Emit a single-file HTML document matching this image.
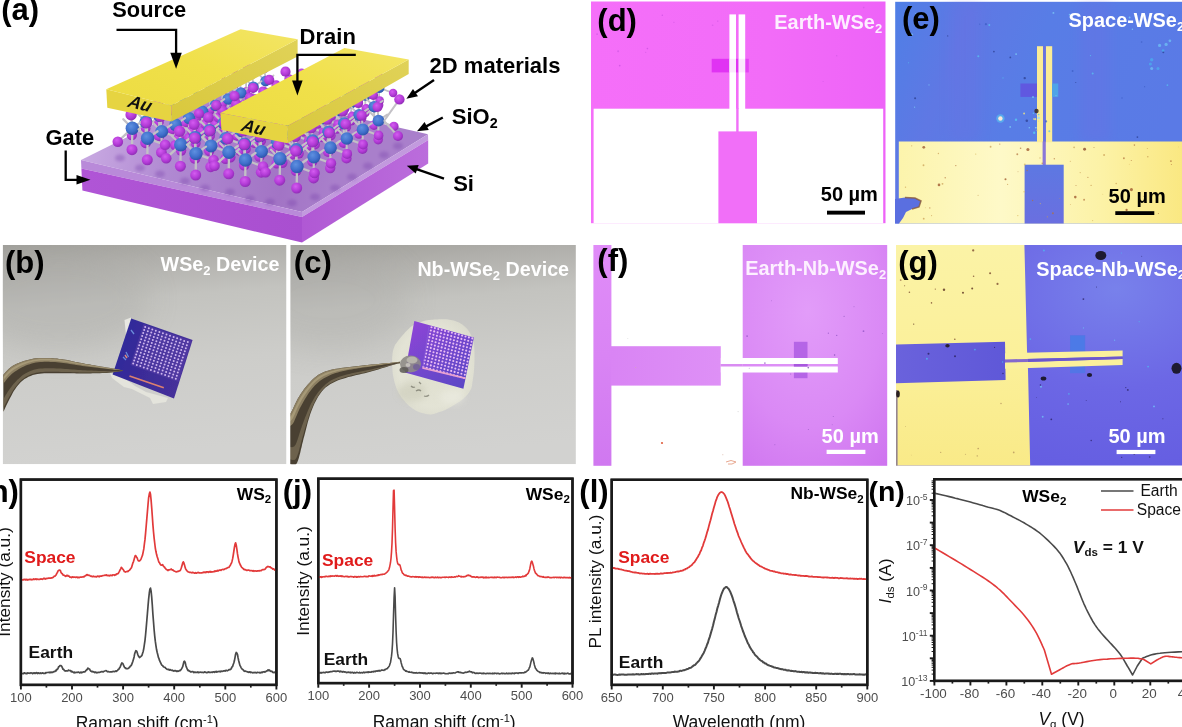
<!DOCTYPE html>
<html lang="en"><head><meta charset="utf-8"><title>Figure</title>
<style>
html,body{margin:0;padding:0;background:#fff;}
body{width:1182px;height:727px;overflow:hidden;position:relative;}
svg{display:block;position:absolute;left:-6px;top:-6px;font-family:"Liberation Sans", Arial, sans-serif;filter:blur(0.35px);}
svg text{font-family:"Liberation Sans", Arial, sans-serif;}
</style></head><body>
<svg width="1194" height="739" viewBox="-6 -6 1194 739">
<defs>

<linearGradient id="gd_pink" x1="0" y1="0" x2="1" y2="0"><stop offset="0" stop-color="#f56ff9"/><stop offset="0.6" stop-color="#f26cf8"/><stop offset="1" stop-color="#ee63f8"/></linearGradient>
<linearGradient id="ge_blue" x1="0" y1="0" x2="1" y2="0.3"><stop offset="0" stop-color="#4f7fe6"/><stop offset="0.25" stop-color="#5f78e4"/><stop offset="0.5" stop-color="#587de6"/><stop offset="1" stop-color="#5a7ae6"/></linearGradient>
<linearGradient id="ge_gold" x1="0" y1="0" x2="1" y2="0"><stop offset="0" stop-color="#fcf4ac"/><stop offset="0.35" stop-color="#fef9c8"/><stop offset="0.7" stop-color="#fcf2a6"/><stop offset="1" stop-color="#fae77e"/></linearGradient>
<linearGradient id="ge_pad" x1="0" y1="0" x2="0" y2="1"><stop offset="0" stop-color="#5d78e2"/><stop offset="1" stop-color="#6a6fe0"/></linearGradient>
<linearGradient id="gf_left" x1="0" y1="0" x2="0" y2="1"><stop offset="0" stop-color="#e08cf8"/><stop offset="0.5" stop-color="#d984f4"/><stop offset="1" stop-color="#d078f0"/></linearGradient>
<radialGradient id="gf_right" cx="0.45" cy="0.3" r="0.95"><stop offset="0" stop-color="#e29cf9"/><stop offset="0.55" stop-color="#da89f5"/><stop offset="1" stop-color="#cc70ee"/></radialGradient>
<linearGradient id="gf_pad" x1="0" y1="0" x2="1" y2="0"><stop offset="0" stop-color="#d984f4"/><stop offset="1" stop-color="#de90f6"/></linearGradient>
<radialGradient id="gg_blue" cx="0.75" cy="0.2" r="1.0"><stop offset="0" stop-color="#7881eb"/><stop offset="0.45" stop-color="#6c67e5"/><stop offset="1" stop-color="#625ae0"/></radialGradient>
<linearGradient id="gg_gold" x1="0" y1="0" x2="0" y2="1"><stop offset="0" stop-color="#fbf3a6"/><stop offset="0.5" stop-color="#fbf09a"/><stop offset="1" stop-color="#f9ea88"/></linearGradient>
<linearGradient id="gg_pad" x1="0" y1="0" x2="1" y2="0"><stop offset="0" stop-color="#6a62dc"/><stop offset="1" stop-color="#5f58d8"/></linearGradient>
<filter id="blur4" x="-50%" y="-50%" width="200%" height="200%"><feGaussianBlur stdDeviation="6"/></filter>
<filter id="blur1" x="-20%" y="-20%" width="140%" height="140%"><feGaussianBlur stdDeviation="0.6"/></filter>
<filter id="blur2" x="-20%" y="-20%" width="140%" height="140%"><feGaussianBlur stdDeviation="1.2"/></filter>


<radialGradient id="ga_pur" cx="0.4" cy="0.35" r="0.7"><stop offset="0" stop-color="#d45cf0"/><stop offset="0.6" stop-color="#b23ad6"/><stop offset="1" stop-color="#8a2ab0"/></radialGradient>
<radialGradient id="ga_blu" cx="0.4" cy="0.35" r="0.7"><stop offset="0" stop-color="#5f90e0"/><stop offset="0.6" stop-color="#3f6fcb"/><stop offset="1" stop-color="#2a4fa4"/></radialGradient>
<linearGradient id="ga_top" gradientUnits="userSpaceOnUse" x1="81" y1="160" x2="330" y2="200"><stop offset="0" stop-color="#c9aae2"/><stop offset="0.35" stop-color="#b089d2"/><stop offset="0.8" stop-color="#a274c5"/><stop offset="1" stop-color="#a97fcb"/></linearGradient>
<linearGradient id="ga_si1" x1="0" y1="0" x2="1" y2="0"><stop offset="0" stop-color="#b055d6"/><stop offset="1" stop-color="#a94fd0"/></linearGradient>
<linearGradient id="ga_si2" x1="0" y1="0" x2="1" y2="0"><stop offset="0" stop-color="#b058d4"/><stop offset="1" stop-color="#bb6ddc"/></linearGradient>
<linearGradient id="ga_au_t" x1="0" y1="1" x2="1" y2="0"><stop offset="0" stop-color="#ecdc42"/><stop offset="0.5" stop-color="#f0e04a"/><stop offset="1" stop-color="#f3e566"/></linearGradient>
<linearGradient id="ga_au_r" x1="0" y1="1" x2="1" y2="0"><stop offset="0" stop-color="#d9c83c"/><stop offset="1" stop-color="#e0d258"/></linearGradient>
<filter id="blur2a" x="-20%" y="-20%" width="140%" height="140%"><feGaussianBlur stdDeviation="1.6"/></filter>
<filter id="blur05" x="-5%" y="-5%" width="110%" height="110%"><feGaussianBlur stdDeviation="0.45"/></filter>


<linearGradient id="gb_bg" x1="0" y1="0" x2="0.12" y2="1"><stop offset="0" stop-color="#a09f9a"/><stop offset="0.12" stop-color="#b0afab"/><stop offset="0.3" stop-color="#c3c3bf"/><stop offset="0.6" stop-color="#cdcdca"/><stop offset="1" stop-color="#d2d2d0"/></linearGradient>
<linearGradient id="gb_chip" x1="0" y1="0" x2="1" y2="0.3"><stop offset="0" stop-color="#2b2a9c"/><stop offset="0.5" stop-color="#3a2c98"/><stop offset="1" stop-color="#46309a"/></linearGradient>
<linearGradient id="gc_chip" x1="0" y1="0" x2="0.8" y2="1"><stop offset="0" stop-color="#9244d8"/><stop offset="0.45" stop-color="#7746cf"/><stop offset="1" stop-color="#5c46c6"/></linearGradient>
<linearGradient id="gb_tw" x1="0" y1="0" x2="0" y2="1"><stop offset="0" stop-color="#8a8266"/><stop offset="0.2" stop-color="#544b36"/><stop offset="0.55" stop-color="#6e6248"/><stop offset="1" stop-color="#3e382a"/></linearGradient>
<linearGradient id="gc_tw" x1="0" y1="0" x2="0.5" y2="1"><stop offset="0" stop-color="#8a8266"/><stop offset="0.3" stop-color="#544b36"/><stop offset="0.6" stop-color="#6a5e46"/><stop offset="1" stop-color="#3e382a"/></linearGradient>
<radialGradient id="gc_glue" cx="0.5" cy="0.5" r="0.6"><stop offset="0" stop-color="#dfdfce"/><stop offset="0.7" stop-color="#e3e3d5"/><stop offset="1" stop-color="#d9d9cc"/></radialGradient>
<filter id="blur1p" x="-5%" y="-5%" width="110%" height="110%"><feGaussianBlur stdDeviation="0.65"/></filter>
<filter id="blur08" x="-5%" y="-5%" width="110%" height="110%"><feGaussianBlur stdDeviation="0.75"/></filter>
<filter id="blur2p" x="-30%" y="-30%" width="160%" height="160%"><feGaussianBlur stdDeviation="3"/></filter>
<filter id="blur12" x="-50%" y="-50%" width="200%" height="200%"><feGaussianBlur stdDeviation="14"/></filter>

</defs>
<rect x="-6" y="-6" width="1194" height="739" fill="#fff"/>
<g id="pa">
<polygon points="81.0,160.0 226.0,88.0 428.0,134.2 302.0,212.0" fill="url(#ga_top)"/>
<polygon points="81.0,160.0 302.0,212.0 302.0,217.0 81.4,168.4" fill="#b98ad9"/>
<polygon points="302.0,212.0 428.0,134.2 428.2,140.0 302.0,217.0" fill="#c29ade"/>
<polygon points="81.4,168.4 302.0,217.0 302.0,242.6 82.4,190.6" fill="url(#ga_si1)"/>
<polygon points="302.0,217.0 428.2,140.0 428.2,163.4 302.0,242.6" fill="url(#ga_si2)"/>
<g filter="url(#blur2a)" opacity="0.38"><ellipse cx="120" cy="158" rx="5" ry="3.6" fill="#7d46ad"/><ellipse cx="140" cy="168" rx="5" ry="3.6" fill="#7d46ad"/><ellipse cx="160" cy="174" rx="5" ry="3.6" fill="#7d46ad"/><ellipse cx="185" cy="181" rx="5" ry="3.6" fill="#7d46ad"/><ellipse cx="205" cy="188" rx="5" ry="3.6" fill="#7d46ad"/><ellipse cx="230" cy="192" rx="5" ry="3.6" fill="#7d46ad"/><ellipse cx="250" cy="199" rx="5" ry="3.6" fill="#7d46ad"/><ellipse cx="270" cy="202" rx="5" ry="3.6" fill="#7d46ad"/><ellipse cx="292" cy="203" rx="5" ry="3.6" fill="#7d46ad"/><ellipse cx="315" cy="197" rx="5" ry="3.6" fill="#7d46ad"/><ellipse cx="335" cy="188" rx="5" ry="3.6" fill="#7d46ad"/><ellipse cx="352" cy="177" rx="5" ry="3.6" fill="#7d46ad"/><ellipse cx="368" cy="166" rx="5" ry="3.6" fill="#7d46ad"/><ellipse cx="384" cy="155" rx="5" ry="3.6" fill="#7d46ad"/><ellipse cx="398" cy="146" rx="5" ry="3.6" fill="#7d46ad"/></g>
<g filter="url(#blur05)"><line x1="246.2" y1="74.6" x2="245.3" y2="63.8" stroke="#c3c1c6" stroke-width="1.83" stroke-linecap="round"/><line x1="246.2" y1="74.6" x2="246.0" y2="91.7" stroke="#c3c1c6" stroke-width="1.83" stroke-linecap="round"/><line x1="246.2" y1="74.6" x2="234.7" y2="85.3" stroke="#c3c1c6" stroke-width="1.83" stroke-linecap="round"/><line x1="246.2" y1="74.6" x2="239.1" y2="67.4" stroke="#c3c1c6" stroke-width="1.83" stroke-linecap="round"/><line x1="246.2" y1="74.6" x2="254.2" y2="69.0" stroke="#c3c1c6" stroke-width="1.83" stroke-linecap="round"/><circle cx="234.7" cy="85.3" r="4.2" fill="url(#ga_pur)"/><circle cx="246.0" cy="91.7" r="4.4" fill="url(#ga_pur)"/><circle cx="246.2" cy="74.6" r="5.3" fill="url(#ga_blu)"/><circle cx="245.3" cy="63.8" r="4.5" fill="url(#ga_pur)"/><line x1="265.5" y1="81.0" x2="264.5" y2="68.6" stroke="#c3c1c6" stroke-width="1.83" stroke-linecap="round"/><line x1="265.5" y1="81.0" x2="265.3" y2="98.1" stroke="#c3c1c6" stroke-width="1.83" stroke-linecap="round"/><line x1="265.5" y1="81.0" x2="279.4" y2="86.1" stroke="#c3c1c6" stroke-width="1.83" stroke-linecap="round"/><line x1="265.5" y1="81.0" x2="258.3" y2="73.8" stroke="#c3c1c6" stroke-width="1.83" stroke-linecap="round"/><line x1="265.5" y1="81.0" x2="273.5" y2="75.4" stroke="#c3c1c6" stroke-width="1.83" stroke-linecap="round"/><circle cx="279.4" cy="86.1" r="4.2" fill="url(#ga_pur)"/><circle cx="265.3" cy="98.1" r="4.4" fill="url(#ga_pur)"/><circle cx="265.5" cy="81.0" r="5.3" fill="url(#ga_blu)"/><circle cx="264.5" cy="68.6" r="4.5" fill="url(#ga_pur)"/><line x1="302.5" y1="83.7" x2="301.6" y2="72.9" stroke="#c3c1c6" stroke-width="1.83" stroke-linecap="round"/><line x1="302.5" y1="83.7" x2="302.3" y2="100.8" stroke="#c3c1c6" stroke-width="1.83" stroke-linecap="round"/><line x1="302.5" y1="83.7" x2="291.0" y2="94.4" stroke="#c3c1c6" stroke-width="1.83" stroke-linecap="round"/><line x1="302.5" y1="83.7" x2="295.4" y2="76.5" stroke="#c3c1c6" stroke-width="1.83" stroke-linecap="round"/><line x1="302.5" y1="83.7" x2="310.5" y2="78.1" stroke="#c3c1c6" stroke-width="1.83" stroke-linecap="round"/><circle cx="291.0" cy="94.4" r="4.2" fill="url(#ga_pur)"/><circle cx="302.3" cy="100.8" r="4.4" fill="url(#ga_pur)"/><circle cx="302.5" cy="83.7" r="5.3" fill="url(#ga_blu)"/><circle cx="301.6" cy="72.9" r="4.5" fill="url(#ga_pur)"/><line x1="321.8" y1="88.8" x2="320.8" y2="76.5" stroke="#c3c1c6" stroke-width="1.83" stroke-linecap="round"/><line x1="321.8" y1="88.8" x2="321.6" y2="106.0" stroke="#c3c1c6" stroke-width="1.83" stroke-linecap="round"/><line x1="321.8" y1="88.8" x2="335.7" y2="94.0" stroke="#c3c1c6" stroke-width="1.83" stroke-linecap="round"/><line x1="321.8" y1="88.8" x2="314.6" y2="81.7" stroke="#c3c1c6" stroke-width="1.83" stroke-linecap="round"/><line x1="321.8" y1="88.8" x2="329.8" y2="83.3" stroke="#c3c1c6" stroke-width="1.83" stroke-linecap="round"/><circle cx="335.7" cy="94.0" r="4.2" fill="url(#ga_pur)"/><circle cx="321.6" cy="106.0" r="4.4" fill="url(#ga_pur)"/><circle cx="321.8" cy="88.8" r="5.3" fill="url(#ga_blu)"/><circle cx="320.8" cy="76.5" r="4.5" fill="url(#ga_pur)"/><line x1="358.7" y1="83.8" x2="357.8" y2="73.1" stroke="#c3c1c6" stroke-width="1.83" stroke-linecap="round"/><line x1="358.7" y1="83.8" x2="358.5" y2="101.0" stroke="#c3c1c6" stroke-width="1.83" stroke-linecap="round"/><line x1="358.7" y1="83.8" x2="347.2" y2="94.6" stroke="#c3c1c6" stroke-width="1.83" stroke-linecap="round"/><line x1="358.7" y1="83.8" x2="351.6" y2="76.7" stroke="#c3c1c6" stroke-width="1.83" stroke-linecap="round"/><line x1="358.7" y1="83.8" x2="366.7" y2="78.3" stroke="#c3c1c6" stroke-width="1.83" stroke-linecap="round"/><circle cx="347.2" cy="94.6" r="4.2" fill="url(#ga_pur)"/><circle cx="358.5" cy="101.0" r="4.4" fill="url(#ga_pur)"/><circle cx="358.7" cy="83.8" r="5.3" fill="url(#ga_blu)"/><circle cx="357.8" cy="73.1" r="4.5" fill="url(#ga_pur)"/><line x1="379.2" y1="87.8" x2="378.2" y2="75.5" stroke="#c3c1c6" stroke-width="1.83" stroke-linecap="round"/><line x1="379.2" y1="87.8" x2="379.0" y2="104.9" stroke="#c3c1c6" stroke-width="1.83" stroke-linecap="round"/><line x1="379.2" y1="87.8" x2="393.1" y2="93.0" stroke="#c3c1c6" stroke-width="1.83" stroke-linecap="round"/><line x1="379.2" y1="87.8" x2="372.0" y2="80.7" stroke="#c3c1c6" stroke-width="1.83" stroke-linecap="round"/><line x1="379.2" y1="87.8" x2="387.2" y2="82.3" stroke="#c3c1c6" stroke-width="1.83" stroke-linecap="round"/><circle cx="393.1" cy="93.0" r="4.2" fill="url(#ga_pur)"/><circle cx="379.0" cy="104.9" r="4.4" fill="url(#ga_pur)"/><circle cx="379.2" cy="87.8" r="5.3" fill="url(#ga_blu)"/><circle cx="378.2" cy="75.5" r="4.5" fill="url(#ga_pur)"/><line x1="234.5" y1="80.1" x2="233.5" y2="69.1" stroke="#c3c1c6" stroke-width="1.88" stroke-linecap="round"/><line x1="234.5" y1="80.1" x2="234.2" y2="97.7" stroke="#c3c1c6" stroke-width="1.88" stroke-linecap="round"/><line x1="234.5" y1="80.1" x2="222.6" y2="91.1" stroke="#c3c1c6" stroke-width="1.88" stroke-linecap="round"/><line x1="234.5" y1="80.1" x2="227.1" y2="72.8" stroke="#c3c1c6" stroke-width="1.88" stroke-linecap="round"/><line x1="234.5" y1="80.1" x2="242.7" y2="74.4" stroke="#c3c1c6" stroke-width="1.88" stroke-linecap="round"/><circle cx="222.6" cy="91.1" r="4.3" fill="url(#ga_pur)"/><circle cx="234.2" cy="97.7" r="4.5" fill="url(#ga_pur)"/><circle cx="234.5" cy="80.1" r="5.5" fill="url(#ga_blu)"/><circle cx="233.5" cy="69.1" r="4.7" fill="url(#ga_pur)"/><line x1="253.3" y1="86.9" x2="252.3" y2="74.2" stroke="#c3c1c6" stroke-width="1.88" stroke-linecap="round"/><line x1="253.3" y1="86.9" x2="253.1" y2="104.4" stroke="#c3c1c6" stroke-width="1.88" stroke-linecap="round"/><line x1="253.3" y1="86.9" x2="267.6" y2="92.2" stroke="#c3c1c6" stroke-width="1.88" stroke-linecap="round"/><line x1="253.3" y1="86.9" x2="246.0" y2="79.5" stroke="#c3c1c6" stroke-width="1.88" stroke-linecap="round"/><line x1="253.3" y1="86.9" x2="261.5" y2="81.2" stroke="#c3c1c6" stroke-width="1.88" stroke-linecap="round"/><circle cx="267.6" cy="92.2" r="4.3" fill="url(#ga_pur)"/><circle cx="253.1" cy="104.4" r="4.5" fill="url(#ga_pur)"/><circle cx="253.3" cy="86.9" r="5.5" fill="url(#ga_blu)"/><circle cx="252.3" cy="74.2" r="4.7" fill="url(#ga_pur)"/><line x1="290.0" y1="90.0" x2="289.0" y2="78.9" stroke="#c3c1c6" stroke-width="1.88" stroke-linecap="round"/><line x1="290.0" y1="90.0" x2="289.7" y2="107.5" stroke="#c3c1c6" stroke-width="1.88" stroke-linecap="round"/><line x1="290.0" y1="90.0" x2="278.1" y2="101.0" stroke="#c3c1c6" stroke-width="1.88" stroke-linecap="round"/><line x1="290.0" y1="90.0" x2="282.6" y2="82.6" stroke="#c3c1c6" stroke-width="1.88" stroke-linecap="round"/><line x1="290.0" y1="90.0" x2="298.1" y2="84.2" stroke="#c3c1c6" stroke-width="1.88" stroke-linecap="round"/><circle cx="278.1" cy="101.0" r="4.3" fill="url(#ga_pur)"/><circle cx="289.7" cy="107.5" r="4.5" fill="url(#ga_pur)"/><circle cx="290.0" cy="90.0" r="5.5" fill="url(#ga_blu)"/><circle cx="289.0" cy="78.9" r="4.7" fill="url(#ga_pur)"/><line x1="308.8" y1="95.5" x2="307.8" y2="82.9" stroke="#c3c1c6" stroke-width="1.88" stroke-linecap="round"/><line x1="308.8" y1="95.5" x2="308.6" y2="113.1" stroke="#c3c1c6" stroke-width="1.88" stroke-linecap="round"/><line x1="308.8" y1="95.5" x2="323.1" y2="100.8" stroke="#c3c1c6" stroke-width="1.88" stroke-linecap="round"/><line x1="308.8" y1="95.5" x2="301.5" y2="88.2" stroke="#c3c1c6" stroke-width="1.88" stroke-linecap="round"/><line x1="308.8" y1="95.5" x2="317.0" y2="89.8" stroke="#c3c1c6" stroke-width="1.88" stroke-linecap="round"/><circle cx="323.1" cy="100.8" r="4.3" fill="url(#ga_pur)"/><circle cx="308.6" cy="113.1" r="4.5" fill="url(#ga_pur)"/><circle cx="308.8" cy="95.5" r="5.5" fill="url(#ga_blu)"/><circle cx="307.8" cy="82.9" r="4.7" fill="url(#ga_pur)"/><line x1="345.4" y1="90.9" x2="344.4" y2="79.9" stroke="#c3c1c6" stroke-width="1.88" stroke-linecap="round"/><line x1="345.4" y1="90.9" x2="345.1" y2="108.5" stroke="#c3c1c6" stroke-width="1.88" stroke-linecap="round"/><line x1="345.4" y1="90.9" x2="333.5" y2="101.9" stroke="#c3c1c6" stroke-width="1.88" stroke-linecap="round"/><line x1="345.4" y1="90.9" x2="338.0" y2="83.6" stroke="#c3c1c6" stroke-width="1.88" stroke-linecap="round"/><line x1="345.4" y1="90.9" x2="353.5" y2="85.2" stroke="#c3c1c6" stroke-width="1.88" stroke-linecap="round"/><circle cx="333.5" cy="101.9" r="4.3" fill="url(#ga_pur)"/><circle cx="345.1" cy="108.5" r="4.5" fill="url(#ga_pur)"/><circle cx="345.4" cy="90.9" r="5.5" fill="url(#ga_blu)"/><circle cx="344.4" cy="79.9" r="4.7" fill="url(#ga_pur)"/><line x1="365.4" y1="95.3" x2="364.4" y2="82.6" stroke="#c3c1c6" stroke-width="1.88" stroke-linecap="round"/><line x1="365.4" y1="95.3" x2="365.2" y2="112.8" stroke="#c3c1c6" stroke-width="1.88" stroke-linecap="round"/><line x1="365.4" y1="95.3" x2="379.7" y2="100.6" stroke="#c3c1c6" stroke-width="1.88" stroke-linecap="round"/><line x1="365.4" y1="95.3" x2="358.0" y2="87.9" stroke="#c3c1c6" stroke-width="1.88" stroke-linecap="round"/><line x1="365.4" y1="95.3" x2="373.6" y2="89.6" stroke="#c3c1c6" stroke-width="1.88" stroke-linecap="round"/><circle cx="379.7" cy="100.6" r="4.3" fill="url(#ga_pur)"/><circle cx="365.2" cy="112.8" r="4.5" fill="url(#ga_pur)"/><circle cx="365.4" cy="95.3" r="5.5" fill="url(#ga_blu)"/><circle cx="364.4" cy="82.6" r="4.7" fill="url(#ga_pur)"/><line x1="222.5" y1="85.7" x2="221.5" y2="74.4" stroke="#c3c1c6" stroke-width="1.93" stroke-linecap="round"/><line x1="222.5" y1="85.7" x2="222.3" y2="103.8" stroke="#c3c1c6" stroke-width="1.93" stroke-linecap="round"/><line x1="222.5" y1="85.7" x2="210.4" y2="97.1" stroke="#c3c1c6" stroke-width="1.93" stroke-linecap="round"/><line x1="222.5" y1="85.7" x2="215.0" y2="78.2" stroke="#c3c1c6" stroke-width="1.93" stroke-linecap="round"/><line x1="222.5" y1="85.7" x2="230.9" y2="79.9" stroke="#c3c1c6" stroke-width="1.93" stroke-linecap="round"/><circle cx="210.4" cy="97.1" r="4.4" fill="url(#ga_pur)"/><circle cx="222.3" cy="103.8" r="4.6" fill="url(#ga_pur)"/><circle cx="222.5" cy="85.7" r="5.6" fill="url(#ga_blu)"/><circle cx="221.5" cy="74.4" r="4.8" fill="url(#ga_pur)"/><line x1="240.9" y1="92.9" x2="239.9" y2="79.9" stroke="#c3c1c6" stroke-width="1.93" stroke-linecap="round"/><line x1="240.9" y1="92.9" x2="240.7" y2="110.9" stroke="#c3c1c6" stroke-width="1.93" stroke-linecap="round"/><line x1="240.9" y1="92.9" x2="255.6" y2="98.4" stroke="#c3c1c6" stroke-width="1.93" stroke-linecap="round"/><line x1="240.9" y1="92.9" x2="233.4" y2="85.4" stroke="#c3c1c6" stroke-width="1.93" stroke-linecap="round"/><line x1="240.9" y1="92.9" x2="249.3" y2="87.0" stroke="#c3c1c6" stroke-width="1.93" stroke-linecap="round"/><circle cx="255.6" cy="98.4" r="4.4" fill="url(#ga_pur)"/><circle cx="240.7" cy="110.9" r="4.6" fill="url(#ga_pur)"/><circle cx="240.9" cy="92.9" r="5.6" fill="url(#ga_blu)"/><circle cx="239.9" cy="79.9" r="4.8" fill="url(#ga_pur)"/><line x1="277.2" y1="96.4" x2="276.2" y2="85.1" stroke="#c3c1c6" stroke-width="1.93" stroke-linecap="round"/><line x1="277.2" y1="96.4" x2="276.9" y2="114.4" stroke="#c3c1c6" stroke-width="1.93" stroke-linecap="round"/><line x1="277.2" y1="96.4" x2="265.0" y2="107.7" stroke="#c3c1c6" stroke-width="1.93" stroke-linecap="round"/><line x1="277.2" y1="96.4" x2="269.6" y2="88.8" stroke="#c3c1c6" stroke-width="1.93" stroke-linecap="round"/><line x1="277.2" y1="96.4" x2="285.5" y2="90.5" stroke="#c3c1c6" stroke-width="1.93" stroke-linecap="round"/><circle cx="265.0" cy="107.7" r="4.4" fill="url(#ga_pur)"/><circle cx="276.9" cy="114.4" r="4.6" fill="url(#ga_pur)"/><circle cx="277.2" cy="96.4" r="5.6" fill="url(#ga_blu)"/><circle cx="276.2" cy="85.1" r="4.8" fill="url(#ga_pur)"/><line x1="295.6" y1="102.3" x2="294.6" y2="89.4" stroke="#c3c1c6" stroke-width="1.93" stroke-linecap="round"/><line x1="295.6" y1="102.3" x2="295.3" y2="120.3" stroke="#c3c1c6" stroke-width="1.93" stroke-linecap="round"/><line x1="295.6" y1="102.3" x2="310.2" y2="107.8" stroke="#c3c1c6" stroke-width="1.93" stroke-linecap="round"/><line x1="295.6" y1="102.3" x2="288.1" y2="94.8" stroke="#c3c1c6" stroke-width="1.93" stroke-linecap="round"/><line x1="295.6" y1="102.3" x2="304.0" y2="96.5" stroke="#c3c1c6" stroke-width="1.93" stroke-linecap="round"/><circle cx="310.2" cy="107.8" r="4.4" fill="url(#ga_pur)"/><circle cx="295.3" cy="120.3" r="4.6" fill="url(#ga_pur)"/><circle cx="295.6" cy="102.3" r="5.6" fill="url(#ga_blu)"/><circle cx="294.6" cy="89.4" r="4.8" fill="url(#ga_pur)"/><line x1="331.7" y1="98.1" x2="330.7" y2="86.8" stroke="#c3c1c6" stroke-width="1.93" stroke-linecap="round"/><line x1="331.7" y1="98.1" x2="331.5" y2="116.1" stroke="#c3c1c6" stroke-width="1.93" stroke-linecap="round"/><line x1="331.7" y1="98.1" x2="319.6" y2="109.4" stroke="#c3c1c6" stroke-width="1.93" stroke-linecap="round"/><line x1="331.7" y1="98.1" x2="324.2" y2="90.6" stroke="#c3c1c6" stroke-width="1.93" stroke-linecap="round"/><line x1="331.7" y1="98.1" x2="340.1" y2="92.2" stroke="#c3c1c6" stroke-width="1.93" stroke-linecap="round"/><circle cx="319.6" cy="109.4" r="4.4" fill="url(#ga_pur)"/><circle cx="331.5" cy="116.1" r="4.6" fill="url(#ga_pur)"/><circle cx="331.7" cy="98.1" r="5.6" fill="url(#ga_blu)"/><circle cx="330.7" cy="86.8" r="4.8" fill="url(#ga_pur)"/><line x1="351.3" y1="102.9" x2="350.3" y2="89.9" stroke="#c3c1c6" stroke-width="1.93" stroke-linecap="round"/><line x1="351.3" y1="102.9" x2="351.1" y2="120.9" stroke="#c3c1c6" stroke-width="1.93" stroke-linecap="round"/><line x1="351.3" y1="102.9" x2="366.0" y2="108.3" stroke="#c3c1c6" stroke-width="1.93" stroke-linecap="round"/><line x1="351.3" y1="102.9" x2="343.8" y2="95.3" stroke="#c3c1c6" stroke-width="1.93" stroke-linecap="round"/><line x1="351.3" y1="102.9" x2="359.7" y2="97.0" stroke="#c3c1c6" stroke-width="1.93" stroke-linecap="round"/><circle cx="366.0" cy="108.3" r="4.4" fill="url(#ga_pur)"/><circle cx="351.1" cy="120.9" r="4.6" fill="url(#ga_pur)"/><circle cx="351.3" cy="102.9" r="5.6" fill="url(#ga_blu)"/><circle cx="350.3" cy="89.9" r="4.8" fill="url(#ga_pur)"/><line x1="210.3" y1="91.5" x2="209.3" y2="79.9" stroke="#c3c1c6" stroke-width="1.98" stroke-linecap="round"/><line x1="210.3" y1="91.5" x2="210.1" y2="110.0" stroke="#c3c1c6" stroke-width="1.98" stroke-linecap="round"/><line x1="210.3" y1="91.5" x2="197.9" y2="103.1" stroke="#c3c1c6" stroke-width="1.98" stroke-linecap="round"/><line x1="210.3" y1="91.5" x2="202.6" y2="83.8" stroke="#c3c1c6" stroke-width="1.98" stroke-linecap="round"/><line x1="210.3" y1="91.5" x2="218.9" y2="85.5" stroke="#c3c1c6" stroke-width="1.98" stroke-linecap="round"/><circle cx="197.9" cy="103.1" r="4.6" fill="url(#ga_pur)"/><circle cx="210.1" cy="110.0" r="4.7" fill="url(#ga_pur)"/><circle cx="210.3" cy="91.5" r="5.8" fill="url(#ga_blu)"/><circle cx="209.3" cy="79.9" r="4.9" fill="url(#ga_pur)"/><line x1="228.3" y1="99.0" x2="227.3" y2="85.7" stroke="#c3c1c6" stroke-width="1.98" stroke-linecap="round"/><line x1="228.3" y1="99.0" x2="228.1" y2="117.5" stroke="#c3c1c6" stroke-width="1.98" stroke-linecap="round"/><line x1="228.3" y1="99.0" x2="243.4" y2="104.6" stroke="#c3c1c6" stroke-width="1.98" stroke-linecap="round"/><line x1="228.3" y1="99.0" x2="220.6" y2="91.3" stroke="#c3c1c6" stroke-width="1.98" stroke-linecap="round"/><line x1="228.3" y1="99.0" x2="236.9" y2="93.0" stroke="#c3c1c6" stroke-width="1.98" stroke-linecap="round"/><circle cx="243.4" cy="104.6" r="4.6" fill="url(#ga_pur)"/><circle cx="228.1" cy="117.5" r="4.7" fill="url(#ga_pur)"/><circle cx="228.3" cy="99.0" r="5.8" fill="url(#ga_blu)"/><circle cx="227.3" cy="85.7" r="4.9" fill="url(#ga_pur)"/><line x1="264.1" y1="102.9" x2="263.1" y2="91.3" stroke="#c3c1c6" stroke-width="1.98" stroke-linecap="round"/><line x1="264.1" y1="102.9" x2="263.9" y2="121.4" stroke="#c3c1c6" stroke-width="1.98" stroke-linecap="round"/><line x1="264.1" y1="102.9" x2="251.7" y2="114.5" stroke="#c3c1c6" stroke-width="1.98" stroke-linecap="round"/><line x1="264.1" y1="102.9" x2="256.4" y2="95.2" stroke="#c3c1c6" stroke-width="1.98" stroke-linecap="round"/><line x1="264.1" y1="102.9" x2="272.7" y2="96.9" stroke="#c3c1c6" stroke-width="1.98" stroke-linecap="round"/><circle cx="251.7" cy="114.5" r="4.6" fill="url(#ga_pur)"/><circle cx="263.9" cy="121.4" r="4.7" fill="url(#ga_pur)"/><circle cx="264.1" cy="102.9" r="5.8" fill="url(#ga_blu)"/><circle cx="263.1" cy="91.3" r="4.9" fill="url(#ga_pur)"/><line x1="282.1" y1="109.3" x2="281.1" y2="96.0" stroke="#c3c1c6" stroke-width="1.98" stroke-linecap="round"/><line x1="282.1" y1="109.3" x2="281.9" y2="127.7" stroke="#c3c1c6" stroke-width="1.98" stroke-linecap="round"/><line x1="282.1" y1="109.3" x2="297.2" y2="114.8" stroke="#c3c1c6" stroke-width="1.98" stroke-linecap="round"/><line x1="282.1" y1="109.3" x2="274.4" y2="101.5" stroke="#c3c1c6" stroke-width="1.98" stroke-linecap="round"/><line x1="282.1" y1="109.3" x2="290.7" y2="103.3" stroke="#c3c1c6" stroke-width="1.98" stroke-linecap="round"/><circle cx="297.2" cy="114.8" r="4.6" fill="url(#ga_pur)"/><circle cx="281.9" cy="127.7" r="4.7" fill="url(#ga_pur)"/><circle cx="282.1" cy="109.3" r="5.8" fill="url(#ga_blu)"/><circle cx="281.1" cy="96.0" r="4.9" fill="url(#ga_pur)"/><line x1="317.8" y1="105.4" x2="316.8" y2="93.8" stroke="#c3c1c6" stroke-width="1.98" stroke-linecap="round"/><line x1="317.8" y1="105.4" x2="317.6" y2="123.9" stroke="#c3c1c6" stroke-width="1.98" stroke-linecap="round"/><line x1="317.8" y1="105.4" x2="305.4" y2="117.0" stroke="#c3c1c6" stroke-width="1.98" stroke-linecap="round"/><line x1="317.8" y1="105.4" x2="310.1" y2="97.7" stroke="#c3c1c6" stroke-width="1.98" stroke-linecap="round"/><line x1="317.8" y1="105.4" x2="326.4" y2="99.4" stroke="#c3c1c6" stroke-width="1.98" stroke-linecap="round"/><circle cx="305.4" cy="117.0" r="4.6" fill="url(#ga_pur)"/><circle cx="317.6" cy="123.9" r="4.7" fill="url(#ga_pur)"/><circle cx="317.8" cy="105.4" r="5.8" fill="url(#ga_blu)"/><circle cx="316.8" cy="93.8" r="4.9" fill="url(#ga_pur)"/><line x1="337.0" y1="110.6" x2="336.0" y2="97.3" stroke="#c3c1c6" stroke-width="1.98" stroke-linecap="round"/><line x1="337.0" y1="110.6" x2="336.8" y2="129.1" stroke="#c3c1c6" stroke-width="1.98" stroke-linecap="round"/><line x1="337.0" y1="110.6" x2="352.1" y2="116.2" stroke="#c3c1c6" stroke-width="1.98" stroke-linecap="round"/><line x1="337.0" y1="110.6" x2="329.3" y2="102.9" stroke="#c3c1c6" stroke-width="1.98" stroke-linecap="round"/><line x1="337.0" y1="110.6" x2="345.6" y2="104.6" stroke="#c3c1c6" stroke-width="1.98" stroke-linecap="round"/><circle cx="352.1" cy="116.2" r="4.6" fill="url(#ga_pur)"/><circle cx="336.8" cy="129.1" r="4.7" fill="url(#ga_pur)"/><circle cx="337.0" cy="110.6" r="5.8" fill="url(#ga_blu)"/><circle cx="336.0" cy="97.3" r="4.9" fill="url(#ga_pur)"/><line x1="374.2" y1="106.7" x2="373.2" y2="95.1" stroke="#c3c1c6" stroke-width="1.98" stroke-linecap="round"/><line x1="374.2" y1="106.7" x2="374.0" y2="125.2" stroke="#c3c1c6" stroke-width="1.98" stroke-linecap="round"/><line x1="374.2" y1="106.7" x2="361.8" y2="118.3" stroke="#c3c1c6" stroke-width="1.98" stroke-linecap="round"/><line x1="374.2" y1="106.7" x2="366.5" y2="99.0" stroke="#c3c1c6" stroke-width="1.98" stroke-linecap="round"/><line x1="374.2" y1="106.7" x2="382.8" y2="100.7" stroke="#c3c1c6" stroke-width="1.98" stroke-linecap="round"/><circle cx="361.8" cy="118.3" r="4.6" fill="url(#ga_pur)"/><circle cx="374.0" cy="125.2" r="4.7" fill="url(#ga_pur)"/><circle cx="374.2" cy="106.7" r="5.8" fill="url(#ga_blu)"/><circle cx="373.2" cy="95.1" r="4.9" fill="url(#ga_pur)"/><line x1="197.9" y1="97.3" x2="196.8" y2="85.4" stroke="#c3c1c6" stroke-width="2.03" stroke-linecap="round"/><line x1="197.9" y1="97.3" x2="197.6" y2="116.3" stroke="#c3c1c6" stroke-width="2.03" stroke-linecap="round"/><line x1="197.9" y1="97.3" x2="185.1" y2="109.2" stroke="#c3c1c6" stroke-width="2.03" stroke-linecap="round"/><line x1="197.9" y1="97.3" x2="190.0" y2="89.4" stroke="#c3c1c6" stroke-width="2.03" stroke-linecap="round"/><line x1="197.9" y1="97.3" x2="206.7" y2="91.2" stroke="#c3c1c6" stroke-width="2.03" stroke-linecap="round"/><circle cx="185.1" cy="109.2" r="4.7" fill="url(#ga_pur)"/><circle cx="197.6" cy="116.3" r="4.8" fill="url(#ga_pur)"/><circle cx="197.9" cy="97.3" r="5.9" fill="url(#ga_blu)"/><circle cx="196.8" cy="85.4" r="5.0" fill="url(#ga_pur)"/><line x1="215.5" y1="105.3" x2="214.4" y2="91.6" stroke="#c3c1c6" stroke-width="2.03" stroke-linecap="round"/><line x1="215.5" y1="105.3" x2="215.2" y2="124.2" stroke="#c3c1c6" stroke-width="2.03" stroke-linecap="round"/><line x1="215.5" y1="105.3" x2="230.9" y2="111.0" stroke="#c3c1c6" stroke-width="2.03" stroke-linecap="round"/><line x1="215.5" y1="105.3" x2="207.5" y2="97.4" stroke="#c3c1c6" stroke-width="2.03" stroke-linecap="round"/><line x1="215.5" y1="105.3" x2="224.3" y2="99.1" stroke="#c3c1c6" stroke-width="2.03" stroke-linecap="round"/><circle cx="230.9" cy="111.0" r="4.7" fill="url(#ga_pur)"/><circle cx="215.2" cy="124.2" r="4.8" fill="url(#ga_pur)"/><circle cx="215.5" cy="105.3" r="5.9" fill="url(#ga_blu)"/><circle cx="214.4" cy="91.6" r="5.0" fill="url(#ga_pur)"/><line x1="250.8" y1="109.6" x2="249.8" y2="97.7" stroke="#c3c1c6" stroke-width="2.03" stroke-linecap="round"/><line x1="250.8" y1="109.6" x2="250.6" y2="128.5" stroke="#c3c1c6" stroke-width="2.03" stroke-linecap="round"/><line x1="250.8" y1="109.6" x2="238.1" y2="121.5" stroke="#c3c1c6" stroke-width="2.03" stroke-linecap="round"/><line x1="250.8" y1="109.6" x2="242.9" y2="101.6" stroke="#c3c1c6" stroke-width="2.03" stroke-linecap="round"/><line x1="250.8" y1="109.6" x2="259.7" y2="103.4" stroke="#c3c1c6" stroke-width="2.03" stroke-linecap="round"/><circle cx="238.1" cy="121.5" r="4.7" fill="url(#ga_pur)"/><circle cx="250.6" cy="128.5" r="4.8" fill="url(#ga_pur)"/><circle cx="250.8" cy="109.6" r="5.9" fill="url(#ga_blu)"/><circle cx="249.8" cy="97.7" r="5.0" fill="url(#ga_pur)"/><line x1="268.4" y1="116.3" x2="267.4" y2="102.7" stroke="#c3c1c6" stroke-width="2.03" stroke-linecap="round"/><line x1="268.4" y1="116.3" x2="268.2" y2="135.3" stroke="#c3c1c6" stroke-width="2.03" stroke-linecap="round"/><line x1="268.4" y1="116.3" x2="283.8" y2="122.1" stroke="#c3c1c6" stroke-width="2.03" stroke-linecap="round"/><line x1="268.4" y1="116.3" x2="260.5" y2="108.4" stroke="#c3c1c6" stroke-width="2.03" stroke-linecap="round"/><line x1="268.4" y1="116.3" x2="277.2" y2="110.2" stroke="#c3c1c6" stroke-width="2.03" stroke-linecap="round"/><circle cx="283.8" cy="122.1" r="4.7" fill="url(#ga_pur)"/><circle cx="268.2" cy="135.3" r="4.8" fill="url(#ga_pur)"/><circle cx="268.4" cy="116.3" r="5.9" fill="url(#ga_blu)"/><circle cx="267.4" cy="102.7" r="5.0" fill="url(#ga_pur)"/><line x1="303.7" y1="112.9" x2="302.6" y2="101.0" stroke="#c3c1c6" stroke-width="2.03" stroke-linecap="round"/><line x1="303.7" y1="112.9" x2="303.4" y2="131.8" stroke="#c3c1c6" stroke-width="2.03" stroke-linecap="round"/><line x1="303.7" y1="112.9" x2="290.9" y2="124.8" stroke="#c3c1c6" stroke-width="2.03" stroke-linecap="round"/><line x1="303.7" y1="112.9" x2="295.8" y2="105.0" stroke="#c3c1c6" stroke-width="2.03" stroke-linecap="round"/><line x1="303.7" y1="112.9" x2="312.5" y2="106.7" stroke="#c3c1c6" stroke-width="2.03" stroke-linecap="round"/><circle cx="290.9" cy="124.8" r="4.7" fill="url(#ga_pur)"/><circle cx="303.4" cy="131.8" r="4.8" fill="url(#ga_pur)"/><circle cx="303.7" cy="112.9" r="5.9" fill="url(#ga_blu)"/><circle cx="302.6" cy="101.0" r="5.0" fill="url(#ga_pur)"/><line x1="322.5" y1="118.5" x2="321.4" y2="104.8" stroke="#c3c1c6" stroke-width="2.03" stroke-linecap="round"/><line x1="322.5" y1="118.5" x2="322.2" y2="137.4" stroke="#c3c1c6" stroke-width="2.03" stroke-linecap="round"/><line x1="322.5" y1="118.5" x2="337.9" y2="124.2" stroke="#c3c1c6" stroke-width="2.03" stroke-linecap="round"/><line x1="322.5" y1="118.5" x2="314.5" y2="110.5" stroke="#c3c1c6" stroke-width="2.03" stroke-linecap="round"/><line x1="322.5" y1="118.5" x2="331.3" y2="112.3" stroke="#c3c1c6" stroke-width="2.03" stroke-linecap="round"/><circle cx="337.9" cy="124.2" r="4.7" fill="url(#ga_pur)"/><circle cx="322.2" cy="137.4" r="4.8" fill="url(#ga_pur)"/><circle cx="322.5" cy="118.5" r="5.9" fill="url(#ga_blu)"/><circle cx="321.4" cy="104.8" r="5.0" fill="url(#ga_pur)"/><line x1="359.2" y1="115.0" x2="358.2" y2="103.1" stroke="#c3c1c6" stroke-width="2.03" stroke-linecap="round"/><line x1="359.2" y1="115.0" x2="359.0" y2="134.0" stroke="#c3c1c6" stroke-width="2.03" stroke-linecap="round"/><line x1="359.2" y1="115.0" x2="346.5" y2="126.9" stroke="#c3c1c6" stroke-width="2.03" stroke-linecap="round"/><line x1="359.2" y1="115.0" x2="351.3" y2="107.1" stroke="#c3c1c6" stroke-width="2.03" stroke-linecap="round"/><line x1="359.2" y1="115.0" x2="368.0" y2="108.8" stroke="#c3c1c6" stroke-width="2.03" stroke-linecap="round"/><circle cx="346.5" cy="126.9" r="4.7" fill="url(#ga_pur)"/><circle cx="359.0" cy="134.0" r="4.8" fill="url(#ga_pur)"/><circle cx="359.2" cy="115.0" r="5.9" fill="url(#ga_blu)"/><circle cx="358.2" cy="103.1" r="5.0" fill="url(#ga_pur)"/><line x1="378.5" y1="120.7" x2="377.5" y2="107.0" stroke="#c3c1c6" stroke-width="2.03" stroke-linecap="round"/><line x1="378.5" y1="120.7" x2="378.2" y2="139.6" stroke="#c3c1c6" stroke-width="2.03" stroke-linecap="round"/><line x1="378.5" y1="120.7" x2="393.9" y2="126.4" stroke="#c3c1c6" stroke-width="2.03" stroke-linecap="round"/><line x1="378.5" y1="120.7" x2="370.6" y2="112.7" stroke="#c3c1c6" stroke-width="2.03" stroke-linecap="round"/><line x1="378.5" y1="120.7" x2="387.3" y2="114.5" stroke="#c3c1c6" stroke-width="2.03" stroke-linecap="round"/><circle cx="393.9" cy="126.4" r="4.7" fill="url(#ga_pur)"/><circle cx="378.2" cy="139.6" r="4.8" fill="url(#ga_pur)"/><circle cx="378.5" cy="120.7" r="5.9" fill="url(#ga_blu)"/><circle cx="377.5" cy="107.0" r="5.0" fill="url(#ga_pur)"/><line x1="185.2" y1="103.3" x2="184.2" y2="91.1" stroke="#c3c1c6" stroke-width="2.08" stroke-linecap="round"/><line x1="185.2" y1="103.3" x2="185.0" y2="122.7" stroke="#c3c1c6" stroke-width="2.08" stroke-linecap="round"/><line x1="185.2" y1="103.3" x2="172.1" y2="115.5" stroke="#c3c1c6" stroke-width="2.08" stroke-linecap="round"/><line x1="185.2" y1="103.3" x2="177.1" y2="95.1" stroke="#c3c1c6" stroke-width="2.08" stroke-linecap="round"/><line x1="185.2" y1="103.3" x2="194.3" y2="97.0" stroke="#c3c1c6" stroke-width="2.08" stroke-linecap="round"/><circle cx="172.1" cy="115.5" r="4.8" fill="url(#ga_pur)"/><circle cx="185.0" cy="122.7" r="5.0" fill="url(#ga_pur)"/><circle cx="185.2" cy="103.3" r="6.1" fill="url(#ga_blu)"/><circle cx="184.2" cy="91.1" r="5.2" fill="url(#ga_pur)"/><line x1="202.4" y1="111.7" x2="201.3" y2="97.7" stroke="#c3c1c6" stroke-width="2.08" stroke-linecap="round"/><line x1="202.4" y1="111.7" x2="202.1" y2="131.1" stroke="#c3c1c6" stroke-width="2.08" stroke-linecap="round"/><line x1="202.4" y1="111.7" x2="218.2" y2="117.5" stroke="#c3c1c6" stroke-width="2.08" stroke-linecap="round"/><line x1="202.4" y1="111.7" x2="194.3" y2="103.5" stroke="#c3c1c6" stroke-width="2.08" stroke-linecap="round"/><line x1="202.4" y1="111.7" x2="211.4" y2="105.3" stroke="#c3c1c6" stroke-width="2.08" stroke-linecap="round"/><circle cx="218.2" cy="117.5" r="4.8" fill="url(#ga_pur)"/><circle cx="202.1" cy="131.1" r="5.0" fill="url(#ga_pur)"/><circle cx="202.4" cy="111.7" r="6.1" fill="url(#ga_blu)"/><circle cx="201.3" cy="97.7" r="5.2" fill="url(#ga_pur)"/><line x1="237.3" y1="116.3" x2="236.2" y2="104.1" stroke="#c3c1c6" stroke-width="2.08" stroke-linecap="round"/><line x1="237.3" y1="116.3" x2="237.0" y2="135.8" stroke="#c3c1c6" stroke-width="2.08" stroke-linecap="round"/><line x1="237.3" y1="116.3" x2="224.2" y2="128.5" stroke="#c3c1c6" stroke-width="2.08" stroke-linecap="round"/><line x1="237.3" y1="116.3" x2="229.2" y2="108.2" stroke="#c3c1c6" stroke-width="2.08" stroke-linecap="round"/><line x1="237.3" y1="116.3" x2="246.4" y2="110.0" stroke="#c3c1c6" stroke-width="2.08" stroke-linecap="round"/><circle cx="224.2" cy="128.5" r="4.8" fill="url(#ga_pur)"/><circle cx="237.0" cy="135.8" r="5.0" fill="url(#ga_pur)"/><circle cx="237.3" cy="116.3" r="6.1" fill="url(#ga_blu)"/><circle cx="236.2" cy="104.1" r="5.2" fill="url(#ga_pur)"/><line x1="254.5" y1="123.5" x2="253.4" y2="109.5" stroke="#c3c1c6" stroke-width="2.08" stroke-linecap="round"/><line x1="254.5" y1="123.5" x2="254.2" y2="142.9" stroke="#c3c1c6" stroke-width="2.08" stroke-linecap="round"/><line x1="254.5" y1="123.5" x2="270.3" y2="129.4" stroke="#c3c1c6" stroke-width="2.08" stroke-linecap="round"/><line x1="254.5" y1="123.5" x2="246.3" y2="115.4" stroke="#c3c1c6" stroke-width="2.08" stroke-linecap="round"/><line x1="254.5" y1="123.5" x2="263.5" y2="117.2" stroke="#c3c1c6" stroke-width="2.08" stroke-linecap="round"/><circle cx="270.3" cy="129.4" r="4.8" fill="url(#ga_pur)"/><circle cx="254.2" cy="142.9" r="5.0" fill="url(#ga_pur)"/><circle cx="254.5" cy="123.5" r="6.1" fill="url(#ga_blu)"/><circle cx="253.4" cy="109.5" r="5.2" fill="url(#ga_pur)"/><line x1="289.3" y1="120.5" x2="288.2" y2="108.3" stroke="#c3c1c6" stroke-width="2.08" stroke-linecap="round"/><line x1="289.3" y1="120.5" x2="289.0" y2="139.9" stroke="#c3c1c6" stroke-width="2.08" stroke-linecap="round"/><line x1="289.3" y1="120.5" x2="276.2" y2="132.7" stroke="#c3c1c6" stroke-width="2.08" stroke-linecap="round"/><line x1="289.3" y1="120.5" x2="281.2" y2="112.4" stroke="#c3c1c6" stroke-width="2.08" stroke-linecap="round"/><line x1="289.3" y1="120.5" x2="298.3" y2="114.2" stroke="#c3c1c6" stroke-width="2.08" stroke-linecap="round"/><circle cx="276.2" cy="132.7" r="4.8" fill="url(#ga_pur)"/><circle cx="289.0" cy="139.9" r="5.0" fill="url(#ga_pur)"/><circle cx="289.3" cy="120.5" r="6.1" fill="url(#ga_blu)"/><circle cx="288.2" cy="108.3" r="5.2" fill="url(#ga_pur)"/><line x1="307.6" y1="126.5" x2="306.5" y2="112.5" stroke="#c3c1c6" stroke-width="2.08" stroke-linecap="round"/><line x1="307.6" y1="126.5" x2="307.4" y2="145.9" stroke="#c3c1c6" stroke-width="2.08" stroke-linecap="round"/><line x1="307.6" y1="126.5" x2="323.4" y2="132.3" stroke="#c3c1c6" stroke-width="2.08" stroke-linecap="round"/><line x1="307.6" y1="126.5" x2="299.5" y2="118.3" stroke="#c3c1c6" stroke-width="2.08" stroke-linecap="round"/><line x1="307.6" y1="126.5" x2="316.7" y2="120.1" stroke="#c3c1c6" stroke-width="2.08" stroke-linecap="round"/><circle cx="323.4" cy="132.3" r="4.8" fill="url(#ga_pur)"/><circle cx="307.4" cy="145.9" r="5.0" fill="url(#ga_pur)"/><circle cx="307.6" cy="126.5" r="6.1" fill="url(#ga_blu)"/><circle cx="306.5" cy="112.5" r="5.2" fill="url(#ga_pur)"/><line x1="344.0" y1="123.4" x2="342.9" y2="111.2" stroke="#c3c1c6" stroke-width="2.08" stroke-linecap="round"/><line x1="344.0" y1="123.4" x2="343.7" y2="142.9" stroke="#c3c1c6" stroke-width="2.08" stroke-linecap="round"/><line x1="344.0" y1="123.4" x2="330.9" y2="135.6" stroke="#c3c1c6" stroke-width="2.08" stroke-linecap="round"/><line x1="344.0" y1="123.4" x2="335.8" y2="115.3" stroke="#c3c1c6" stroke-width="2.08" stroke-linecap="round"/><line x1="344.0" y1="123.4" x2="353.0" y2="117.1" stroke="#c3c1c6" stroke-width="2.08" stroke-linecap="round"/><circle cx="330.9" cy="135.6" r="4.8" fill="url(#ga_pur)"/><circle cx="343.7" cy="142.9" r="5.0" fill="url(#ga_pur)"/><circle cx="344.0" cy="123.4" r="6.1" fill="url(#ga_blu)"/><circle cx="342.9" cy="111.2" r="5.2" fill="url(#ga_pur)"/><line x1="362.8" y1="129.5" x2="361.7" y2="115.5" stroke="#c3c1c6" stroke-width="2.08" stroke-linecap="round"/><line x1="362.8" y1="129.5" x2="362.5" y2="148.9" stroke="#c3c1c6" stroke-width="2.08" stroke-linecap="round"/><line x1="362.8" y1="129.5" x2="378.6" y2="135.4" stroke="#c3c1c6" stroke-width="2.08" stroke-linecap="round"/><line x1="362.8" y1="129.5" x2="354.7" y2="121.4" stroke="#c3c1c6" stroke-width="2.08" stroke-linecap="round"/><line x1="362.8" y1="129.5" x2="371.8" y2="123.2" stroke="#c3c1c6" stroke-width="2.08" stroke-linecap="round"/><circle cx="378.6" cy="135.4" r="4.8" fill="url(#ga_pur)"/><circle cx="362.5" cy="148.9" r="5.0" fill="url(#ga_pur)"/><circle cx="362.8" cy="129.5" r="6.1" fill="url(#ga_blu)"/><circle cx="361.7" cy="115.5" r="5.2" fill="url(#ga_pur)"/><line x1="172.4" y1="109.3" x2="171.3" y2="96.8" stroke="#c3c1c6" stroke-width="2.13" stroke-linecap="round"/><line x1="172.4" y1="109.3" x2="172.1" y2="129.3" stroke="#c3c1c6" stroke-width="2.13" stroke-linecap="round"/><line x1="172.4" y1="109.3" x2="158.9" y2="121.9" stroke="#c3c1c6" stroke-width="2.13" stroke-linecap="round"/><line x1="172.4" y1="109.3" x2="164.0" y2="101.0" stroke="#c3c1c6" stroke-width="2.13" stroke-linecap="round"/><line x1="172.4" y1="109.3" x2="181.6" y2="102.9" stroke="#c3c1c6" stroke-width="2.13" stroke-linecap="round"/><circle cx="158.9" cy="121.9" r="4.9" fill="url(#ga_pur)"/><circle cx="172.1" cy="129.3" r="5.1" fill="url(#ga_pur)"/><circle cx="172.4" cy="109.3" r="6.2" fill="url(#ga_blu)"/><circle cx="171.3" cy="96.8" r="5.3" fill="url(#ga_pur)"/><line x1="189.1" y1="118.1" x2="187.9" y2="103.8" stroke="#c3c1c6" stroke-width="2.13" stroke-linecap="round"/><line x1="189.1" y1="118.1" x2="188.8" y2="138.1" stroke="#c3c1c6" stroke-width="2.13" stroke-linecap="round"/><line x1="189.1" y1="118.1" x2="205.3" y2="124.2" stroke="#c3c1c6" stroke-width="2.13" stroke-linecap="round"/><line x1="189.1" y1="118.1" x2="180.7" y2="109.8" stroke="#c3c1c6" stroke-width="2.13" stroke-linecap="round"/><line x1="189.1" y1="118.1" x2="198.3" y2="111.7" stroke="#c3c1c6" stroke-width="2.13" stroke-linecap="round"/><circle cx="205.3" cy="124.2" r="4.9" fill="url(#ga_pur)"/><circle cx="188.8" cy="138.1" r="5.1" fill="url(#ga_pur)"/><circle cx="189.1" cy="118.1" r="6.2" fill="url(#ga_blu)"/><circle cx="187.9" cy="103.8" r="5.3" fill="url(#ga_pur)"/><line x1="223.5" y1="123.2" x2="222.4" y2="110.7" stroke="#c3c1c6" stroke-width="2.13" stroke-linecap="round"/><line x1="223.5" y1="123.2" x2="223.3" y2="143.2" stroke="#c3c1c6" stroke-width="2.13" stroke-linecap="round"/><line x1="223.5" y1="123.2" x2="210.1" y2="135.7" stroke="#c3c1c6" stroke-width="2.13" stroke-linecap="round"/><line x1="223.5" y1="123.2" x2="215.2" y2="114.9" stroke="#c3c1c6" stroke-width="2.13" stroke-linecap="round"/><line x1="223.5" y1="123.2" x2="232.8" y2="116.7" stroke="#c3c1c6" stroke-width="2.13" stroke-linecap="round"/><circle cx="210.1" cy="135.7" r="4.9" fill="url(#ga_pur)"/><circle cx="223.3" cy="143.2" r="5.1" fill="url(#ga_pur)"/><circle cx="223.5" cy="123.2" r="6.2" fill="url(#ga_blu)"/><circle cx="222.4" cy="110.7" r="5.3" fill="url(#ga_pur)"/><line x1="240.2" y1="130.8" x2="239.1" y2="116.5" stroke="#c3c1c6" stroke-width="2.13" stroke-linecap="round"/><line x1="240.2" y1="130.8" x2="240.0" y2="150.8" stroke="#c3c1c6" stroke-width="2.13" stroke-linecap="round"/><line x1="240.2" y1="130.8" x2="256.5" y2="136.9" stroke="#c3c1c6" stroke-width="2.13" stroke-linecap="round"/><line x1="240.2" y1="130.8" x2="231.9" y2="122.5" stroke="#c3c1c6" stroke-width="2.13" stroke-linecap="round"/><line x1="240.2" y1="130.8" x2="249.5" y2="124.3" stroke="#c3c1c6" stroke-width="2.13" stroke-linecap="round"/><circle cx="256.5" cy="136.9" r="4.9" fill="url(#ga_pur)"/><circle cx="240.0" cy="150.8" r="5.1" fill="url(#ga_pur)"/><circle cx="240.2" cy="130.8" r="6.2" fill="url(#ga_blu)"/><circle cx="239.1" cy="116.5" r="5.3" fill="url(#ga_pur)"/><line x1="274.6" y1="128.2" x2="273.5" y2="115.7" stroke="#c3c1c6" stroke-width="2.13" stroke-linecap="round"/><line x1="274.6" y1="128.2" x2="274.3" y2="148.2" stroke="#c3c1c6" stroke-width="2.13" stroke-linecap="round"/><line x1="274.6" y1="128.2" x2="261.2" y2="140.7" stroke="#c3c1c6" stroke-width="2.13" stroke-linecap="round"/><line x1="274.6" y1="128.2" x2="266.3" y2="119.9" stroke="#c3c1c6" stroke-width="2.13" stroke-linecap="round"/><line x1="274.6" y1="128.2" x2="283.9" y2="121.7" stroke="#c3c1c6" stroke-width="2.13" stroke-linecap="round"/><circle cx="261.2" cy="140.7" r="4.9" fill="url(#ga_pur)"/><circle cx="274.3" cy="148.2" r="5.1" fill="url(#ga_pur)"/><circle cx="274.6" cy="128.2" r="6.2" fill="url(#ga_blu)"/><circle cx="273.5" cy="115.7" r="5.3" fill="url(#ga_pur)"/><line x1="292.5" y1="134.6" x2="291.4" y2="120.3" stroke="#c3c1c6" stroke-width="2.13" stroke-linecap="round"/><line x1="292.5" y1="134.6" x2="292.2" y2="154.5" stroke="#c3c1c6" stroke-width="2.13" stroke-linecap="round"/><line x1="292.5" y1="134.6" x2="308.7" y2="140.6" stroke="#c3c1c6" stroke-width="2.13" stroke-linecap="round"/><line x1="292.5" y1="134.6" x2="284.2" y2="126.3" stroke="#c3c1c6" stroke-width="2.13" stroke-linecap="round"/><line x1="292.5" y1="134.6" x2="301.8" y2="128.1" stroke="#c3c1c6" stroke-width="2.13" stroke-linecap="round"/><circle cx="308.7" cy="140.6" r="4.9" fill="url(#ga_pur)"/><circle cx="292.2" cy="154.5" r="5.1" fill="url(#ga_pur)"/><circle cx="292.5" cy="134.6" r="6.2" fill="url(#ga_blu)"/><circle cx="291.4" cy="120.3" r="5.3" fill="url(#ga_pur)"/><line x1="328.4" y1="132.0" x2="327.3" y2="119.5" stroke="#c3c1c6" stroke-width="2.13" stroke-linecap="round"/><line x1="328.4" y1="132.0" x2="328.1" y2="151.9" stroke="#c3c1c6" stroke-width="2.13" stroke-linecap="round"/><line x1="328.4" y1="132.0" x2="315.0" y2="144.5" stroke="#c3c1c6" stroke-width="2.13" stroke-linecap="round"/><line x1="328.4" y1="132.0" x2="320.1" y2="123.7" stroke="#c3c1c6" stroke-width="2.13" stroke-linecap="round"/><line x1="328.4" y1="132.0" x2="337.7" y2="125.5" stroke="#c3c1c6" stroke-width="2.13" stroke-linecap="round"/><circle cx="315.0" cy="144.5" r="4.9" fill="url(#ga_pur)"/><circle cx="328.1" cy="151.9" r="5.1" fill="url(#ga_pur)"/><circle cx="328.4" cy="132.0" r="6.2" fill="url(#ga_blu)"/><circle cx="327.3" cy="119.5" r="5.3" fill="url(#ga_pur)"/><line x1="346.8" y1="138.5" x2="345.7" y2="124.1" stroke="#c3c1c6" stroke-width="2.13" stroke-linecap="round"/><line x1="346.8" y1="138.5" x2="346.5" y2="158.4" stroke="#c3c1c6" stroke-width="2.13" stroke-linecap="round"/><line x1="346.8" y1="138.5" x2="363.0" y2="144.5" stroke="#c3c1c6" stroke-width="2.13" stroke-linecap="round"/><line x1="346.8" y1="138.5" x2="338.5" y2="130.2" stroke="#c3c1c6" stroke-width="2.13" stroke-linecap="round"/><line x1="346.8" y1="138.5" x2="356.1" y2="132.0" stroke="#c3c1c6" stroke-width="2.13" stroke-linecap="round"/><circle cx="363.0" cy="144.5" r="4.9" fill="url(#ga_pur)"/><circle cx="346.5" cy="158.4" r="5.1" fill="url(#ga_pur)"/><circle cx="346.8" cy="138.5" r="6.2" fill="url(#ga_blu)"/><circle cx="345.7" cy="124.1" r="5.3" fill="url(#ga_pur)"/><line x1="159.3" y1="115.5" x2="158.1" y2="102.7" stroke="#c3c1c6" stroke-width="2.19" stroke-linecap="round"/><line x1="159.3" y1="115.5" x2="159.0" y2="136.0" stroke="#c3c1c6" stroke-width="2.19" stroke-linecap="round"/><line x1="159.3" y1="115.5" x2="145.5" y2="128.3" stroke="#c3c1c6" stroke-width="2.19" stroke-linecap="round"/><line x1="159.3" y1="115.5" x2="150.7" y2="107.0" stroke="#c3c1c6" stroke-width="2.19" stroke-linecap="round"/><line x1="159.3" y1="115.5" x2="168.8" y2="108.9" stroke="#c3c1c6" stroke-width="2.19" stroke-linecap="round"/><circle cx="145.5" cy="128.3" r="5.0" fill="url(#ga_pur)"/><circle cx="159.0" cy="136.0" r="5.2" fill="url(#ga_pur)"/><circle cx="159.3" cy="115.5" r="6.4" fill="url(#ga_blu)"/><circle cx="158.1" cy="102.7" r="5.4" fill="url(#ga_pur)"/><line x1="175.5" y1="124.7" x2="174.3" y2="110.0" stroke="#c3c1c6" stroke-width="2.19" stroke-linecap="round"/><line x1="175.5" y1="124.7" x2="175.2" y2="145.2" stroke="#c3c1c6" stroke-width="2.19" stroke-linecap="round"/><line x1="175.5" y1="124.7" x2="192.1" y2="130.9" stroke="#c3c1c6" stroke-width="2.19" stroke-linecap="round"/><line x1="175.5" y1="124.7" x2="166.9" y2="116.2" stroke="#c3c1c6" stroke-width="2.19" stroke-linecap="round"/><line x1="175.5" y1="124.7" x2="185.0" y2="118.1" stroke="#c3c1c6" stroke-width="2.19" stroke-linecap="round"/><circle cx="192.1" cy="130.9" r="5.0" fill="url(#ga_pur)"/><circle cx="175.2" cy="145.2" r="5.2" fill="url(#ga_pur)"/><circle cx="175.5" cy="124.7" r="6.4" fill="url(#ga_blu)"/><circle cx="174.3" cy="110.0" r="5.4" fill="url(#ga_pur)"/><line x1="209.5" y1="130.3" x2="208.4" y2="117.4" stroke="#c3c1c6" stroke-width="2.19" stroke-linecap="round"/><line x1="209.5" y1="130.3" x2="209.2" y2="150.7" stroke="#c3c1c6" stroke-width="2.19" stroke-linecap="round"/><line x1="209.5" y1="130.3" x2="195.7" y2="143.1" stroke="#c3c1c6" stroke-width="2.19" stroke-linecap="round"/><line x1="209.5" y1="130.3" x2="201.0" y2="121.7" stroke="#c3c1c6" stroke-width="2.19" stroke-linecap="round"/><line x1="209.5" y1="130.3" x2="219.0" y2="123.6" stroke="#c3c1c6" stroke-width="2.19" stroke-linecap="round"/><circle cx="195.7" cy="143.1" r="5.0" fill="url(#ga_pur)"/><circle cx="209.2" cy="150.7" r="5.2" fill="url(#ga_pur)"/><circle cx="209.5" cy="130.3" r="6.4" fill="url(#ga_blu)"/><circle cx="208.4" cy="117.4" r="5.4" fill="url(#ga_pur)"/><line x1="225.8" y1="138.3" x2="224.6" y2="123.5" stroke="#c3c1c6" stroke-width="2.19" stroke-linecap="round"/><line x1="225.8" y1="138.3" x2="225.5" y2="158.7" stroke="#c3c1c6" stroke-width="2.19" stroke-linecap="round"/><line x1="225.8" y1="138.3" x2="242.4" y2="144.5" stroke="#c3c1c6" stroke-width="2.19" stroke-linecap="round"/><line x1="225.8" y1="138.3" x2="217.2" y2="129.7" stroke="#c3c1c6" stroke-width="2.19" stroke-linecap="round"/><line x1="225.8" y1="138.3" x2="235.3" y2="131.6" stroke="#c3c1c6" stroke-width="2.19" stroke-linecap="round"/><circle cx="242.4" cy="144.5" r="5.0" fill="url(#ga_pur)"/><circle cx="225.5" cy="158.7" r="5.2" fill="url(#ga_pur)"/><circle cx="225.8" cy="138.3" r="6.4" fill="url(#ga_blu)"/><circle cx="224.6" cy="123.5" r="5.4" fill="url(#ga_pur)"/><line x1="259.7" y1="136.1" x2="258.6" y2="123.3" stroke="#c3c1c6" stroke-width="2.19" stroke-linecap="round"/><line x1="259.7" y1="136.1" x2="259.4" y2="156.5" stroke="#c3c1c6" stroke-width="2.19" stroke-linecap="round"/><line x1="259.7" y1="136.1" x2="245.9" y2="148.9" stroke="#c3c1c6" stroke-width="2.19" stroke-linecap="round"/><line x1="259.7" y1="136.1" x2="251.1" y2="127.5" stroke="#c3c1c6" stroke-width="2.19" stroke-linecap="round"/><line x1="259.7" y1="136.1" x2="269.2" y2="129.4" stroke="#c3c1c6" stroke-width="2.19" stroke-linecap="round"/><circle cx="245.9" cy="148.9" r="5.0" fill="url(#ga_pur)"/><circle cx="259.4" cy="156.5" r="5.2" fill="url(#ga_pur)"/><circle cx="259.7" cy="136.1" r="6.4" fill="url(#ga_blu)"/><circle cx="258.6" cy="123.3" r="5.4" fill="url(#ga_pur)"/><line x1="277.1" y1="142.9" x2="276.0" y2="128.2" stroke="#c3c1c6" stroke-width="2.19" stroke-linecap="round"/><line x1="277.1" y1="142.9" x2="276.8" y2="163.4" stroke="#c3c1c6" stroke-width="2.19" stroke-linecap="round"/><line x1="277.1" y1="142.9" x2="293.8" y2="149.1" stroke="#c3c1c6" stroke-width="2.19" stroke-linecap="round"/><line x1="277.1" y1="142.9" x2="268.6" y2="134.4" stroke="#c3c1c6" stroke-width="2.19" stroke-linecap="round"/><line x1="277.1" y1="142.9" x2="286.6" y2="136.3" stroke="#c3c1c6" stroke-width="2.19" stroke-linecap="round"/><circle cx="293.8" cy="149.1" r="5.0" fill="url(#ga_pur)"/><circle cx="276.8" cy="163.4" r="5.2" fill="url(#ga_pur)"/><circle cx="277.1" cy="142.9" r="6.4" fill="url(#ga_blu)"/><circle cx="276.0" cy="128.2" r="5.4" fill="url(#ga_pur)"/><line x1="312.6" y1="140.7" x2="311.4" y2="127.9" stroke="#c3c1c6" stroke-width="2.19" stroke-linecap="round"/><line x1="312.6" y1="140.7" x2="312.3" y2="161.2" stroke="#c3c1c6" stroke-width="2.19" stroke-linecap="round"/><line x1="312.6" y1="140.7" x2="298.8" y2="153.6" stroke="#c3c1c6" stroke-width="2.19" stroke-linecap="round"/><line x1="312.6" y1="140.7" x2="304.0" y2="132.2" stroke="#c3c1c6" stroke-width="2.19" stroke-linecap="round"/><line x1="312.6" y1="140.7" x2="322.1" y2="134.1" stroke="#c3c1c6" stroke-width="2.19" stroke-linecap="round"/><circle cx="298.8" cy="153.6" r="5.0" fill="url(#ga_pur)"/><circle cx="312.3" cy="161.2" r="5.2" fill="url(#ga_pur)"/><circle cx="312.6" cy="140.7" r="6.4" fill="url(#ga_blu)"/><circle cx="311.4" cy="127.9" r="5.4" fill="url(#ga_pur)"/><line x1="330.5" y1="147.7" x2="329.4" y2="132.9" stroke="#c3c1c6" stroke-width="2.19" stroke-linecap="round"/><line x1="330.5" y1="147.7" x2="330.2" y2="168.1" stroke="#c3c1c6" stroke-width="2.19" stroke-linecap="round"/><line x1="330.5" y1="147.7" x2="347.1" y2="153.9" stroke="#c3c1c6" stroke-width="2.19" stroke-linecap="round"/><line x1="330.5" y1="147.7" x2="321.9" y2="139.1" stroke="#c3c1c6" stroke-width="2.19" stroke-linecap="round"/><line x1="330.5" y1="147.7" x2="340.0" y2="141.0" stroke="#c3c1c6" stroke-width="2.19" stroke-linecap="round"/><circle cx="347.1" cy="153.9" r="5.0" fill="url(#ga_pur)"/><circle cx="330.2" cy="168.1" r="5.2" fill="url(#ga_pur)"/><circle cx="330.5" cy="147.7" r="6.4" fill="url(#ga_blu)"/><circle cx="329.4" cy="132.9" r="5.4" fill="url(#ga_pur)"/><line x1="145.9" y1="121.8" x2="144.7" y2="108.6" stroke="#c3c1c6" stroke-width="2.24" stroke-linecap="round"/><line x1="145.9" y1="121.8" x2="145.6" y2="142.8" stroke="#c3c1c6" stroke-width="2.24" stroke-linecap="round"/><line x1="145.9" y1="121.8" x2="131.8" y2="135.0" stroke="#c3c1c6" stroke-width="2.24" stroke-linecap="round"/><line x1="145.9" y1="121.8" x2="137.1" y2="113.0" stroke="#c3c1c6" stroke-width="2.24" stroke-linecap="round"/><line x1="145.9" y1="121.8" x2="155.7" y2="115.0" stroke="#c3c1c6" stroke-width="2.24" stroke-linecap="round"/><circle cx="131.8" cy="135.0" r="5.2" fill="url(#ga_pur)"/><circle cx="145.6" cy="142.8" r="5.4" fill="url(#ga_pur)"/><circle cx="145.9" cy="121.8" r="6.5" fill="url(#ga_blu)"/><circle cx="144.7" cy="108.6" r="5.6" fill="url(#ga_pur)"/><line x1="161.7" y1="131.5" x2="160.5" y2="116.3" stroke="#c3c1c6" stroke-width="2.24" stroke-linecap="round"/><line x1="161.7" y1="131.5" x2="161.4" y2="152.4" stroke="#c3c1c6" stroke-width="2.24" stroke-linecap="round"/><line x1="161.7" y1="131.5" x2="178.7" y2="137.8" stroke="#c3c1c6" stroke-width="2.24" stroke-linecap="round"/><line x1="161.7" y1="131.5" x2="152.9" y2="122.7" stroke="#c3c1c6" stroke-width="2.24" stroke-linecap="round"/><line x1="161.7" y1="131.5" x2="171.4" y2="124.6" stroke="#c3c1c6" stroke-width="2.24" stroke-linecap="round"/><circle cx="178.7" cy="137.8" r="5.2" fill="url(#ga_pur)"/><circle cx="161.4" cy="152.4" r="5.4" fill="url(#ga_pur)"/><circle cx="161.7" cy="131.5" r="6.5" fill="url(#ga_blu)"/><circle cx="160.5" cy="116.3" r="5.6" fill="url(#ga_pur)"/><line x1="195.2" y1="137.4" x2="194.1" y2="124.3" stroke="#c3c1c6" stroke-width="2.24" stroke-linecap="round"/><line x1="195.2" y1="137.4" x2="195.0" y2="158.4" stroke="#c3c1c6" stroke-width="2.24" stroke-linecap="round"/><line x1="195.2" y1="137.4" x2="181.1" y2="150.6" stroke="#c3c1c6" stroke-width="2.24" stroke-linecap="round"/><line x1="195.2" y1="137.4" x2="186.5" y2="128.6" stroke="#c3c1c6" stroke-width="2.24" stroke-linecap="round"/><line x1="195.2" y1="137.4" x2="205.0" y2="130.6" stroke="#c3c1c6" stroke-width="2.24" stroke-linecap="round"/><circle cx="181.1" cy="150.6" r="5.2" fill="url(#ga_pur)"/><circle cx="195.0" cy="158.4" r="5.4" fill="url(#ga_pur)"/><circle cx="195.2" cy="137.4" r="6.5" fill="url(#ga_blu)"/><circle cx="194.1" cy="124.3" r="5.6" fill="url(#ga_pur)"/><line x1="211.0" y1="145.9" x2="209.8" y2="130.8" stroke="#c3c1c6" stroke-width="2.24" stroke-linecap="round"/><line x1="211.0" y1="145.9" x2="210.7" y2="166.8" stroke="#c3c1c6" stroke-width="2.24" stroke-linecap="round"/><line x1="211.0" y1="145.9" x2="228.1" y2="152.2" stroke="#c3c1c6" stroke-width="2.24" stroke-linecap="round"/><line x1="211.0" y1="145.9" x2="202.2" y2="137.1" stroke="#c3c1c6" stroke-width="2.24" stroke-linecap="round"/><line x1="211.0" y1="145.9" x2="220.8" y2="139.0" stroke="#c3c1c6" stroke-width="2.24" stroke-linecap="round"/><circle cx="228.1" cy="152.2" r="5.2" fill="url(#ga_pur)"/><circle cx="210.7" cy="166.8" r="5.4" fill="url(#ga_pur)"/><circle cx="211.0" cy="145.9" r="6.5" fill="url(#ga_blu)"/><circle cx="209.8" cy="130.8" r="5.6" fill="url(#ga_pur)"/><line x1="244.5" y1="144.1" x2="243.3" y2="131.0" stroke="#c3c1c6" stroke-width="2.24" stroke-linecap="round"/><line x1="244.5" y1="144.1" x2="244.2" y2="165.1" stroke="#c3c1c6" stroke-width="2.24" stroke-linecap="round"/><line x1="244.5" y1="144.1" x2="230.3" y2="157.3" stroke="#c3c1c6" stroke-width="2.24" stroke-linecap="round"/><line x1="244.5" y1="144.1" x2="235.7" y2="135.4" stroke="#c3c1c6" stroke-width="2.24" stroke-linecap="round"/><line x1="244.5" y1="144.1" x2="254.2" y2="137.3" stroke="#c3c1c6" stroke-width="2.24" stroke-linecap="round"/><circle cx="230.3" cy="157.3" r="5.2" fill="url(#ga_pur)"/><circle cx="244.2" cy="165.1" r="5.4" fill="url(#ga_pur)"/><circle cx="244.5" cy="144.1" r="6.5" fill="url(#ga_blu)"/><circle cx="243.3" cy="131.0" r="5.6" fill="url(#ga_pur)"/><line x1="261.5" y1="151.4" x2="260.3" y2="136.3" stroke="#c3c1c6" stroke-width="2.24" stroke-linecap="round"/><line x1="261.5" y1="151.4" x2="261.2" y2="172.3" stroke="#c3c1c6" stroke-width="2.24" stroke-linecap="round"/><line x1="261.5" y1="151.4" x2="278.5" y2="157.7" stroke="#c3c1c6" stroke-width="2.24" stroke-linecap="round"/><line x1="261.5" y1="151.4" x2="252.7" y2="142.6" stroke="#c3c1c6" stroke-width="2.24" stroke-linecap="round"/><line x1="261.5" y1="151.4" x2="271.2" y2="144.6" stroke="#c3c1c6" stroke-width="2.24" stroke-linecap="round"/><circle cx="278.5" cy="157.7" r="5.2" fill="url(#ga_pur)"/><circle cx="261.2" cy="172.3" r="5.4" fill="url(#ga_pur)"/><circle cx="261.5" cy="151.4" r="6.5" fill="url(#ga_blu)"/><circle cx="260.3" cy="136.3" r="5.6" fill="url(#ga_pur)"/><line x1="296.4" y1="149.6" x2="295.3" y2="136.5" stroke="#c3c1c6" stroke-width="2.24" stroke-linecap="round"/><line x1="296.4" y1="149.6" x2="296.1" y2="170.6" stroke="#c3c1c6" stroke-width="2.24" stroke-linecap="round"/><line x1="296.4" y1="149.6" x2="282.3" y2="162.8" stroke="#c3c1c6" stroke-width="2.24" stroke-linecap="round"/><line x1="296.4" y1="149.6" x2="287.7" y2="140.9" stroke="#c3c1c6" stroke-width="2.24" stroke-linecap="round"/><line x1="296.4" y1="149.6" x2="306.2" y2="142.8" stroke="#c3c1c6" stroke-width="2.24" stroke-linecap="round"/><circle cx="282.3" cy="162.8" r="5.2" fill="url(#ga_pur)"/><circle cx="296.1" cy="170.6" r="5.4" fill="url(#ga_pur)"/><circle cx="296.4" cy="149.6" r="6.5" fill="url(#ga_blu)"/><circle cx="295.3" cy="136.5" r="5.6" fill="url(#ga_pur)"/><line x1="313.9" y1="157.0" x2="312.7" y2="141.9" stroke="#c3c1c6" stroke-width="2.24" stroke-linecap="round"/><line x1="313.9" y1="157.0" x2="313.6" y2="178.0" stroke="#c3c1c6" stroke-width="2.24" stroke-linecap="round"/><line x1="313.9" y1="157.0" x2="331.0" y2="163.3" stroke="#c3c1c6" stroke-width="2.24" stroke-linecap="round"/><line x1="313.9" y1="157.0" x2="305.1" y2="148.2" stroke="#c3c1c6" stroke-width="2.24" stroke-linecap="round"/><line x1="313.9" y1="157.0" x2="323.6" y2="150.2" stroke="#c3c1c6" stroke-width="2.24" stroke-linecap="round"/><circle cx="331.0" cy="163.3" r="5.2" fill="url(#ga_pur)"/><circle cx="313.6" cy="178.0" r="5.4" fill="url(#ga_pur)"/><circle cx="313.9" cy="157.0" r="6.5" fill="url(#ga_blu)"/><circle cx="312.7" cy="141.9" r="5.6" fill="url(#ga_pur)"/><line x1="132.3" y1="128.2" x2="131.1" y2="114.7" stroke="#c3c1c6" stroke-width="2.30" stroke-linecap="round"/><line x1="132.3" y1="128.2" x2="132.0" y2="149.7" stroke="#c3c1c6" stroke-width="2.30" stroke-linecap="round"/><line x1="132.3" y1="128.2" x2="117.8" y2="141.7" stroke="#c3c1c6" stroke-width="2.30" stroke-linecap="round"/><line x1="132.3" y1="128.2" x2="123.3" y2="119.2" stroke="#c3c1c6" stroke-width="2.30" stroke-linecap="round"/><line x1="132.3" y1="128.2" x2="142.3" y2="121.2" stroke="#c3c1c6" stroke-width="2.30" stroke-linecap="round"/><circle cx="117.8" cy="141.7" r="5.3" fill="url(#ga_pur)"/><circle cx="132.0" cy="149.7" r="5.5" fill="url(#ga_pur)"/><circle cx="132.3" cy="128.2" r="6.7" fill="url(#ga_blu)"/><circle cx="131.1" cy="114.7" r="5.7" fill="url(#ga_pur)"/><line x1="147.6" y1="138.3" x2="146.4" y2="122.8" stroke="#c3c1c6" stroke-width="2.30" stroke-linecap="round"/><line x1="147.6" y1="138.3" x2="147.3" y2="159.8" stroke="#c3c1c6" stroke-width="2.30" stroke-linecap="round"/><line x1="147.6" y1="138.3" x2="165.1" y2="144.8" stroke="#c3c1c6" stroke-width="2.30" stroke-linecap="round"/><line x1="147.6" y1="138.3" x2="138.6" y2="129.3" stroke="#c3c1c6" stroke-width="2.30" stroke-linecap="round"/><line x1="147.6" y1="138.3" x2="157.6" y2="131.3" stroke="#c3c1c6" stroke-width="2.30" stroke-linecap="round"/><circle cx="165.1" cy="144.8" r="5.3" fill="url(#ga_pur)"/><circle cx="147.3" cy="159.8" r="5.5" fill="url(#ga_pur)"/><circle cx="147.6" cy="138.3" r="6.7" fill="url(#ga_blu)"/><circle cx="146.4" cy="122.8" r="5.7" fill="url(#ga_pur)"/><line x1="180.7" y1="144.7" x2="179.5" y2="131.2" stroke="#c3c1c6" stroke-width="2.30" stroke-linecap="round"/><line x1="180.7" y1="144.7" x2="180.4" y2="166.2" stroke="#c3c1c6" stroke-width="2.30" stroke-linecap="round"/><line x1="180.7" y1="144.7" x2="166.2" y2="158.2" stroke="#c3c1c6" stroke-width="2.30" stroke-linecap="round"/><line x1="180.7" y1="144.7" x2="171.7" y2="135.7" stroke="#c3c1c6" stroke-width="2.30" stroke-linecap="round"/><line x1="180.7" y1="144.7" x2="190.7" y2="137.7" stroke="#c3c1c6" stroke-width="2.30" stroke-linecap="round"/><circle cx="166.2" cy="158.2" r="5.3" fill="url(#ga_pur)"/><circle cx="180.4" cy="166.2" r="5.5" fill="url(#ga_pur)"/><circle cx="180.7" cy="144.7" r="6.7" fill="url(#ga_blu)"/><circle cx="179.5" cy="131.2" r="5.7" fill="url(#ga_pur)"/><line x1="196.0" y1="153.6" x2="194.8" y2="138.1" stroke="#c3c1c6" stroke-width="2.30" stroke-linecap="round"/><line x1="196.0" y1="153.6" x2="195.7" y2="175.1" stroke="#c3c1c6" stroke-width="2.30" stroke-linecap="round"/><line x1="196.0" y1="153.6" x2="213.5" y2="160.1" stroke="#c3c1c6" stroke-width="2.30" stroke-linecap="round"/><line x1="196.0" y1="153.6" x2="187.0" y2="144.6" stroke="#c3c1c6" stroke-width="2.30" stroke-linecap="round"/><line x1="196.0" y1="153.6" x2="206.0" y2="146.6" stroke="#c3c1c6" stroke-width="2.30" stroke-linecap="round"/><circle cx="213.5" cy="160.1" r="5.3" fill="url(#ga_pur)"/><circle cx="195.7" cy="175.1" r="5.5" fill="url(#ga_pur)"/><circle cx="196.0" cy="153.6" r="6.7" fill="url(#ga_blu)"/><circle cx="194.8" cy="138.1" r="5.7" fill="url(#ga_pur)"/><line x1="229.0" y1="152.3" x2="227.8" y2="138.8" stroke="#c3c1c6" stroke-width="2.30" stroke-linecap="round"/><line x1="229.0" y1="152.3" x2="228.7" y2="173.8" stroke="#c3c1c6" stroke-width="2.30" stroke-linecap="round"/><line x1="229.0" y1="152.3" x2="214.5" y2="165.8" stroke="#c3c1c6" stroke-width="2.30" stroke-linecap="round"/><line x1="229.0" y1="152.3" x2="220.0" y2="143.3" stroke="#c3c1c6" stroke-width="2.30" stroke-linecap="round"/><line x1="229.0" y1="152.3" x2="239.0" y2="145.3" stroke="#c3c1c6" stroke-width="2.30" stroke-linecap="round"/><circle cx="214.5" cy="165.8" r="5.3" fill="url(#ga_pur)"/><circle cx="228.7" cy="173.8" r="5.5" fill="url(#ga_pur)"/><circle cx="229.0" cy="152.3" r="6.7" fill="url(#ga_blu)"/><circle cx="227.8" cy="138.8" r="5.7" fill="url(#ga_pur)"/><line x1="245.5" y1="160.0" x2="244.3" y2="144.5" stroke="#c3c1c6" stroke-width="2.30" stroke-linecap="round"/><line x1="245.5" y1="160.0" x2="245.2" y2="181.5" stroke="#c3c1c6" stroke-width="2.30" stroke-linecap="round"/><line x1="245.5" y1="160.0" x2="263.0" y2="166.5" stroke="#c3c1c6" stroke-width="2.30" stroke-linecap="round"/><line x1="245.5" y1="160.0" x2="236.5" y2="151.0" stroke="#c3c1c6" stroke-width="2.30" stroke-linecap="round"/><line x1="245.5" y1="160.0" x2="255.5" y2="153.0" stroke="#c3c1c6" stroke-width="2.30" stroke-linecap="round"/><circle cx="263.0" cy="166.5" r="5.3" fill="url(#ga_pur)"/><circle cx="245.2" cy="181.5" r="5.5" fill="url(#ga_pur)"/><circle cx="245.5" cy="160.0" r="6.7" fill="url(#ga_blu)"/><circle cx="244.3" cy="144.5" r="5.7" fill="url(#ga_pur)"/><line x1="280.0" y1="158.7" x2="278.8" y2="145.2" stroke="#c3c1c6" stroke-width="2.30" stroke-linecap="round"/><line x1="280.0" y1="158.7" x2="279.7" y2="180.2" stroke="#c3c1c6" stroke-width="2.30" stroke-linecap="round"/><line x1="280.0" y1="158.7" x2="265.5" y2="172.2" stroke="#c3c1c6" stroke-width="2.30" stroke-linecap="round"/><line x1="280.0" y1="158.7" x2="271.0" y2="149.7" stroke="#c3c1c6" stroke-width="2.30" stroke-linecap="round"/><line x1="280.0" y1="158.7" x2="290.0" y2="151.7" stroke="#c3c1c6" stroke-width="2.30" stroke-linecap="round"/><circle cx="265.5" cy="172.2" r="5.3" fill="url(#ga_pur)"/><circle cx="279.7" cy="180.2" r="5.5" fill="url(#ga_pur)"/><circle cx="280.0" cy="158.7" r="6.7" fill="url(#ga_blu)"/><circle cx="278.8" cy="145.2" r="5.7" fill="url(#ga_pur)"/><line x1="297.0" y1="166.5" x2="295.8" y2="151.0" stroke="#c3c1c6" stroke-width="2.30" stroke-linecap="round"/><line x1="297.0" y1="166.5" x2="296.7" y2="188.0" stroke="#c3c1c6" stroke-width="2.30" stroke-linecap="round"/><line x1="297.0" y1="166.5" x2="314.5" y2="173.0" stroke="#c3c1c6" stroke-width="2.30" stroke-linecap="round"/><line x1="297.0" y1="166.5" x2="288.0" y2="157.5" stroke="#c3c1c6" stroke-width="2.30" stroke-linecap="round"/><line x1="297.0" y1="166.5" x2="307.0" y2="159.5" stroke="#c3c1c6" stroke-width="2.30" stroke-linecap="round"/><circle cx="314.5" cy="173.0" r="5.3" fill="url(#ga_pur)"/><circle cx="296.7" cy="188.0" r="5.5" fill="url(#ga_pur)"/><circle cx="297.0" cy="166.5" r="6.7" fill="url(#ga_blu)"/><circle cx="295.8" cy="151.0" r="5.7" fill="url(#ga_pur)"/><line x1="384" y1="121" x2="399.4" y2="99.4" stroke="#c3c1c6" stroke-width="2.1"/><line x1="384" y1="121" x2="398" y2="136" stroke="#c3c1c6" stroke-width="2.1"/><circle cx="399.4" cy="99.4" r="5.2" fill="url(#ga_pur)"/><circle cx="398" cy="136" r="5" fill="url(#ga_pur)"/></g>
<polygon points="171.4,105.5 297.6,39.3 297.6,56.5 171.4,121.6" fill="url(#ga_au_r)"/>
<polygon points="106.3,89.2 171.4,105.5 171.4,121.6 107.3,107.7" fill="#e6d441"/>
<polygon points="106.3,89.2 240.6,29.2 297.6,39.3 171.4,105.5" fill="url(#ga_au_t)"/>
<g filter="url(#blur05)"><circle cx="285.5" cy="71.7" r="5.1" fill="url(#ga_pur)"/><circle cx="269.2" cy="79.9" r="5.1" fill="url(#ga_pur)"/><circle cx="253" cy="88" r="5.1" fill="url(#ga_pur)"/><circle cx="234.6" cy="96.2" r="5.1" fill="url(#ga_pur)"/><circle cx="216.3" cy="105.3" r="5.1" fill="url(#ga_pur)"/><circle cx="199" cy="113.5" r="5.1" fill="url(#ga_pur)"/></g>
<polygon points="287.9,125.7 408.7,59.5 408.7,74.0 287.6,143.2" fill="url(#ga_au_r)"/>
<polygon points="220.4,113.1 287.9,125.7 287.6,143.2 221.4,129.8" fill="#e6d441"/>
<polygon points="220.4,113.1 344.5,47.9 408.7,59.5 287.9,125.7" fill="url(#ga_au_t)"/>
<text transform="translate(126.8,106.6) rotate(13.5) skewX(-8)" font-size="17.5" font-weight="bold" font-style="italic" fill="#111">Au</text>
<text transform="translate(240.3,130.6) rotate(12) skewX(-8)" font-size="17.5" font-weight="bold" font-style="italic" fill="#111">Au</text>
<text x="1.25" y="19.8" font-size="31" font-weight="bold" fill="#000" text-anchor="start" >(a)</text>
<text x="112.3" y="17.4" font-size="21.8" font-weight="bold" fill="#000" text-anchor="start" >Source</text>
<text x="299.6" y="43.9" font-size="22.0" font-weight="bold" fill="#000" text-anchor="start" >Drain</text>
<text x="429.6" y="72.6" font-size="22.0" font-weight="bold" fill="#000" text-anchor="start" >2D materials</text>
<text x="451.8" y="123.5" font-size="22.0" font-weight="bold" fill="#000" text-anchor="start" >SiO<tspan font-size="14.3" dy="4">2</tspan></text>
<text x="453.2" y="190.6" font-size="22.0" font-weight="bold" fill="#000" text-anchor="start" >Si</text>
<text x="45.6" y="144.8" font-size="21.8" font-weight="bold" fill="#000" text-anchor="start" >Gate</text>
<polyline points="116.5,29.8 176.1,29.8 176.1,56.0" fill="none" stroke="#000" stroke-width="2.3" stroke-linejoin="miter"/><polygon points="176.1,68.8 170.3,52.8 181.8,52.8" fill="#000"/>
<polyline points="355.8,54.8 297.4,54.8 297.4,84.0" fill="none" stroke="#000" stroke-width="2.3" stroke-linejoin="miter"/><polygon points="297.4,95.6 292.1,80.6 302.6,80.6" fill="#000"/>
<polyline points="65.7,150.4 65.7,179.8 80.0,179.8" fill="none" stroke="#000" stroke-width="2.3" stroke-linejoin="miter"/><polygon points="90.5,179.8 76.5,184.6 76.5,175.1" fill="#000"/>
<polyline points="434.0,80.0 413.7,93.8" fill="none" stroke="#000" stroke-width="2.4" stroke-linejoin="miter"/><polygon points="406.4,98.8 413.0,88.9 418.0,96.3" fill="#000"/>
<polyline points="442.8,117.5 424.8,127.1" fill="none" stroke="#000" stroke-width="2.4" stroke-linejoin="miter"/><polygon points="417.0,131.2 424.6,122.1 428.8,130.0" fill="#000"/>
<polyline points="444.0,178.6 415.1,168.6" fill="none" stroke="#000" stroke-width="2.4" stroke-linejoin="miter"/><polygon points="406.8,165.7 418.7,165.1 415.7,173.6" fill="#000"/>
</g>
<g id="pb"><clipPath id="clipb"><rect x="2.7" y="245" width="283.8" height="219.2"/></clipPath><g clip-path="url(#clipb)">
<rect x="2.7" y="245" width="283.8" height="219.2" fill="url(#gb_bg)"/>
<ellipse cx="60" cy="300" rx="90" ry="50" fill="#a9a9a5" opacity="0.35" filter="url(#blur12)"/>
<g filter="url(#blur08)">
<polygon points="124.5,320.0 131.0,317.5 131.0,332.0 126.0,336.0" fill="#e8e8e2"/>
<polygon points="110.0,373.0 124.0,378.0 135.0,386.0 146.0,392.0 168.0,398.0 166.0,402.0 153.0,404.0 150.0,398.0 140.0,393.0 132.0,389.0 124.0,387.0 112.0,378.0" fill="#e4e4dc"/>
<polygon points="168.0,333.5 176.0,335.0 180.0,338.0 170.0,336.5" fill="#d8d8d4"/>
<polygon points="131.2,318.6 192.6,340.0 174.0,398.6 112.6,374.4" fill="url(#gb_chip)"/>
<polygon points="143.5,324.0 191.5,341.0 178.5,382.0 130.5,365.0" fill="#5a3fa8" opacity="0.55"/>
<circle cx="145.2" cy="327.0" r="1.0" fill="#d4bcf2" opacity="0.95"/><circle cx="144.2" cy="330.1" r="1.0" fill="#d4bcf2" opacity="0.95"/><circle cx="143.2" cy="333.1" r="1.0" fill="#d4bcf2" opacity="0.95"/><circle cx="142.2" cy="336.1" r="1.0" fill="#d4bcf2" opacity="0.95"/><circle cx="141.2" cy="339.2" r="1.0" fill="#d4bcf2" opacity="0.95"/><circle cx="140.2" cy="342.2" r="1.0" fill="#d4bcf2" opacity="0.95"/><circle cx="139.2" cy="345.3" r="1.0" fill="#d4bcf2" opacity="0.95"/><circle cx="138.2" cy="348.4" r="1.0" fill="#d4bcf2" opacity="0.95"/><circle cx="137.2" cy="351.4" r="1.0" fill="#d4bcf2" opacity="0.95"/><circle cx="136.2" cy="354.4" r="1.0" fill="#d4bcf2" opacity="0.95"/><circle cx="135.2" cy="357.5" r="1.0" fill="#d4bcf2" opacity="0.95"/><circle cx="134.2" cy="360.6" r="1.0" fill="#d4bcf2" opacity="0.95"/><circle cx="133.2" cy="363.6" r="1.0" fill="#d4bcf2" opacity="0.95"/><circle cx="148.8" cy="328.3" r="1.0" fill="#d4bcf2" opacity="0.95"/><circle cx="147.8" cy="331.3" r="1.0" fill="#d4bcf2" opacity="0.95"/><circle cx="146.8" cy="334.4" r="1.0" fill="#d4bcf2" opacity="0.95"/><circle cx="145.8" cy="337.4" r="1.0" fill="#d4bcf2" opacity="0.95"/><circle cx="144.8" cy="340.5" r="1.0" fill="#d4bcf2" opacity="0.95"/><circle cx="143.8" cy="343.5" r="1.0" fill="#d4bcf2" opacity="0.95"/><circle cx="142.8" cy="346.6" r="1.0" fill="#d4bcf2" opacity="0.95"/><circle cx="141.8" cy="349.6" r="1.0" fill="#d4bcf2" opacity="0.95"/><circle cx="140.8" cy="352.7" r="1.0" fill="#d4bcf2" opacity="0.95"/><circle cx="139.8" cy="355.7" r="1.0" fill="#d4bcf2" opacity="0.95"/><circle cx="138.8" cy="358.8" r="1.0" fill="#d4bcf2" opacity="0.95"/><circle cx="137.8" cy="361.8" r="1.0" fill="#d4bcf2" opacity="0.95"/><circle cx="136.8" cy="364.9" r="1.0" fill="#d4bcf2" opacity="0.95"/><circle cx="152.3" cy="329.5" r="1.0" fill="#d4bcf2" opacity="0.95"/><circle cx="151.3" cy="332.6" r="1.0" fill="#d4bcf2" opacity="0.95"/><circle cx="150.3" cy="335.6" r="1.0" fill="#d4bcf2" opacity="0.95"/><circle cx="149.3" cy="338.7" r="1.0" fill="#d4bcf2" opacity="0.95"/><circle cx="148.3" cy="341.7" r="1.0" fill="#d4bcf2" opacity="0.95"/><circle cx="147.3" cy="344.8" r="1.0" fill="#d4bcf2" opacity="0.95"/><circle cx="146.3" cy="347.8" r="1.0" fill="#d4bcf2" opacity="0.95"/><circle cx="145.3" cy="350.9" r="1.0" fill="#d4bcf2" opacity="0.95"/><circle cx="144.3" cy="353.9" r="1.0" fill="#d4bcf2" opacity="0.95"/><circle cx="143.3" cy="357.0" r="1.0" fill="#d4bcf2" opacity="0.95"/><circle cx="142.3" cy="360.0" r="1.0" fill="#d4bcf2" opacity="0.95"/><circle cx="141.3" cy="363.1" r="1.0" fill="#d4bcf2" opacity="0.95"/><circle cx="140.3" cy="366.1" r="1.0" fill="#d4bcf2" opacity="0.95"/><circle cx="155.8" cy="330.8" r="1.0" fill="#d4bcf2" opacity="0.95"/><circle cx="154.8" cy="333.8" r="1.0" fill="#d4bcf2" opacity="0.95"/><circle cx="153.8" cy="336.9" r="1.0" fill="#d4bcf2" opacity="0.95"/><circle cx="152.8" cy="339.9" r="1.0" fill="#d4bcf2" opacity="0.95"/><circle cx="151.8" cy="343.0" r="1.0" fill="#d4bcf2" opacity="0.95"/><circle cx="150.8" cy="346.0" r="1.0" fill="#d4bcf2" opacity="0.95"/><circle cx="149.8" cy="349.1" r="1.0" fill="#d4bcf2" opacity="0.95"/><circle cx="148.8" cy="352.1" r="1.0" fill="#d4bcf2" opacity="0.95"/><circle cx="147.8" cy="355.2" r="1.0" fill="#d4bcf2" opacity="0.95"/><circle cx="146.8" cy="358.2" r="1.0" fill="#d4bcf2" opacity="0.95"/><circle cx="145.8" cy="361.3" r="1.0" fill="#d4bcf2" opacity="0.95"/><circle cx="144.8" cy="364.3" r="1.0" fill="#d4bcf2" opacity="0.95"/><circle cx="143.8" cy="367.4" r="1.0" fill="#d4bcf2" opacity="0.95"/><circle cx="159.4" cy="332.0" r="1.0" fill="#d4bcf2" opacity="0.95"/><circle cx="158.4" cy="335.1" r="1.0" fill="#d4bcf2" opacity="0.95"/><circle cx="157.4" cy="338.1" r="1.0" fill="#d4bcf2" opacity="0.95"/><circle cx="156.4" cy="341.2" r="1.0" fill="#d4bcf2" opacity="0.95"/><circle cx="155.4" cy="344.2" r="1.0" fill="#d4bcf2" opacity="0.95"/><circle cx="154.4" cy="347.3" r="1.0" fill="#d4bcf2" opacity="0.95"/><circle cx="153.4" cy="350.3" r="1.0" fill="#d4bcf2" opacity="0.95"/><circle cx="152.4" cy="353.4" r="1.0" fill="#d4bcf2" opacity="0.95"/><circle cx="151.4" cy="356.4" r="1.0" fill="#d4bcf2" opacity="0.95"/><circle cx="150.4" cy="359.5" r="1.0" fill="#d4bcf2" opacity="0.95"/><circle cx="149.4" cy="362.5" r="1.0" fill="#d4bcf2" opacity="0.95"/><circle cx="148.4" cy="365.6" r="1.0" fill="#d4bcf2" opacity="0.95"/><circle cx="147.4" cy="368.6" r="1.0" fill="#d4bcf2" opacity="0.95"/><circle cx="162.9" cy="333.3" r="1.0" fill="#d4bcf2" opacity="0.95"/><circle cx="161.9" cy="336.4" r="1.0" fill="#d4bcf2" opacity="0.95"/><circle cx="160.9" cy="339.4" r="1.0" fill="#d4bcf2" opacity="0.95"/><circle cx="159.9" cy="342.4" r="1.0" fill="#d4bcf2" opacity="0.95"/><circle cx="158.9" cy="345.5" r="1.0" fill="#d4bcf2" opacity="0.95"/><circle cx="157.9" cy="348.6" r="1.0" fill="#d4bcf2" opacity="0.95"/><circle cx="156.9" cy="351.6" r="1.0" fill="#d4bcf2" opacity="0.95"/><circle cx="155.9" cy="354.7" r="1.0" fill="#d4bcf2" opacity="0.95"/><circle cx="154.9" cy="357.7" r="1.0" fill="#d4bcf2" opacity="0.95"/><circle cx="153.9" cy="360.8" r="1.0" fill="#d4bcf2" opacity="0.95"/><circle cx="152.9" cy="363.8" r="1.0" fill="#d4bcf2" opacity="0.95"/><circle cx="151.9" cy="366.9" r="1.0" fill="#d4bcf2" opacity="0.95"/><circle cx="150.9" cy="369.9" r="1.0" fill="#d4bcf2" opacity="0.95"/><circle cx="166.5" cy="334.6" r="1.0" fill="#d4bcf2" opacity="0.95"/><circle cx="165.5" cy="337.6" r="1.0" fill="#d4bcf2" opacity="0.95"/><circle cx="164.5" cy="340.7" r="1.0" fill="#d4bcf2" opacity="0.95"/><circle cx="163.5" cy="343.7" r="1.0" fill="#d4bcf2" opacity="0.95"/><circle cx="162.5" cy="346.8" r="1.0" fill="#d4bcf2" opacity="0.95"/><circle cx="161.5" cy="349.8" r="1.0" fill="#d4bcf2" opacity="0.95"/><circle cx="160.5" cy="352.9" r="1.0" fill="#d4bcf2" opacity="0.95"/><circle cx="159.5" cy="355.9" r="1.0" fill="#d4bcf2" opacity="0.95"/><circle cx="158.5" cy="359.0" r="1.0" fill="#d4bcf2" opacity="0.95"/><circle cx="157.5" cy="362.0" r="1.0" fill="#d4bcf2" opacity="0.95"/><circle cx="156.5" cy="365.1" r="1.0" fill="#d4bcf2" opacity="0.95"/><circle cx="155.5" cy="368.1" r="1.0" fill="#d4bcf2" opacity="0.95"/><circle cx="154.5" cy="371.2" r="1.0" fill="#d4bcf2" opacity="0.95"/><circle cx="170.0" cy="335.8" r="1.0" fill="#d4bcf2" opacity="0.95"/><circle cx="169.0" cy="338.9" r="1.0" fill="#d4bcf2" opacity="0.95"/><circle cx="168.0" cy="341.9" r="1.0" fill="#d4bcf2" opacity="0.95"/><circle cx="167.0" cy="345.0" r="1.0" fill="#d4bcf2" opacity="0.95"/><circle cx="166.0" cy="348.0" r="1.0" fill="#d4bcf2" opacity="0.95"/><circle cx="165.0" cy="351.1" r="1.0" fill="#d4bcf2" opacity="0.95"/><circle cx="164.0" cy="354.1" r="1.0" fill="#d4bcf2" opacity="0.95"/><circle cx="163.0" cy="357.2" r="1.0" fill="#d4bcf2" opacity="0.95"/><circle cx="162.0" cy="360.2" r="1.0" fill="#d4bcf2" opacity="0.95"/><circle cx="161.0" cy="363.3" r="1.0" fill="#d4bcf2" opacity="0.95"/><circle cx="160.0" cy="366.3" r="1.0" fill="#d4bcf2" opacity="0.95"/><circle cx="159.0" cy="369.4" r="1.0" fill="#d4bcf2" opacity="0.95"/><circle cx="158.0" cy="372.4" r="1.0" fill="#d4bcf2" opacity="0.95"/><circle cx="173.6" cy="337.1" r="1.0" fill="#d4bcf2" opacity="0.95"/><circle cx="172.6" cy="340.1" r="1.0" fill="#d4bcf2" opacity="0.95"/><circle cx="171.6" cy="343.2" r="1.0" fill="#d4bcf2" opacity="0.95"/><circle cx="170.6" cy="346.2" r="1.0" fill="#d4bcf2" opacity="0.95"/><circle cx="169.6" cy="349.3" r="1.0" fill="#d4bcf2" opacity="0.95"/><circle cx="168.6" cy="352.3" r="1.0" fill="#d4bcf2" opacity="0.95"/><circle cx="167.6" cy="355.4" r="1.0" fill="#d4bcf2" opacity="0.95"/><circle cx="166.6" cy="358.4" r="1.0" fill="#d4bcf2" opacity="0.95"/><circle cx="165.6" cy="361.5" r="1.0" fill="#d4bcf2" opacity="0.95"/><circle cx="164.6" cy="364.5" r="1.0" fill="#d4bcf2" opacity="0.95"/><circle cx="163.6" cy="367.6" r="1.0" fill="#d4bcf2" opacity="0.95"/><circle cx="162.6" cy="370.6" r="1.0" fill="#d4bcf2" opacity="0.95"/><circle cx="161.6" cy="373.7" r="1.0" fill="#d4bcf2" opacity="0.95"/><circle cx="177.1" cy="338.3" r="1.0" fill="#d4bcf2" opacity="0.95"/><circle cx="176.1" cy="341.4" r="1.0" fill="#d4bcf2" opacity="0.95"/><circle cx="175.1" cy="344.4" r="1.0" fill="#d4bcf2" opacity="0.95"/><circle cx="174.1" cy="347.5" r="1.0" fill="#d4bcf2" opacity="0.95"/><circle cx="173.1" cy="350.5" r="1.0" fill="#d4bcf2" opacity="0.95"/><circle cx="172.1" cy="353.6" r="1.0" fill="#d4bcf2" opacity="0.95"/><circle cx="171.1" cy="356.6" r="1.0" fill="#d4bcf2" opacity="0.95"/><circle cx="170.1" cy="359.7" r="1.0" fill="#d4bcf2" opacity="0.95"/><circle cx="169.1" cy="362.7" r="1.0" fill="#d4bcf2" opacity="0.95"/><circle cx="168.1" cy="365.8" r="1.0" fill="#d4bcf2" opacity="0.95"/><circle cx="167.1" cy="368.8" r="1.0" fill="#d4bcf2" opacity="0.95"/><circle cx="166.1" cy="371.9" r="1.0" fill="#d4bcf2" opacity="0.95"/><circle cx="165.1" cy="374.9" r="1.0" fill="#d4bcf2" opacity="0.95"/><circle cx="180.7" cy="339.6" r="1.0" fill="#d4bcf2" opacity="0.95"/><circle cx="179.7" cy="342.7" r="1.0" fill="#d4bcf2" opacity="0.95"/><circle cx="178.7" cy="345.7" r="1.0" fill="#d4bcf2" opacity="0.95"/><circle cx="177.7" cy="348.8" r="1.0" fill="#d4bcf2" opacity="0.95"/><circle cx="176.7" cy="351.8" r="1.0" fill="#d4bcf2" opacity="0.95"/><circle cx="175.7" cy="354.9" r="1.0" fill="#d4bcf2" opacity="0.95"/><circle cx="174.7" cy="357.9" r="1.0" fill="#d4bcf2" opacity="0.95"/><circle cx="173.7" cy="361.0" r="1.0" fill="#d4bcf2" opacity="0.95"/><circle cx="172.7" cy="364.0" r="1.0" fill="#d4bcf2" opacity="0.95"/><circle cx="171.7" cy="367.1" r="1.0" fill="#d4bcf2" opacity="0.95"/><circle cx="170.7" cy="370.1" r="1.0" fill="#d4bcf2" opacity="0.95"/><circle cx="169.7" cy="373.2" r="1.0" fill="#d4bcf2" opacity="0.95"/><circle cx="168.7" cy="376.2" r="1.0" fill="#d4bcf2" opacity="0.95"/><circle cx="184.2" cy="340.9" r="1.0" fill="#d4bcf2" opacity="0.95"/><circle cx="183.2" cy="343.9" r="1.0" fill="#d4bcf2" opacity="0.95"/><circle cx="182.2" cy="347.0" r="1.0" fill="#d4bcf2" opacity="0.95"/><circle cx="181.2" cy="350.0" r="1.0" fill="#d4bcf2" opacity="0.95"/><circle cx="180.2" cy="353.1" r="1.0" fill="#d4bcf2" opacity="0.95"/><circle cx="179.2" cy="356.1" r="1.0" fill="#d4bcf2" opacity="0.95"/><circle cx="178.2" cy="359.2" r="1.0" fill="#d4bcf2" opacity="0.95"/><circle cx="177.2" cy="362.2" r="1.0" fill="#d4bcf2" opacity="0.95"/><circle cx="176.2" cy="365.3" r="1.0" fill="#d4bcf2" opacity="0.95"/><circle cx="175.2" cy="368.3" r="1.0" fill="#d4bcf2" opacity="0.95"/><circle cx="174.2" cy="371.4" r="1.0" fill="#d4bcf2" opacity="0.95"/><circle cx="173.2" cy="374.4" r="1.0" fill="#d4bcf2" opacity="0.95"/><circle cx="172.2" cy="377.5" r="1.0" fill="#d4bcf2" opacity="0.95"/><circle cx="187.8" cy="342.1" r="1.0" fill="#d4bcf2" opacity="0.95"/><circle cx="186.8" cy="345.2" r="1.0" fill="#d4bcf2" opacity="0.95"/><circle cx="185.8" cy="348.2" r="1.0" fill="#d4bcf2" opacity="0.95"/><circle cx="184.8" cy="351.3" r="1.0" fill="#d4bcf2" opacity="0.95"/><circle cx="183.8" cy="354.3" r="1.0" fill="#d4bcf2" opacity="0.95"/><circle cx="182.8" cy="357.4" r="1.0" fill="#d4bcf2" opacity="0.95"/><circle cx="181.8" cy="360.4" r="1.0" fill="#d4bcf2" opacity="0.95"/><circle cx="180.8" cy="363.5" r="1.0" fill="#d4bcf2" opacity="0.95"/><circle cx="179.8" cy="366.5" r="1.0" fill="#d4bcf2" opacity="0.95"/><circle cx="178.8" cy="369.6" r="1.0" fill="#d4bcf2" opacity="0.95"/><circle cx="177.8" cy="372.6" r="1.0" fill="#d4bcf2" opacity="0.95"/><circle cx="176.8" cy="375.7" r="1.0" fill="#d4bcf2" opacity="0.95"/><circle cx="175.8" cy="378.7" r="1.0" fill="#d4bcf2" opacity="0.95"/>
<line x1="129.5" y1="376" x2="163.8" y2="387.8" stroke="#ee8a6a" stroke-width="1.7" opacity="0.9"/>
<path d="M131,330 l3,4 M126,352 l2.5,5 M123,357 l3,3" stroke="#6a8ad8" stroke-width="1.3" fill="none"/>
<path d="M125,355 l2,3" stroke="#e08a7a" stroke-width="1.4" fill="none"/>
<g filter="url(#blur1p)"><polygon points="3.4,374.7 4.8,373.1 6.2,371.6 7.6,370.0 9.1,368.6 10.7,367.3 12.4,366.1 14.2,365.0 16.1,364.0 18.0,363.2 19.9,362.4 21.9,361.7 23.9,361.0 25.9,360.4 27.9,359.9 29.9,359.4 32.0,359.0 34.0,358.6 36.1,358.3 38.2,358.1 40.3,358.0 42.3,357.9 44.4,357.9 46.5,358.0 48.6,358.0 50.7,358.1 52.8,358.3 54.9,358.4 57.0,358.6 59.0,358.9 61.1,359.1 63.2,359.4 65.2,359.7 67.3,360.1 69.3,360.5 71.4,361.0 73.4,361.4 75.5,361.9 77.5,362.3 79.6,362.7 81.6,363.1 83.7,363.5 85.7,363.9 87.8,364.2 89.8,364.6 91.9,365.0 94.0,365.3 96.0,365.7 98.1,366.0 100.1,366.4 102.2,366.7 104.2,367.1 106.3,367.4 108.4,367.8 110.4,368.1 112.5,368.5 114.6,368.8 116.6,369.2 118.7,369.5 120.7,369.9 122.8,370.2 122.8,371.0 120.5,371.3 118.2,371.7 115.9,372.0 113.6,372.3 111.3,372.6 109.0,372.8 106.7,372.9 104.4,373.0 102.1,373.1 99.8,373.2 97.5,373.2 95.2,373.3 92.8,373.3 90.5,373.4 88.2,373.4 85.9,373.4 83.6,373.4 81.3,373.4 78.9,373.4 76.6,373.4 74.3,373.3 72.0,373.3 69.7,373.3 67.4,373.2 65.1,373.2 62.7,373.2 60.4,373.2 58.1,373.2 55.8,373.2 53.5,373.2 51.2,373.2 48.9,373.2 46.5,373.2 44.2,373.3 41.9,373.5 39.6,373.7 37.3,374.0 35.1,374.5 32.8,375.1 30.7,375.9 28.5,376.8 26.5,377.9 24.5,379.1 22.7,380.5 20.9,382.0 19.3,383.7 17.8,385.5 16.4,387.3 15.1,389.2 13.8,391.1 12.7,393.1 11.6,395.2 10.5,397.2 9.4,399.3 8.4,401.3 7.3,403.4 6.3,405.5 5.4,407.6 4.4,409.7 3.4,411.8" fill="#4a4131"/><polygon points="3.4,374.7 4.8,373.1 6.2,371.6 7.6,370.0 9.1,368.6 10.7,367.3 12.4,366.1 14.2,365.0 16.1,364.0 18.0,363.2 19.9,362.4 21.9,361.7 23.9,361.0 25.9,360.4 27.9,359.9 29.9,359.4 32.0,359.0 34.0,358.6 36.1,358.3 38.2,358.1 40.3,358.0 42.3,357.9 44.4,357.9 46.5,358.0 48.6,358.0 50.7,358.1 52.8,358.3 54.9,358.4 57.0,358.6 59.0,358.9 61.1,359.1 63.2,359.4 65.2,359.7 67.3,360.1 69.3,360.5 71.4,361.0 73.4,361.4 75.5,361.9 77.5,362.3 79.6,362.7 81.6,363.1 83.7,363.5 85.7,363.9 87.8,364.2 89.8,364.6 91.9,365.0 94.0,365.3 96.0,365.7 98.1,366.0 100.1,366.4 102.2,366.7 104.2,367.1 106.3,367.4 108.4,367.8 110.4,368.1 112.5,368.5 114.6,368.8 116.6,369.2 118.7,369.5 120.7,369.9 122.8,370.2 122.8,370.4 120.7,370.2 118.6,370.0 116.5,369.9 114.3,369.7 112.2,369.5 110.1,369.3 108.0,369.0 105.9,368.8 103.7,368.5 101.6,368.3 99.5,368.0 97.4,367.8 95.2,367.5 93.1,367.3 91.0,367.0 88.9,366.7 86.8,366.4 84.7,366.2 82.5,365.9 80.4,365.6 78.3,365.3 76.2,364.9 74.1,364.6 72.0,364.3 69.9,363.9 67.8,363.6 65.6,363.3 63.5,363.0 61.4,362.7 59.3,362.5 57.1,362.3 55.0,362.1 52.9,362.0 50.7,361.9 48.6,361.8 46.5,361.8 44.3,361.8 42.2,361.9 40.1,362.0 38.0,362.3 35.9,362.6 33.8,363.0 31.7,363.5 29.7,364.2 27.8,364.8 25.8,365.6 23.9,366.4 22.1,367.3 20.3,368.3 18.5,369.3 16.7,370.4 15.0,371.5 13.3,372.7 11.7,374.1 10.2,375.5 8.7,376.9 7.3,378.5 6.0,380.2 4.7,381.9 3.4,383.6" fill="#948668" opacity="0.9"/><polygon points="3.4,376.9 4.8,375.3 6.1,373.7 7.5,372.2 9.0,370.7 10.6,369.3 12.3,368.1 14.0,366.9 15.8,365.9 17.7,365.0 19.5,364.1 21.5,363.3 23.4,362.6 25.4,361.9 27.4,361.3 29.4,360.8 31.4,360.3 33.5,359.8 35.5,359.5 37.6,359.2 39.7,359.0 41.8,358.9 43.9,358.9 46.0,358.9 48.1,359.0 50.2,359.1 52.3,359.2 54.4,359.3 56.5,359.5 58.6,359.7 60.6,359.9 62.7,360.2 64.8,360.5 66.9,360.9 68.9,361.3 71.0,361.7 73.1,362.1 75.1,362.5 77.2,363.0 79.2,363.4 81.3,363.7 83.4,364.1 85.5,364.4 87.5,364.8 89.6,365.1 91.7,365.5 93.7,365.8 95.8,366.1 97.9,366.5 100.0,366.8 102.0,367.1 104.1,367.5 106.2,367.8 108.3,368.1 110.3,368.4 112.4,368.7 114.5,369.0 116.6,369.3 118.7,369.6 120.7,369.9 122.8,370.2 122.8,370.3 120.7,370.1 118.6,369.8 116.5,369.6 114.4,369.4 112.3,369.1 110.2,368.8 108.1,368.6 106.0,368.3 103.9,368.0 101.8,367.7 99.7,367.4 97.6,367.1 95.5,366.8 93.4,366.5 91.3,366.2 89.2,365.9 87.1,365.6 85.1,365.3 83.0,365.0 80.9,364.6 78.8,364.3 76.7,363.9 74.6,363.6 72.5,363.2 70.4,362.8 68.4,362.4 66.3,362.1 64.2,361.7 62.1,361.5 60.0,361.2 57.9,361.0 55.7,360.8 53.6,360.7 51.5,360.5 49.4,360.4 47.3,360.4 45.1,360.4 43.0,360.4 40.9,360.5 38.8,360.7 36.7,360.9 34.7,361.3 32.6,361.7 30.6,362.2 28.6,362.8 26.6,363.5 24.7,364.2 22.8,365.0 20.9,365.8 19.0,366.7 17.2,367.7 15.4,368.7 13.7,369.8 12.0,371.1 10.4,372.4 8.8,373.8 7.4,375.4 6.0,377.0 4.7,378.6 3.4,380.3" fill="#b8aa86" opacity="0.6"/><polygon points="3.4,399.2 4.5,397.3 5.6,395.3 6.8,393.4 7.9,391.6 9.2,389.8 10.5,388.0 11.8,386.3 13.1,384.6 14.5,383.0 15.9,381.4 17.4,379.8 19.0,378.4 20.6,377.0 22.2,375.6 24.0,374.3 25.8,373.2 27.8,372.2 29.8,371.3 31.8,370.5 33.9,369.8 36.1,369.3 38.2,368.8 40.5,368.5 42.7,368.4 44.9,368.3 47.1,368.2 49.4,368.2 51.6,368.2 53.8,368.3 56.1,368.4 58.3,368.5 60.5,368.6 62.8,368.7 65.0,368.9 67.2,369.0 69.4,369.2 71.7,369.4 73.9,369.6 76.1,369.7 78.3,369.9 80.6,370.0 82.8,370.2 85.0,370.3 87.2,370.4 89.5,370.5 91.7,370.6 93.9,370.7 96.1,370.8 98.4,370.9 100.6,371.0 102.8,371.1 105.1,371.1 107.3,371.2 109.5,371.2 111.7,371.2 114.0,371.1 116.2,371.1 118.4,371.0 120.6,370.8 122.8,370.7 122.8,370.9 120.5,371.2 118.3,371.5 116.0,371.8 113.7,372.0 111.5,372.2 109.2,372.3 106.9,372.4 104.6,372.5 102.3,372.5 100.0,372.5 97.7,372.6 95.4,372.6 93.2,372.6 90.9,372.6 88.6,372.5 86.3,372.5 84.0,372.5 81.7,372.4 79.4,372.4 77.1,372.3 74.8,372.3 72.6,372.2 70.3,372.1 68.0,372.1 65.7,372.0 63.4,371.9 61.1,371.9 58.8,371.8 56.5,371.8 54.2,371.8 52.0,371.7 49.7,371.7 47.4,371.8 45.1,371.8 42.8,372.0 40.5,372.1 38.2,372.4 36.0,372.8 33.8,373.4 31.6,374.1 29.5,375.0 27.5,376.0 25.5,377.1 23.6,378.4 21.8,379.8 20.2,381.3 18.6,383.0 17.2,384.7 15.8,386.5 14.4,388.3 13.2,390.1 12.0,392.1 10.9,394.0 9.7,396.0 8.6,397.9 7.5,399.9 6.5,402.0 5.4,404.0 4.4,406.0 3.4,408.1" fill="#7c715a" opacity="0.7"/></g>
</g>
</g>
<text x="5.05" y="273.3" font-size="31" font-weight="bold" fill="#000" text-anchor="start" >(b)</text>
<text x="160.6" y="271.4" font-size="19.7" font-weight="bold" fill="#fff" text-anchor="start" >WSe<tspan font-size="13" dy="3.8">2</tspan><tspan dy="-3.8" font-size="19.7"> Device</tspan></text>
</g><g id="pc"><clipPath id="clipc"><rect x="290.3" y="245" width="285.6" height="219.2"/></clipPath><g clip-path="url(#clipc)">
<rect x="290.3" y="245" width="285.6" height="219.2" fill="url(#gb_bg)"/>
<ellipse cx="330" cy="300" rx="80" ry="50" fill="#a9a9a5" opacity="0.3" filter="url(#blur12)"/>
<g filter="url(#blur08)">
<polygon points="395.1,344.8 395.6,344.1 396.3,343.2 397.0,342.2 397.9,341.0 398.9,339.8 399.9,338.5 400.9,337.2 402.0,336.0 403.1,334.8 404.2,333.5 405.4,332.1 406.7,330.8 408.0,329.4 409.3,328.2 410.6,327.0 412.0,326.0 413.4,325.1 414.9,324.3 416.4,323.6 417.9,323.0 419.4,322.4 421.0,321.9 422.5,321.4 424.0,321.0 425.5,320.6 427.0,320.3 428.5,320.1 430.0,319.9 431.5,319.8 433.0,319.7 434.5,319.6 436.0,319.5 437.5,319.4 439.0,319.3 440.5,319.3 442.1,319.2 443.6,319.2 445.1,319.3 446.5,319.3 448.0,319.5 449.4,319.7 450.9,319.9 452.3,320.2 453.7,320.5 455.1,320.9 456.4,321.4 457.7,321.9 459.0,322.5 460.2,323.2 461.5,324.0 462.7,324.8 463.8,325.7 465.0,326.7 466.0,327.7 467.1,328.8 468.0,330.0 468.9,331.3 469.7,332.6 470.5,334.1 471.2,335.6 471.9,337.2 472.5,338.8 473.1,340.4 473.5,342.0 473.9,343.7 474.1,345.4 474.3,347.1 474.4,348.9 474.4,350.7 474.5,352.5 474.5,354.2 474.5,356.0 474.5,357.8 474.5,359.5 474.5,361.3 474.4,363.1 474.3,364.9 474.2,366.6 474.1,368.3 474.0,370.0 473.9,371.6 473.7,373.2 473.5,374.8 473.3,376.4 473.1,377.9 472.9,379.3 472.7,380.7 472.5,382.0 472.3,383.2 472.2,384.3 472.0,385.2 471.9,386.2 471.7,387.1 471.4,388.0 471.0,389.0 470.5,390.0 469.9,391.1 469.2,392.2 468.4,393.3 467.6,394.4 466.6,395.5 465.5,396.7 464.3,397.8 463.0,399.0 461.4,400.2 459.7,401.5 457.7,402.8 455.7,404.1 453.6,405.3 451.6,406.5 449.7,407.6 448.0,408.5 446.5,409.3 445.1,409.9 443.8,410.5 442.6,411.0 441.4,411.4 440.2,411.8 439.1,412.1 438.0,412.5 436.9,412.9 435.9,413.2 435.0,413.6 434.1,413.9 433.1,414.1 432.2,414.3 431.1,414.4 430.0,414.4 428.8,414.3 427.4,414.2 426.0,413.9 424.5,413.6 423.1,413.3 421.7,412.9 420.3,412.5 419.0,412.0 417.8,411.5 416.7,411.0 415.6,410.4 414.5,409.8 413.4,409.1 412.4,408.4 411.4,407.6 410.3,406.8 409.2,405.9 408.1,404.9 407.0,403.8 405.9,402.7 404.9,401.5 403.9,400.3 402.9,399.1 402.0,398.0 401.2,396.9 400.4,395.8 399.7,394.7 399.0,393.7 398.4,392.5 397.8,391.3 397.2,390.1 396.6,388.7 396.0,387.2 395.5,385.6 395.0,383.9 394.5,382.2 394.1,380.4 393.7,378.6 393.3,376.8 393.0,375.0 392.7,373.1 392.5,371.2 392.4,369.2 392.3,367.2 392.2,365.2 392.1,363.4 392.1,361.6 392.1,360.0 392.1,358.6 392.2,357.3 392.3,356.1 392.4,354.9 392.5,353.9 392.6,352.9 392.8,352.0 393.0,351.0 393.2,350.0 393.5,349.1 393.8,348.2 394.1,347.3 394.4,346.5 394.7,345.8 394.9,345.3 395.1,344.8" fill="url(#gc_glue)"/>
<ellipse cx="412" cy="392" rx="14" ry="10" fill="#c4c4b0" opacity="0.45" filter="url(#blur2p)"/>
<ellipse cx="452" cy="397" rx="12" ry="7" fill="#ecece2" opacity="0.6" filter="url(#blur2p)"/>
<path d="M416,391 q3,-2 5,0 M411,386 q2,2 4,1 M424,396 q3,1 5,-1 M419,382 l2,2" stroke="#55554a" stroke-width="1.3" fill="none" opacity="0.55"/>
<polygon points="414.3,321.0 473.9,337.4 463.4,388.8 405.0,372.5" fill="url(#gc_chip)"/>
<circle cx="431.5" cy="327.2" r="1.05" fill="#f0c4f6" opacity="0.95"/><circle cx="430.8" cy="330.5" r="1.05" fill="#f0c4f6" opacity="0.95"/><circle cx="430.1" cy="333.8" r="1.05" fill="#f0c4f6" opacity="0.95"/><circle cx="429.5" cy="337.1" r="1.05" fill="#f0c4f6" opacity="0.95"/><circle cx="428.8" cy="340.4" r="1.05" fill="#f0c4f6" opacity="0.95"/><circle cx="428.1" cy="343.7" r="1.05" fill="#f0c4f6" opacity="0.95"/><circle cx="427.4" cy="347.0" r="1.05" fill="#f0c4f6" opacity="0.95"/><circle cx="426.7" cy="350.3" r="1.05" fill="#f0c4f6" opacity="0.95"/><circle cx="426.1" cy="353.6" r="1.05" fill="#f0c4f6" opacity="0.95"/><circle cx="425.4" cy="356.9" r="1.05" fill="#f0c4f6" opacity="0.95"/><circle cx="424.7" cy="360.2" r="1.05" fill="#f0c4f6" opacity="0.95"/><circle cx="424.0" cy="363.5" r="1.05" fill="#f0c4f6" opacity="0.95"/><circle cx="423.3" cy="366.8" r="1.05" fill="#f0c4f6" opacity="0.95"/><circle cx="434.9" cy="328.1" r="1.05" fill="#f0c4f6" opacity="0.95"/><circle cx="434.2" cy="331.4" r="1.05" fill="#f0c4f6" opacity="0.95"/><circle cx="433.5" cy="334.7" r="1.05" fill="#f0c4f6" opacity="0.95"/><circle cx="432.9" cy="338.0" r="1.05" fill="#f0c4f6" opacity="0.95"/><circle cx="432.2" cy="341.3" r="1.05" fill="#f0c4f6" opacity="0.95"/><circle cx="431.5" cy="344.6" r="1.05" fill="#f0c4f6" opacity="0.95"/><circle cx="430.8" cy="347.9" r="1.05" fill="#f0c4f6" opacity="0.95"/><circle cx="430.1" cy="351.2" r="1.05" fill="#f0c4f6" opacity="0.95"/><circle cx="429.5" cy="354.5" r="1.05" fill="#f0c4f6" opacity="0.95"/><circle cx="428.8" cy="357.8" r="1.05" fill="#f0c4f6" opacity="0.95"/><circle cx="428.1" cy="361.1" r="1.05" fill="#f0c4f6" opacity="0.95"/><circle cx="427.4" cy="364.4" r="1.05" fill="#f0c4f6" opacity="0.95"/><circle cx="426.7" cy="367.7" r="1.05" fill="#f0c4f6" opacity="0.95"/><circle cx="438.3" cy="329.1" r="1.05" fill="#f0c4f6" opacity="0.95"/><circle cx="437.6" cy="332.4" r="1.05" fill="#f0c4f6" opacity="0.95"/><circle cx="436.9" cy="335.7" r="1.05" fill="#f0c4f6" opacity="0.95"/><circle cx="436.3" cy="339.0" r="1.05" fill="#f0c4f6" opacity="0.95"/><circle cx="435.6" cy="342.3" r="1.05" fill="#f0c4f6" opacity="0.95"/><circle cx="434.9" cy="345.6" r="1.05" fill="#f0c4f6" opacity="0.95"/><circle cx="434.2" cy="348.9" r="1.05" fill="#f0c4f6" opacity="0.95"/><circle cx="433.5" cy="352.2" r="1.05" fill="#f0c4f6" opacity="0.95"/><circle cx="432.9" cy="355.5" r="1.05" fill="#f0c4f6" opacity="0.95"/><circle cx="432.2" cy="358.8" r="1.05" fill="#f0c4f6" opacity="0.95"/><circle cx="431.5" cy="362.1" r="1.05" fill="#f0c4f6" opacity="0.95"/><circle cx="430.8" cy="365.4" r="1.05" fill="#f0c4f6" opacity="0.95"/><circle cx="430.1" cy="368.7" r="1.05" fill="#f0c4f6" opacity="0.95"/><circle cx="441.7" cy="330.0" r="1.05" fill="#f0c4f6" opacity="0.95"/><circle cx="441.0" cy="333.3" r="1.05" fill="#f0c4f6" opacity="0.95"/><circle cx="440.3" cy="336.6" r="1.05" fill="#f0c4f6" opacity="0.95"/><circle cx="439.7" cy="339.9" r="1.05" fill="#f0c4f6" opacity="0.95"/><circle cx="439.0" cy="343.2" r="1.05" fill="#f0c4f6" opacity="0.95"/><circle cx="438.3" cy="346.5" r="1.05" fill="#f0c4f6" opacity="0.95"/><circle cx="437.6" cy="349.8" r="1.05" fill="#f0c4f6" opacity="0.95"/><circle cx="436.9" cy="353.1" r="1.05" fill="#f0c4f6" opacity="0.95"/><circle cx="436.3" cy="356.4" r="1.05" fill="#f0c4f6" opacity="0.95"/><circle cx="435.6" cy="359.7" r="1.05" fill="#f0c4f6" opacity="0.95"/><circle cx="434.9" cy="363.0" r="1.05" fill="#f0c4f6" opacity="0.95"/><circle cx="434.2" cy="366.3" r="1.05" fill="#f0c4f6" opacity="0.95"/><circle cx="433.5" cy="369.6" r="1.05" fill="#f0c4f6" opacity="0.95"/><circle cx="445.1" cy="330.9" r="1.05" fill="#f0c4f6" opacity="0.95"/><circle cx="444.4" cy="334.2" r="1.05" fill="#f0c4f6" opacity="0.95"/><circle cx="443.7" cy="337.5" r="1.05" fill="#f0c4f6" opacity="0.95"/><circle cx="443.1" cy="340.8" r="1.05" fill="#f0c4f6" opacity="0.95"/><circle cx="442.4" cy="344.1" r="1.05" fill="#f0c4f6" opacity="0.95"/><circle cx="441.7" cy="347.4" r="1.05" fill="#f0c4f6" opacity="0.95"/><circle cx="441.0" cy="350.7" r="1.05" fill="#f0c4f6" opacity="0.95"/><circle cx="440.3" cy="354.0" r="1.05" fill="#f0c4f6" opacity="0.95"/><circle cx="439.7" cy="357.3" r="1.05" fill="#f0c4f6" opacity="0.95"/><circle cx="439.0" cy="360.6" r="1.05" fill="#f0c4f6" opacity="0.95"/><circle cx="438.3" cy="363.9" r="1.05" fill="#f0c4f6" opacity="0.95"/><circle cx="437.6" cy="367.2" r="1.05" fill="#f0c4f6" opacity="0.95"/><circle cx="436.9" cy="370.5" r="1.05" fill="#f0c4f6" opacity="0.95"/><circle cx="448.5" cy="331.8" r="1.05" fill="#f0c4f6" opacity="0.95"/><circle cx="447.8" cy="335.1" r="1.05" fill="#f0c4f6" opacity="0.95"/><circle cx="447.1" cy="338.4" r="1.05" fill="#f0c4f6" opacity="0.95"/><circle cx="446.5" cy="341.7" r="1.05" fill="#f0c4f6" opacity="0.95"/><circle cx="445.8" cy="345.0" r="1.05" fill="#f0c4f6" opacity="0.95"/><circle cx="445.1" cy="348.3" r="1.05" fill="#f0c4f6" opacity="0.95"/><circle cx="444.4" cy="351.6" r="1.05" fill="#f0c4f6" opacity="0.95"/><circle cx="443.7" cy="354.9" r="1.05" fill="#f0c4f6" opacity="0.95"/><circle cx="443.1" cy="358.2" r="1.05" fill="#f0c4f6" opacity="0.95"/><circle cx="442.4" cy="361.5" r="1.05" fill="#f0c4f6" opacity="0.95"/><circle cx="441.7" cy="364.8" r="1.05" fill="#f0c4f6" opacity="0.95"/><circle cx="441.0" cy="368.1" r="1.05" fill="#f0c4f6" opacity="0.95"/><circle cx="440.3" cy="371.4" r="1.05" fill="#f0c4f6" opacity="0.95"/><circle cx="451.9" cy="332.8" r="1.05" fill="#f0c4f6" opacity="0.95"/><circle cx="451.2" cy="336.1" r="1.05" fill="#f0c4f6" opacity="0.95"/><circle cx="450.5" cy="339.4" r="1.05" fill="#f0c4f6" opacity="0.95"/><circle cx="449.9" cy="342.7" r="1.05" fill="#f0c4f6" opacity="0.95"/><circle cx="449.2" cy="346.0" r="1.05" fill="#f0c4f6" opacity="0.95"/><circle cx="448.5" cy="349.3" r="1.05" fill="#f0c4f6" opacity="0.95"/><circle cx="447.8" cy="352.6" r="1.05" fill="#f0c4f6" opacity="0.95"/><circle cx="447.1" cy="355.9" r="1.05" fill="#f0c4f6" opacity="0.95"/><circle cx="446.5" cy="359.2" r="1.05" fill="#f0c4f6" opacity="0.95"/><circle cx="445.8" cy="362.5" r="1.05" fill="#f0c4f6" opacity="0.95"/><circle cx="445.1" cy="365.8" r="1.05" fill="#f0c4f6" opacity="0.95"/><circle cx="444.4" cy="369.1" r="1.05" fill="#f0c4f6" opacity="0.95"/><circle cx="443.7" cy="372.4" r="1.05" fill="#f0c4f6" opacity="0.95"/><circle cx="455.3" cy="333.7" r="1.05" fill="#f0c4f6" opacity="0.95"/><circle cx="454.6" cy="337.0" r="1.05" fill="#f0c4f6" opacity="0.95"/><circle cx="453.9" cy="340.3" r="1.05" fill="#f0c4f6" opacity="0.95"/><circle cx="453.3" cy="343.6" r="1.05" fill="#f0c4f6" opacity="0.95"/><circle cx="452.6" cy="346.9" r="1.05" fill="#f0c4f6" opacity="0.95"/><circle cx="451.9" cy="350.2" r="1.05" fill="#f0c4f6" opacity="0.95"/><circle cx="451.2" cy="353.5" r="1.05" fill="#f0c4f6" opacity="0.95"/><circle cx="450.5" cy="356.8" r="1.05" fill="#f0c4f6" opacity="0.95"/><circle cx="449.9" cy="360.1" r="1.05" fill="#f0c4f6" opacity="0.95"/><circle cx="449.2" cy="363.4" r="1.05" fill="#f0c4f6" opacity="0.95"/><circle cx="448.5" cy="366.7" r="1.05" fill="#f0c4f6" opacity="0.95"/><circle cx="447.8" cy="370.0" r="1.05" fill="#f0c4f6" opacity="0.95"/><circle cx="447.1" cy="373.3" r="1.05" fill="#f0c4f6" opacity="0.95"/><circle cx="458.7" cy="334.6" r="1.05" fill="#f0c4f6" opacity="0.95"/><circle cx="458.0" cy="337.9" r="1.05" fill="#f0c4f6" opacity="0.95"/><circle cx="457.3" cy="341.2" r="1.05" fill="#f0c4f6" opacity="0.95"/><circle cx="456.7" cy="344.5" r="1.05" fill="#f0c4f6" opacity="0.95"/><circle cx="456.0" cy="347.8" r="1.05" fill="#f0c4f6" opacity="0.95"/><circle cx="455.3" cy="351.1" r="1.05" fill="#f0c4f6" opacity="0.95"/><circle cx="454.6" cy="354.4" r="1.05" fill="#f0c4f6" opacity="0.95"/><circle cx="453.9" cy="357.7" r="1.05" fill="#f0c4f6" opacity="0.95"/><circle cx="453.3" cy="361.0" r="1.05" fill="#f0c4f6" opacity="0.95"/><circle cx="452.6" cy="364.3" r="1.05" fill="#f0c4f6" opacity="0.95"/><circle cx="451.9" cy="367.6" r="1.05" fill="#f0c4f6" opacity="0.95"/><circle cx="451.2" cy="370.9" r="1.05" fill="#f0c4f6" opacity="0.95"/><circle cx="450.5" cy="374.2" r="1.05" fill="#f0c4f6" opacity="0.95"/><circle cx="462.1" cy="335.6" r="1.05" fill="#f0c4f6" opacity="0.95"/><circle cx="461.4" cy="338.9" r="1.05" fill="#f0c4f6" opacity="0.95"/><circle cx="460.7" cy="342.2" r="1.05" fill="#f0c4f6" opacity="0.95"/><circle cx="460.1" cy="345.5" r="1.05" fill="#f0c4f6" opacity="0.95"/><circle cx="459.4" cy="348.8" r="1.05" fill="#f0c4f6" opacity="0.95"/><circle cx="458.7" cy="352.1" r="1.05" fill="#f0c4f6" opacity="0.95"/><circle cx="458.0" cy="355.4" r="1.05" fill="#f0c4f6" opacity="0.95"/><circle cx="457.3" cy="358.7" r="1.05" fill="#f0c4f6" opacity="0.95"/><circle cx="456.7" cy="362.0" r="1.05" fill="#f0c4f6" opacity="0.95"/><circle cx="456.0" cy="365.3" r="1.05" fill="#f0c4f6" opacity="0.95"/><circle cx="455.3" cy="368.6" r="1.05" fill="#f0c4f6" opacity="0.95"/><circle cx="454.6" cy="371.9" r="1.05" fill="#f0c4f6" opacity="0.95"/><circle cx="453.9" cy="375.2" r="1.05" fill="#f0c4f6" opacity="0.95"/><circle cx="465.5" cy="336.5" r="1.05" fill="#f0c4f6" opacity="0.95"/><circle cx="464.8" cy="339.8" r="1.05" fill="#f0c4f6" opacity="0.95"/><circle cx="464.1" cy="343.1" r="1.05" fill="#f0c4f6" opacity="0.95"/><circle cx="463.5" cy="346.4" r="1.05" fill="#f0c4f6" opacity="0.95"/><circle cx="462.8" cy="349.7" r="1.05" fill="#f0c4f6" opacity="0.95"/><circle cx="462.1" cy="353.0" r="1.05" fill="#f0c4f6" opacity="0.95"/><circle cx="461.4" cy="356.3" r="1.05" fill="#f0c4f6" opacity="0.95"/><circle cx="460.7" cy="359.6" r="1.05" fill="#f0c4f6" opacity="0.95"/><circle cx="460.1" cy="362.9" r="1.05" fill="#f0c4f6" opacity="0.95"/><circle cx="459.4" cy="366.2" r="1.05" fill="#f0c4f6" opacity="0.95"/><circle cx="458.7" cy="369.5" r="1.05" fill="#f0c4f6" opacity="0.95"/><circle cx="458.0" cy="372.8" r="1.05" fill="#f0c4f6" opacity="0.95"/><circle cx="457.3" cy="376.1" r="1.05" fill="#f0c4f6" opacity="0.95"/><circle cx="468.9" cy="337.4" r="1.05" fill="#f0c4f6" opacity="0.95"/><circle cx="468.2" cy="340.7" r="1.05" fill="#f0c4f6" opacity="0.95"/><circle cx="467.5" cy="344.0" r="1.05" fill="#f0c4f6" opacity="0.95"/><circle cx="466.9" cy="347.3" r="1.05" fill="#f0c4f6" opacity="0.95"/><circle cx="466.2" cy="350.6" r="1.05" fill="#f0c4f6" opacity="0.95"/><circle cx="465.5" cy="353.9" r="1.05" fill="#f0c4f6" opacity="0.95"/><circle cx="464.8" cy="357.2" r="1.05" fill="#f0c4f6" opacity="0.95"/><circle cx="464.1" cy="360.5" r="1.05" fill="#f0c4f6" opacity="0.95"/><circle cx="463.5" cy="363.8" r="1.05" fill="#f0c4f6" opacity="0.95"/><circle cx="462.8" cy="367.1" r="1.05" fill="#f0c4f6" opacity="0.95"/><circle cx="462.1" cy="370.4" r="1.05" fill="#f0c4f6" opacity="0.95"/><circle cx="461.4" cy="373.7" r="1.05" fill="#f0c4f6" opacity="0.95"/><circle cx="460.7" cy="377.0" r="1.05" fill="#f0c4f6" opacity="0.95"/><circle cx="472.3" cy="338.4" r="1.05" fill="#f0c4f6" opacity="0.95"/><circle cx="471.6" cy="341.7" r="1.05" fill="#f0c4f6" opacity="0.95"/><circle cx="470.9" cy="345.0" r="1.05" fill="#f0c4f6" opacity="0.95"/><circle cx="470.3" cy="348.3" r="1.05" fill="#f0c4f6" opacity="0.95"/><circle cx="469.6" cy="351.6" r="1.05" fill="#f0c4f6" opacity="0.95"/><circle cx="468.9" cy="354.9" r="1.05" fill="#f0c4f6" opacity="0.95"/><circle cx="468.2" cy="358.2" r="1.05" fill="#f0c4f6" opacity="0.95"/><circle cx="467.5" cy="361.5" r="1.05" fill="#f0c4f6" opacity="0.95"/><circle cx="466.9" cy="364.8" r="1.05" fill="#f0c4f6" opacity="0.95"/><circle cx="466.2" cy="368.1" r="1.05" fill="#f0c4f6" opacity="0.95"/><circle cx="465.5" cy="371.4" r="1.05" fill="#f0c4f6" opacity="0.95"/><circle cx="464.8" cy="374.7" r="1.05" fill="#f0c4f6" opacity="0.95"/><circle cx="464.1" cy="378.0" r="1.05" fill="#f0c4f6" opacity="0.95"/>
<line x1="422.4" y1="367.9" x2="465.7" y2="378.4" stroke="#e8a0d0" stroke-width="1.6"/>
<line x1="429" y1="326" x2="423" y2="367" stroke="#8a5ad8" stroke-width="1" opacity="0.8"/>
<ellipse cx="410.5" cy="364" rx="10.5" ry="8.5" fill="#8e8b86" opacity="0.9"/>
<ellipse cx="412" cy="360" rx="5.5" ry="3.5" fill="#b8b5ac"/>
<ellipse cx="404" cy="370" rx="4.5" ry="3" fill="#5c5955" opacity="0.85"/>
<ellipse cx="416.5" cy="367" rx="3.5" ry="3" fill="#6e5c98" opacity="0.75"/>
<ellipse cx="408" cy="365" rx="2.5" ry="2" fill="#d0cdc4" opacity="0.8"/>
<g filter="url(#blur1p)"><polygon points="290.0,414.0 291.2,412.2 292.2,410.2 293.2,408.2 294.1,406.2 295.0,404.2 296.0,402.3 297.0,400.3 298.0,398.3 299.2,396.4 300.3,394.6 301.5,392.7 302.8,390.9 304.1,389.1 305.4,387.4 306.8,385.7 308.3,384.0 309.8,382.4 311.3,380.8 312.8,379.2 314.5,377.8 316.2,376.4 318.0,375.1 319.9,374.0 321.9,373.0 323.9,372.1 325.9,371.3 328.0,370.7 330.2,370.1 332.3,369.6 334.5,369.1 336.7,368.8 338.8,368.4 341.0,368.1 343.2,367.8 345.4,367.5 347.6,367.3 349.8,367.0 352.0,366.7 354.1,366.5 356.3,366.3 358.5,366.0 360.7,365.8 362.9,365.5 365.1,365.3 367.3,365.1 369.5,364.8 371.7,364.6 373.9,364.4 376.1,364.2 378.3,364.0 380.5,363.7 382.6,363.5 384.8,363.3 387.0,363.1 389.2,362.9 391.4,362.7 393.6,362.5 395.8,362.2 398.0,362.0 400.0,361.8 400.0,363.3 397.2,363.8 394.5,364.5 391.8,365.3 389.1,366.1 386.4,366.9 383.7,367.7 381.0,368.6 378.3,369.4 375.6,370.2 372.9,370.9 370.2,371.7 367.5,372.5 364.8,373.2 362.0,373.8 359.3,374.5 356.5,375.1 353.8,375.7 351.1,376.4 348.3,377.1 345.7,377.9 343.0,378.8 340.3,379.6 337.6,380.6 335.0,381.7 332.5,382.9 330.1,384.3 327.7,385.9 325.5,387.6 323.5,389.6 321.6,391.7 320.0,394.0 318.4,396.3 317.0,398.7 315.7,401.2 314.4,403.8 313.3,406.3 312.2,408.9 311.2,411.6 310.2,414.2 309.4,416.9 308.6,419.6 307.8,422.3 307.1,425.0 306.4,427.8 305.7,430.5 305.0,433.2 304.3,435.9 303.5,438.7 302.9,441.4 302.2,444.1 301.6,446.9 300.9,449.6 300.3,452.4 299.6,455.1 298.9,457.8 298.0,460.5 297.0,463.1 295.3,465.3 292.6,465.3 290.0,464.2" fill="#4a4131"/><polygon points="290.0,414.0 291.2,412.2 292.2,410.2 293.2,408.2 294.1,406.2 295.0,404.2 296.0,402.3 297.0,400.3 298.0,398.3 299.2,396.4 300.3,394.6 301.5,392.7 302.8,390.9 304.1,389.1 305.4,387.4 306.8,385.7 308.3,384.0 309.8,382.4 311.3,380.8 312.8,379.2 314.5,377.8 316.2,376.4 318.0,375.1 319.9,374.0 321.9,373.0 323.9,372.1 325.9,371.3 328.0,370.7 330.2,370.1 332.3,369.6 334.5,369.1 336.7,368.8 338.8,368.4 341.0,368.1 343.2,367.8 345.4,367.5 347.6,367.3 349.8,367.0 352.0,366.7 354.1,366.5 356.3,366.3 358.5,366.0 360.7,365.8 362.9,365.5 365.1,365.3 367.3,365.1 369.5,364.8 371.7,364.6 373.9,364.4 376.1,364.2 378.3,364.0 380.5,363.7 382.6,363.5 384.8,363.3 387.0,363.1 389.2,362.9 391.4,362.7 393.6,362.5 395.8,362.2 398.0,362.0 400.0,361.8 400.0,362.2 397.8,362.4 395.5,362.8 393.2,363.2 390.9,363.5 388.6,363.9 386.2,364.2 383.9,364.6 381.6,364.9 379.3,365.3 377.0,365.6 374.7,366.0 372.3,366.3 370.0,366.7 367.7,367.0 365.4,367.3 363.0,367.6 360.7,368.0 358.4,368.3 356.1,368.7 353.8,369.1 351.5,369.4 349.2,369.8 346.9,370.3 344.6,370.7 342.3,371.2 340.0,371.8 337.8,372.4 335.6,373.0 333.5,373.7 331.4,374.6 329.4,375.4 327.4,376.4 325.4,377.4 323.5,378.5 321.6,379.7 319.8,381.0 318.1,382.4 316.4,383.9 314.8,385.5 313.3,387.2 311.8,388.9 310.5,390.8 309.1,392.6 307.8,394.5 306.6,396.4 305.3,398.4 304.1,400.4 303.0,402.4 301.9,404.4 300.8,406.5 299.7,408.5 298.7,410.7 297.8,412.8 296.9,414.9 296.0,417.1 295.0,419.3 294.1,421.4 293.0,423.4 291.6,424.9 290.0,426.0" fill="#948668" opacity="0.9"/><polygon points="290.0,417.0 291.3,415.4 292.4,413.5 293.4,411.5 294.3,409.5 295.3,407.5 296.2,405.4 297.2,403.4 298.2,401.4 299.3,399.5 300.4,397.6 301.6,395.7 302.8,393.8 304.1,391.9 305.4,390.1 306.8,388.4 308.2,386.7 309.6,385.0 311.1,383.3 312.6,381.7 314.2,380.1 315.9,378.7 317.6,377.3 319.5,376.1 321.4,375.0 323.3,374.0 325.3,373.1 327.4,372.3 329.5,371.7 331.6,371.0 333.7,370.5 335.9,370.0 338.0,369.6 340.2,369.1 342.4,368.8 344.6,368.4 346.8,368.1 349.0,367.8 351.3,367.5 353.5,367.2 355.7,367.0 357.9,366.7 360.1,366.4 362.4,366.1 364.6,365.9 366.8,365.6 369.0,365.4 371.3,365.1 373.5,364.9 375.7,364.6 377.9,364.4 380.2,364.1 382.4,363.9 384.6,363.6 386.8,363.4 389.1,363.1 391.3,362.9 393.5,362.6 395.7,362.4 398.0,362.1 400.0,361.9 400.0,362.0 397.9,362.3 395.6,362.6 393.3,362.9 391.1,363.2 388.8,363.5 386.5,363.8 384.3,364.1 382.0,364.4 379.7,364.7 377.5,365.0 375.2,365.3 372.9,365.6 370.6,365.9 368.4,366.2 366.1,366.5 363.8,366.8 361.5,367.1 359.3,367.4 357.0,367.7 354.7,368.0 352.5,368.3 350.2,368.7 347.9,369.0 345.7,369.4 343.4,369.8 341.2,370.3 339.0,370.8 336.8,371.3 334.7,371.9 332.6,372.5 330.5,373.2 328.4,374.0 326.4,374.9 324.4,375.8 322.5,376.8 320.6,378.0 318.8,379.2 317.0,380.6 315.3,382.1 313.7,383.6 312.2,385.3 310.8,387.0 309.4,388.8 308.0,390.6 306.7,392.4 305.4,394.3 304.1,396.2 302.9,398.1 301.7,400.0 300.6,402.0 299.5,404.0 298.5,406.0 297.5,408.1 296.5,410.2 295.6,412.3 294.7,414.4 293.7,416.5 292.7,418.5 291.4,420.2 290.0,421.5" fill="#b8aa86" opacity="0.6"/><polygon points="290.0,447.1 292.1,447.2 294.2,446.5 295.7,444.5 296.7,442.0 297.6,439.6 298.4,437.1 299.2,434.6 299.9,432.2 300.7,429.7 301.6,427.3 302.4,424.8 303.3,422.4 304.2,420.0 305.1,417.6 306.1,415.3 307.0,412.9 308.0,410.5 309.0,408.2 310.0,405.9 311.1,403.6 312.3,401.4 313.5,399.2 314.8,397.1 316.2,395.0 317.6,393.0 319.2,391.1 320.8,389.2 322.4,387.4 324.2,385.7 326.0,384.0 328.0,382.5 330.0,381.1 332.2,379.8 334.5,378.7 336.9,377.7 339.3,376.8 341.8,376.0 344.3,375.3 346.8,374.6 349.3,374.0 351.8,373.3 354.3,372.8 356.9,372.2 359.5,371.7 362.0,371.3 364.6,370.8 367.1,370.3 369.7,369.7 372.2,369.2 374.7,368.6 377.3,368.0 379.8,367.4 382.3,366.8 384.9,366.2 387.4,365.6 389.9,365.0 392.4,364.3 395.0,363.8 397.5,363.2 400.0,362.8 400.0,363.2 397.3,363.6 394.7,364.3 392.0,365.0 389.4,365.8 386.7,366.5 384.1,367.3 381.4,368.0 378.8,368.8 376.1,369.5 373.5,370.2 370.8,371.0 368.1,371.7 365.5,372.3 362.8,372.9 360.1,373.5 357.4,374.1 354.7,374.7 352.0,375.3 349.4,376.0 346.7,376.8 344.1,377.5 341.5,378.4 338.9,379.3 336.3,380.2 333.8,381.4 331.4,382.7 329.1,384.1 326.8,385.7 324.8,387.5 322.9,389.4 321.2,391.5 319.6,393.7 318.1,395.9 316.7,398.2 315.4,400.6 314.1,403.0 313.0,405.4 311.9,407.9 310.8,410.4 309.9,413.0 309.0,415.6 308.2,418.2 307.4,420.8 306.6,423.4 305.8,426.0 305.0,428.6 304.2,431.3 303.5,433.9 302.7,436.5 302.0,439.2 301.3,441.8 300.6,444.5 299.9,447.1 299.2,449.8 298.5,452.4 297.6,455.1 296.6,457.6 295.0,459.8 292.4,460.0 290.0,459.2" fill="#7c715a" opacity="0.7"/></g>
</g>
</g>
<text x="293.85" y="272.5" font-size="31" font-weight="bold" fill="#000" text-anchor="start" >(c)</text>
<text x="417.4" y="276.3" font-size="19.7" font-weight="bold" fill="#fff" text-anchor="start" >Nb-WSe<tspan font-size="13" dy="3.8">2</tspan><tspan dy="-3.8" font-size="19.7"> Device</tspan></text>
</g>
<g id="pd">
<rect x="591" y="1.5" width="294.5" height="221.7" fill="url(#gd_pink)"/>
<rect x="593.6" y="108.7" width="289.6" height="114.6" fill="#fff"/>
<rect x="729.4" y="14.4" width="6.6" height="100" fill="#fff"/>
<rect x="738.6" y="14.4" width="6.6" height="100" fill="#fff"/>
<rect x="711.7" y="58.8" width="17.7" height="13.6" fill="#e033f3"/>
<rect x="736" y="58.8" width="2.6" height="13.6" fill="#e033f3"/>
<rect x="745.2" y="58.8" width="3.6" height="13.6" fill="#e444f4"/>
<rect x="729.4" y="58.8" width="6.6" height="13.6" fill="#fbe9fd"/>
<rect x="738.6" y="58.8" width="6.6" height="13.6" fill="#fbe9fd"/>
<rect x="736.2" y="108" width="2.4" height="24" fill="#f070f8"/>
<rect x="718.4" y="131.4" width="38.6" height="91.8" fill="#f16ff8"/>
<circle cx="662.3" cy="15.3" r="0.70" fill="#c84ee0" opacity="0.7"/><circle cx="620.7" cy="7.0" r="0.77" fill="#d25ae6" opacity="0.7"/><circle cx="823.1" cy="81.5" r="0.61" fill="#d25ae6" opacity="0.7"/><circle cx="673.9" cy="22.3" r="0.55" fill="#c84ee0" opacity="0.7"/><circle cx="863.7" cy="7.6" r="0.82" fill="#d25ae6" opacity="0.7"/><circle cx="823.1" cy="24.3" r="0.65" fill="#d25ae6" opacity="0.7"/><circle cx="619.7" cy="65.6" r="0.84" fill="#c84ee0" opacity="0.7"/><circle cx="645.7" cy="52.4" r="0.54" fill="#d25ae6" opacity="0.7"/><circle cx="597.1" cy="34.2" r="0.85" fill="#d25ae6" opacity="0.7"/><circle cx="836.7" cy="55.8" r="0.71" fill="#d25ae6" opacity="0.7"/><circle cx="717.8" cy="21.1" r="0.65" fill="#c84ee0" opacity="0.7"/><circle cx="618.1" cy="51.3" r="1.00" fill="#d25ae6" opacity="0.7"/><circle cx="794.8" cy="19.5" r="0.84" fill="#c84ee0" opacity="0.7"/><circle cx="712.6" cy="25.3" r="0.82" fill="#d25ae6" opacity="0.7"/><circle cx="647.4" cy="48.6" r="0.79" fill="#c84ee0" opacity="0.7"/><circle cx="852.7" cy="15.1" r="0.53" fill="#c84ee0" opacity="0.7"/>
<text x="597.35" y="31.3" font-size="31" font-weight="bold" fill="#000" text-anchor="start" >(d)</text>
<text x="774.3" y="29" font-size="19.9" font-weight="bold" fill="#fdeeff" text-anchor="start" >Earth-WSe<tspan font-size="13" dy="3.6">2</tspan></text>
<rect x="827" y="210.7" width="38" height="3.9" fill="#000"/>
<text x="820.8" y="200.9" font-size="20.0" font-weight="bold" fill="#000" text-anchor="start" >50 µm</text>
</g><g id="pe">
<rect x="895.2" y="1.8" width="295" height="221.7" fill="url(#ge_blue)"/>
<rect x="950" y="2" width="30" height="140" fill="#7d63e0" opacity="0.14" filter="url(#blur4)"/>
<rect x="1080" y="2" width="30" height="140" fill="#7d63e0" opacity="0.18" filter="url(#blur4)"/>
<rect x="898.8" y="141.5" width="291.4" height="82" fill="url(#ge_gold)"/>
<rect x="1037" y="46.2" width="6" height="96" fill="#fbec96"/>
<rect x="1045.8" y="46.2" width="6.4" height="96" fill="#fbec96"/>
<rect x="1020.4" y="83.5" width="16.6" height="13.4" fill="#6058e0"/>
<rect x="1052.2" y="83.5" width="6" height="13.4" fill="#4fa4e8"/>
<rect x="1043" y="83.5" width="2.8" height="13.4" fill="#58b0e0"/>
<rect x="1043" y="46.2" width="2.8" height="96" fill="#6a72de"/><rect x="1042.6" y="141.5" width="3.2" height="23.5" fill="#8a78d8"/>
<rect x="1024.6" y="164.7" width="39.1" height="58.8" fill="url(#ge_pad)"/>
<path d="M895,199 L905,197.5 L915,198 L921,201 L919,207 L912,209 L906,212 L903,218 L899,223.5 L895,223.5 Z" fill="#5a6fe0"/>
<path d="M905,197.5 L915,198 L921,201 L919,207 L912,209" fill="none" stroke="#8a5a3a" stroke-width="1.5" opacity="0.8"/>
<circle cx="1000.4" cy="118.5" r="4.2" fill="#57b4ef" opacity="0.8"/><circle cx="1000.4" cy="118.5" r="2.2" fill="#fbe9d8"/>
<circle cx="989.3" cy="25.1" r="1.02" fill="#58c4f0" opacity="0.75"/><circle cx="1129.6" cy="17.5" r="0.97" fill="#7fd0f5" opacity="0.75"/><circle cx="908.6" cy="62.7" r="0.56" fill="#58c4f0" opacity="0.75"/><circle cx="1053.4" cy="12.9" r="0.95" fill="#7fd0f5" opacity="0.75"/><circle cx="1075.8" cy="82.5" r="0.55" fill="#2c3f90" opacity="0.75"/><circle cx="912.0" cy="34.4" r="0.95" fill="#7fd0f5" opacity="0.75"/><circle cx="979.7" cy="24.2" r="0.59" fill="#3e5fc4" opacity="0.75"/><circle cx="1056.0" cy="95.7" r="0.58" fill="#7fd0f5" opacity="0.75"/><circle cx="1003.0" cy="77.9" r="0.55" fill="#58c4f0" opacity="0.75"/><circle cx="1072.6" cy="71.0" r="0.93" fill="#3e5fc4" opacity="0.75"/><circle cx="1029.3" cy="127.8" r="0.79" fill="#7fd0f5" opacity="0.75"/><circle cx="1122.0" cy="98.0" r="0.70" fill="#3e5fc4" opacity="0.75"/><circle cx="1046.1" cy="121.4" r="1.08" fill="#3e5fc4" opacity="0.75"/><circle cx="1069.7" cy="14.7" r="0.91" fill="#7fd0f5" opacity="0.75"/><circle cx="1111.5" cy="25.2" r="0.89" fill="#58c4f0" opacity="0.75"/><circle cx="1169.3" cy="15.3" r="0.95" fill="#3e5fc4" opacity="0.75"/><circle cx="993.9" cy="51.6" r="0.90" fill="#2c3f90" opacity="0.75"/><circle cx="917.4" cy="17.4" r="0.72" fill="#58c4f0" opacity="0.75"/><circle cx="915.1" cy="98.3" r="1.02" fill="#2c3f90" opacity="0.75"/><circle cx="978.3" cy="56.3" r="1.03" fill="#58c4f0" opacity="0.75"/><circle cx="1163.3" cy="52.3" r="0.99" fill="#2c3f90" opacity="0.75"/><circle cx="914.6" cy="107.2" r="0.60" fill="#7fd0f5" opacity="0.75"/><circle cx="1010.2" cy="126.9" r="0.90" fill="#7fd0f5" opacity="0.75"/><circle cx="1024.7" cy="78.1" r="1.21" fill="#2c3f90" opacity="0.75"/><circle cx="1141.6" cy="42.0" r="0.83" fill="#3e5fc4" opacity="0.75"/><circle cx="1090.5" cy="55.6" r="0.68" fill="#58c4f0" opacity="0.75"/><circle cx="947.7" cy="35.9" r="0.69" fill="#2c3f90" opacity="0.75"/><circle cx="1132.4" cy="29.3" r="0.73" fill="#7fd0f5" opacity="0.75"/><circle cx="1016.1" cy="54.1" r="0.95" fill="#7fd0f5" opacity="0.75"/><circle cx="1092.7" cy="73.6" r="0.99" fill="#58c4f0" opacity="0.75"/><circle cx="1026.8" cy="120.8" r="1.26" fill="#2c3f90" opacity="0.75"/><circle cx="1010.3" cy="57.4" r="0.89" fill="#2c3f90" opacity="0.75"/><circle cx="915.6" cy="14.0" r="0.67" fill="#7fd0f5" opacity="0.75"/><circle cx="929.0" cy="84.9" r="0.58" fill="#7fd0f5" opacity="0.75"/><circle cx="1049.3" cy="131.2" r="0.99" fill="#58c4f0" opacity="0.75"/><circle cx="1144.6" cy="86.7" r="0.62" fill="#3e5fc4" opacity="0.75"/><circle cx="1167.4" cy="85.1" r="0.88" fill="#58c4f0" opacity="0.75"/><circle cx="1137.4" cy="137.1" r="0.87" fill="#2c3f90" opacity="0.75"/><circle cx="985.9" cy="24.2" r="1.10" fill="#3e5fc4" opacity="0.75"/><circle cx="1033.0" cy="97.0" r="0.91" fill="#7fd0f5" opacity="0.75"/>
<circle cx="1038.5" cy="121.1" r="0.72" fill="#e8e08a" opacity="0.85"/><circle cx="1037.4" cy="130.3" r="0.84" fill="#e8e08a" opacity="0.85"/><circle cx="1035.9" cy="127.8" r="0.81" fill="#9fe0f5" opacity="0.85"/><circle cx="1037.2" cy="114.2" r="0.78" fill="#e8e08a" opacity="0.85"/><circle cx="1033.4" cy="113.2" r="0.78" fill="#58c4f0" opacity="0.85"/><circle cx="1034.2" cy="132.7" r="1.19" fill="#58c4f0" opacity="0.85"/><circle cx="1016.0" cy="119.7" r="1.18" fill="#58c4f0" opacity="0.85"/><circle cx="1033.7" cy="118.9" r="0.75" fill="#e8e08a" opacity="0.85"/><circle cx="1038.7" cy="117.9" r="1.35" fill="#9fe0f5" opacity="0.85"/><circle cx="1038.7" cy="114.6" r="0.78" fill="#58c4f0" opacity="0.85"/><circle cx="1024.1" cy="113.5" r="0.99" fill="#e8e08a" opacity="0.85"/><circle cx="1035.2" cy="119.2" r="1.12" fill="#e8e08a" opacity="0.85"/>
<circle cx="1151.7" cy="59.8" r="1.71" fill="#4ab0ee" opacity="0.7"/><circle cx="1159.6" cy="45.4" r="1.59" fill="#70c8f5" opacity="0.7"/><circle cx="1151.7" cy="68.4" r="1.52" fill="#70c8f5" opacity="0.7"/><circle cx="1158.0" cy="68.4" r="1.52" fill="#4ab0ee" opacity="0.7"/><circle cx="1169.9" cy="40.8" r="1.39" fill="#70c8f5" opacity="0.7"/><circle cx="1166.1" cy="44.4" r="1.63" fill="#70c8f5" opacity="0.7"/><circle cx="1163.1" cy="50.5" r="1.35" fill="#4ab0ee" opacity="0.7"/><circle cx="1150.4" cy="64.0" r="1.53" fill="#4ab0ee" opacity="0.7"/>
<circle cx="1047.4" cy="216.8" r="0.66" fill="#c89a50" opacity="0.7"/><circle cx="1131.3" cy="160.5" r="0.55" fill="#b0703c" opacity="0.7"/><circle cx="1040.3" cy="203.6" r="0.60" fill="#d8b860" opacity="0.7"/><circle cx="1017.3" cy="154.2" r="0.95" fill="#b0703c" opacity="0.7"/><circle cx="1151.4" cy="195.7" r="0.89" fill="#d8b860" opacity="0.7"/><circle cx="1017.8" cy="215.6" r="0.70" fill="#d8b860" opacity="0.7"/><circle cx="942.5" cy="183.8" r="0.92" fill="#c89a50" opacity="0.7"/><circle cx="1070.4" cy="204.5" r="0.49" fill="#c89a50" opacity="0.7"/><circle cx="1032.6" cy="200.6" r="0.73" fill="#b0703c" opacity="0.7"/><circle cx="1091.1" cy="185.4" r="0.69" fill="#c89a50" opacity="0.7"/><circle cx="1147.3" cy="148.4" r="0.51" fill="#c89a50" opacity="0.7"/><circle cx="1116.2" cy="183.6" r="0.74" fill="#c89a50" opacity="0.7"/><circle cx="1024.1" cy="191.8" r="0.70" fill="#d8b860" opacity="0.7"/><circle cx="955.8" cy="165.6" r="0.70" fill="#b0703c" opacity="0.7"/><circle cx="1042.2" cy="163.3" r="0.71" fill="#b0703c" opacity="0.7"/><circle cx="1158.4" cy="213.6" r="0.52" fill="#b0703c" opacity="0.7"/><circle cx="938.4" cy="153.5" r="0.67" fill="#c89a50" opacity="0.7"/><circle cx="1087.9" cy="177.4" r="0.53" fill="#b0703c" opacity="0.7"/><circle cx="1119.5" cy="214.0" r="0.49" fill="#d8b860" opacity="0.7"/><circle cx="1080.2" cy="172.6" r="0.55" fill="#c89a50" opacity="0.7"/><circle cx="1170.9" cy="161.1" r="0.97" fill="#b0703c" opacity="0.7"/><circle cx="1147.8" cy="156.7" r="0.80" fill="#c89a50" opacity="0.7"/><circle cx="945.2" cy="177.7" r="0.71" fill="#b0703c" opacity="0.7"/><circle cx="1018.0" cy="171.8" r="0.46" fill="#b0703c" opacity="0.7"/><circle cx="905.5" cy="187.2" r="0.66" fill="#c89a50" opacity="0.7"/><circle cx="1007.6" cy="184.4" r="0.58" fill="#c89a50" opacity="0.7"/><circle cx="931.6" cy="215.6" r="0.54" fill="#c89a50" opacity="0.7"/><circle cx="923.5" cy="165.2" r="0.94" fill="#c89a50" opacity="0.7"/><circle cx="975.7" cy="154.1" r="0.65" fill="#d8b860" opacity="0.7"/><circle cx="1129.3" cy="164.2" r="0.49" fill="#d8b860" opacity="0.7"/><circle cx="1059.8" cy="198.6" r="0.45" fill="#c89a50" opacity="0.7"/><circle cx="1123.9" cy="158.3" r="0.94" fill="#b0703c" opacity="0.7"/><circle cx="1162.7" cy="193.5" r="0.88" fill="#c89a50" opacity="0.7"/><circle cx="1070.3" cy="161.3" r="0.56" fill="#c89a50" opacity="0.7"/><circle cx="1027.1" cy="170.5" r="0.73" fill="#b0703c" opacity="0.7"/><circle cx="1074.1" cy="147.4" r="0.83" fill="#c89a50" opacity="0.7"/><circle cx="1171.4" cy="164.4" r="0.51" fill="#b0703c" opacity="0.7"/><circle cx="1076.0" cy="185.4" r="0.52" fill="#b0703c" opacity="0.7"/><circle cx="1040.0" cy="157.9" r="0.61" fill="#c89a50" opacity="0.7"/><circle cx="1178.5" cy="146.9" r="0.41" fill="#d8b860" opacity="0.7"/><circle cx="1054.3" cy="158.8" r="0.68" fill="#b0703c" opacity="0.7"/><circle cx="929.8" cy="207.9" r="0.66" fill="#b0703c" opacity="0.7"/><circle cx="1052.9" cy="213.3" r="0.98" fill="#b0703c" opacity="0.7"/><circle cx="1092.6" cy="220.6" r="0.61" fill="#d8b860" opacity="0.7"/><circle cx="1104.1" cy="154.9" r="0.99" fill="#c89a50" opacity="0.7"/><circle cx="1134.4" cy="145.1" r="0.78" fill="#b0703c" opacity="0.7"/><circle cx="1020.6" cy="148.3" r="0.80" fill="#b0703c" opacity="0.7"/><circle cx="1143.8" cy="196.3" r="0.57" fill="#c89a50" opacity="0.7"/><circle cx="1094.0" cy="147.5" r="0.51" fill="#b0703c" opacity="0.7"/><circle cx="1024.8" cy="164.5" r="0.98" fill="#d8b860" opacity="0.7"/><circle cx="990.6" cy="146.7" r="0.93" fill="#c89a50" opacity="0.7"/><circle cx="999.8" cy="144.1" r="0.63" fill="#b0703c" opacity="0.7"/><circle cx="978.1" cy="195.2" r="0.55" fill="#c89a50" opacity="0.7"/><circle cx="925.4" cy="207.7" r="0.49" fill="#d8b860" opacity="0.7"/><circle cx="911.7" cy="145.8" r="0.58" fill="#c89a50" opacity="0.7"/><circle cx="923.7" cy="218.7" r="0.91" fill="#c89a50" opacity="0.7"/><circle cx="1084.1" cy="199.8" r="0.93" fill="#b0703c" opacity="0.7"/><circle cx="1114.0" cy="200.2" r="0.70" fill="#b0703c" opacity="0.7"/><circle cx="1102.8" cy="194.2" r="0.43" fill="#d8b860" opacity="0.7"/><circle cx="1149.7" cy="192.9" r="0.84" fill="#d8b860" opacity="0.7"/>
<circle cx="939.0" cy="184.9" r="1.30" fill="#a05a30" opacity="0.8"/><circle cx="1131.4" cy="189.6" r="1.54" fill="#a05a30" opacity="0.8"/><circle cx="923.8" cy="147.3" r="1.38" fill="#a05a30" opacity="0.8"/><circle cx="1005.5" cy="179.2" r="1.03" fill="#a05a30" opacity="0.8"/><circle cx="1075.3" cy="197.1" r="1.29" fill="#a05a30" opacity="0.8"/><circle cx="1027.9" cy="149.5" r="1.56" fill="#a05a30" opacity="0.8"/><circle cx="1084.6" cy="149.2" r="1.44" fill="#8e4a2a" opacity="0.8"/><circle cx="1126.6" cy="210.0" r="1.14" fill="#a05a30" opacity="0.8"/>
<circle cx="1036.5" cy="111" r="2.2" fill="#3a2a20" opacity="0.85"/>
<text x="901.95" y="28.9" font-size="31" font-weight="bold" fill="#000" text-anchor="start" >(e)</text>
<text x="1068.6" y="27.3" font-size="19.9" font-weight="bold" fill="#fff" text-anchor="start" >Space-WSe<tspan font-size="13" dy="3.6">2</tspan></text>
<rect x="1115.3" y="211.2" width="39" height="3.8" fill="#000"/>
<text x="1108.6" y="203.2" font-size="20.0" font-weight="bold" fill="#000" text-anchor="start" >50 µm</text>
</g><g id="pf">
<rect x="593.4" y="245" width="293.8" height="220.8" fill="#fff"/>
<rect x="593.4" y="245" width="18" height="220.8" fill="url(#gf_left)"/>
<rect x="742.7" y="245" width="144.5" height="220.8" fill="url(#gf_right)"/>
<rect x="611" y="346.2" width="109.8" height="39.4" fill="url(#gf_pad)"/>
<rect x="793.9" y="341.8" width="13.6" height="36.4" fill="#b565e6"/>
<rect x="720.8" y="358" width="117" height="6" fill="#fff"/>
<rect x="720.8" y="366.5" width="117" height="6" fill="#fff"/>
<rect x="720.8" y="364" width="22" height="2.5" fill="#d98cf2"/>
<rect x="793.9" y="364" width="13.6" height="2.5" fill="#a858de"/>
<circle cx="808.3" cy="367.6" r="0.86" fill="#7040a8" opacity="0.7"/><circle cx="808.3" cy="429.6" r="0.49" fill="#7040a8" opacity="0.7"/><circle cx="833.2" cy="416.5" r="0.45" fill="#7040a8" opacity="0.7"/><circle cx="764.9" cy="363.1" r="0.85" fill="#8a4fc0" opacity="0.7"/><circle cx="828.4" cy="333.2" r="0.63" fill="#8a4fc0" opacity="0.7"/><circle cx="832.2" cy="424.7" r="0.43" fill="#8a4fc0" opacity="0.7"/><circle cx="771.6" cy="300.8" r="0.42" fill="#7040a8" opacity="0.7"/><circle cx="790.7" cy="374.1" r="0.50" fill="#8a4fc0" opacity="0.7"/><circle cx="834.6" cy="355.0" r="0.73" fill="#7040a8" opacity="0.7"/><circle cx="836.7" cy="335.4" r="0.68" fill="#8a4fc0" opacity="0.7"/><circle cx="844.1" cy="316.2" r="0.51" fill="#7040a8" opacity="0.7"/><circle cx="749.2" cy="368.3" r="0.45" fill="#8a4fc0" opacity="0.7"/><circle cx="863.5" cy="331.2" r="0.88" fill="#8a4fc0" opacity="0.7"/><circle cx="774.9" cy="444.7" r="0.43" fill="#7040a8" opacity="0.7"/><circle cx="882.3" cy="333.5" r="0.44" fill="#8a4fc0" opacity="0.7"/><circle cx="854.0" cy="306.7" r="0.44" fill="#7040a8" opacity="0.7"/><circle cx="747.1" cy="336.1" r="0.86" fill="#8a4fc0" opacity="0.7"/><circle cx="779.5" cy="271.2" r="0.43" fill="#7040a8" opacity="0.7"/>
<circle cx="635.6" cy="367.5" r="0.58" fill="#d8b0a0" opacity="0.6"/><circle cx="738.1" cy="411.6" r="0.57" fill="#c0c0c0" opacity="0.6"/><circle cx="627.8" cy="338.4" r="0.49" fill="#c0c0c0" opacity="0.6"/><circle cx="722.8" cy="454.7" r="0.64" fill="#d8b0a0" opacity="0.6"/>
<circle cx="662" cy="443" r="1.1" fill="#e06040"/>
<path d="M726,462 q5,-3 10,0 q-4,3 -8,2" fill="none" stroke="#e8a890" stroke-width="1"/>
<text x="597.35" y="271.4" font-size="31" font-weight="bold" fill="#000" text-anchor="start" >(f)</text>
<text x="745.2" y="275.2" font-size="19.9" font-weight="bold" fill="#fdf0ff" text-anchor="start" >Earth-Nb-WSe<tspan font-size="13" dy="3.6">2</tspan></text>
<rect x="826.6" y="449.8" width="38.8" height="4.2" fill="#fff"/>
<text x="821.6" y="443.2" font-size="20.0" font-weight="bold" fill="#fff" text-anchor="start" >50 µm</text>
</g><g id="pg">
<rect x="896" y="245" width="294" height="220.5" fill="url(#gg_blue)"/>
<path d="M896,245 L1024.4,245 L1027,350 L1028,370 L1030.2,465.5 L896,465.5 Z" fill="url(#gg_gold)"/>
<rect x="896" y="390" width="1.6" height="75.5" fill="#6a5a90" opacity="0.7"/>
<path d="M896,344.6 L1005,341.8 L1005.6,379.9 L896,383.3 Z" fill="url(#gg_pad)"/>
<rect x="1070" y="335.2" width="15.2" height="38" fill="#5274e6" filter="url(#blur1)"/><rect x="1070.5" y="336" width="14" height="14" fill="#4a7ee8" opacity="0.6" filter="url(#blur1)"/>
<path d="M1005,353.2 L1122.6,350.5 L1122.6,356.5 L1005,359.5 Z" fill="#fbf09c"/>
<path d="M1005,362.6 L1122.6,359.0 L1122.6,365 L1005,368.7 Z" fill="#fbf09c"/>
<path d="M1005,359.5 L1027.5,358.9 L1027.5,362.0 L1005,362.6 Z" fill="#8468cc"/>
<path d="M1027.5,358.9 L1122.6,356.5 L1122.6,359.0 L1027.5,362.0 Z" fill="#6c56cc"/>
<ellipse cx="1100.8" cy="255.5" rx="5.5" ry="4.6" fill="#1e1a30"/>
<ellipse cx="1176.5" cy="368.3" rx="5" ry="5.5" fill="#1e1a30"/>
<ellipse cx="1043.5" cy="378.5" rx="2.8" ry="2" fill="#1e1a30"/>
<ellipse cx="1089.5" cy="375" rx="2.6" ry="2" fill="#1e1a30"/>
<ellipse cx="898" cy="394" rx="1.8" ry="3.6" fill="#2a2020"/>
<ellipse cx="947.5" cy="345.8" rx="2.2" ry="1.8" fill="#2a2030"/>
<circle cx="1068.9" cy="393.9" r="0.81" fill="#50b8f0" opacity="0.75"/><circle cx="1127.8" cy="389.9" r="0.92" fill="#2a2060" opacity="0.75"/><circle cx="1140.1" cy="277.3" r="0.72" fill="#50b8f0" opacity="0.75"/><circle cx="1141.7" cy="256.3" r="0.48" fill="#2a2060" opacity="0.75"/><circle cx="1121.3" cy="253.0" r="0.57" fill="#50b8f0" opacity="0.75"/><circle cx="1042.7" cy="416.8" r="0.93" fill="#70c8f8" opacity="0.75"/><circle cx="1154.0" cy="406.4" r="0.97" fill="#70c8f8" opacity="0.75"/><circle cx="1083.4" cy="299.1" r="0.94" fill="#2a2060" opacity="0.75"/><circle cx="1114.6" cy="340.2" r="0.62" fill="#70c8f8" opacity="0.75"/><circle cx="1125.8" cy="387.6" r="0.61" fill="#2a2060" opacity="0.75"/><circle cx="1149.7" cy="457.0" r="0.81" fill="#2a2060" opacity="0.75"/><circle cx="1121.7" cy="457.3" r="0.66" fill="#2a2060" opacity="0.75"/><circle cx="1096.5" cy="287.1" r="0.52" fill="#2a2060" opacity="0.75"/><circle cx="1083.4" cy="327.9" r="0.56" fill="#70c8f8" opacity="0.75"/><circle cx="1089.4" cy="277.5" r="0.69" fill="#50b8f0" opacity="0.75"/><circle cx="1114.8" cy="436.2" r="0.82" fill="#50b8f0" opacity="0.75"/><circle cx="1041.0" cy="386.8" r="0.97" fill="#70c8f8" opacity="0.75"/><circle cx="1030.3" cy="339.1" r="0.92" fill="#50b8f0" opacity="0.75"/><circle cx="1051.3" cy="419.3" r="0.90" fill="#2a2060" opacity="0.75"/><circle cx="1068.1" cy="404.0" r="0.84" fill="#70c8f8" opacity="0.75"/><circle cx="1162.9" cy="418.7" r="0.52" fill="#2a2060" opacity="0.75"/><circle cx="1086.2" cy="400.5" r="0.48" fill="#2a2060" opacity="0.75"/><circle cx="1120.5" cy="401.8" r="0.53" fill="#2a2060" opacity="0.75"/><circle cx="1036.4" cy="397.4" r="0.42" fill="#2a2060" opacity="0.75"/><circle cx="1139.2" cy="321.7" r="0.58" fill="#50b8f0" opacity="0.75"/><circle cx="1148.1" cy="366.6" r="0.94" fill="#50b8f0" opacity="0.75"/><circle cx="1040.4" cy="385.1" r="0.73" fill="#2a2060" opacity="0.75"/><circle cx="1134.3" cy="453.9" r="0.90" fill="#2a2060" opacity="0.75"/><circle cx="1043.9" cy="250.6" r="1.00" fill="#50b8f0" opacity="0.75"/><circle cx="1091.2" cy="440.4" r="0.74" fill="#2a2060" opacity="0.75"/>
<circle cx="909.4" cy="292.3" r="0.79" fill="#7a4a30" opacity="0.8"/><circle cx="900.7" cy="280.1" r="0.90" fill="#a07850" opacity="0.8"/><circle cx="963.0" cy="292.7" r="1.04" fill="#5a3020" opacity="0.8"/><circle cx="997.5" cy="283.9" r="1.07" fill="#7a4a30" opacity="0.8"/><circle cx="990.1" cy="273.2" r="1.05" fill="#7a4a30" opacity="0.8"/><circle cx="931.5" cy="302.9" r="0.78" fill="#7a4a30" opacity="0.8"/><circle cx="972.2" cy="288.5" r="1.01" fill="#5a3020" opacity="0.8"/><circle cx="904.6" cy="285.8" r="0.57" fill="#7a4a30" opacity="0.8"/><circle cx="973.2" cy="250.4" r="1.12" fill="#7a4a30" opacity="0.8"/><circle cx="954.8" cy="339.2" r="0.81" fill="#7a4a30" opacity="0.8"/><circle cx="935.3" cy="289.1" r="0.61" fill="#7a4a30" opacity="0.8"/><circle cx="913.7" cy="324.1" r="0.67" fill="#5a3020" opacity="0.8"/><circle cx="973.6" cy="276.2" r="0.78" fill="#7a4a30" opacity="0.8"/><circle cx="944.0" cy="289.8" r="1.20" fill="#5a3020" opacity="0.8"/>
<circle cx="905.5" cy="426.5" r="0.46" fill="#a07850" opacity="0.6"/><circle cx="940.7" cy="452.3" r="0.67" fill="#a07850" opacity="0.6"/><circle cx="1013.7" cy="452.4" r="0.86" fill="#a07850" opacity="0.6"/><circle cx="911.3" cy="455.1" r="0.44" fill="#b89860" opacity="0.6"/><circle cx="1001.0" cy="403.4" r="0.76" fill="#a07850" opacity="0.6"/><circle cx="965.5" cy="454.3" r="0.62" fill="#b89860" opacity="0.6"/><circle cx="978.2" cy="448.5" r="0.85" fill="#a07850" opacity="0.6"/><circle cx="977.3" cy="455.9" r="0.78" fill="#b89860" opacity="0.6"/>
<circle cx="955.0" cy="356.2" r="0.98" fill="#2a2060" opacity="0.8"/><circle cx="926.9" cy="358.7" r="0.97" fill="#50b8f0" opacity="0.8"/><circle cx="974.9" cy="349.6" r="0.86" fill="#50b8f0" opacity="0.8"/><circle cx="1003.0" cy="373.5" r="0.71" fill="#2a2060" opacity="0.8"/><circle cx="994.6" cy="347.4" r="0.55" fill="#2a2060" opacity="0.8"/><circle cx="1002.6" cy="362.0" r="0.63" fill="#50b8f0" opacity="0.8"/><circle cx="946.4" cy="346.1" r="0.51" fill="#2a2060" opacity="0.8"/><circle cx="928.5" cy="353.7" r="1.00" fill="#2a2060" opacity="0.8"/>
<text x="898.15" y="272.6" font-size="31" font-weight="bold" fill="#000" text-anchor="start" >(g)</text>
<text x="1036.3" y="275.6" font-size="19.9" font-weight="bold" fill="#fff" text-anchor="start" >Space-Nb-WSe<tspan font-size="13" dy="3.6">2</tspan></text>
<rect x="1116.6" y="449.9" width="38.8" height="4.2" fill="#fff"/>
<text x="1108.4" y="443.0" font-size="20.0" font-weight="bold" fill="#fff" text-anchor="start" >50 µm</text>
</g>
<g id="ch">
<rect x="20.9" y="479.6" width="255.49999999999997" height="205.29999999999995" fill="#fff" stroke="#1a1a1a" stroke-width="2.4"/>
<polyline points="20.9,579.6 21.5,579.8 22.1,579.7 22.7,579.9 23.3,579.9 23.9,579.3 24.5,579.3 25.2,580.0 25.8,579.4 26.4,579.4 27.0,580.0 27.6,579.5 28.2,579.9 28.8,579.5 29.4,579.6 30.0,579.2 30.6,579.6 31.2,579.8 31.8,579.4 32.5,579.6 33.1,579.5 33.7,578.9 34.3,579.5 34.9,579.4 35.5,579.1 36.1,578.8 36.7,579.5 37.3,579.1 37.9,579.3 38.5,579.4 39.2,579.3 39.8,579.4 40.4,578.9 41.0,579.2 41.6,578.9 42.2,579.3 42.8,579.2 43.4,578.4 44.0,578.4 44.6,578.4 45.2,579.1 45.8,578.5 46.4,578.6 47.1,578.3 47.7,578.4 48.3,578.2 48.9,578.1 49.5,578.2 50.1,578.1 50.7,578.2 51.3,577.9 51.9,577.9 52.5,577.6 53.1,577.4 53.7,576.8 54.4,576.0 55.0,576.1 55.6,575.5 56.2,574.7 56.8,573.4 57.4,572.5 58.0,570.9 58.6,570.6 59.2,570.0 59.8,570.0 60.4,570.6 61.0,572.4 61.7,573.5 62.3,573.6 62.9,574.9 63.5,575.1 64.1,575.3 64.7,575.7 65.3,576.2 65.9,576.4 66.5,575.5 67.1,575.9 67.7,575.3 68.3,576.1 69.0,576.0 69.6,576.9 70.2,577.2 70.8,577.0 71.4,577.6 72.0,577.1 72.6,576.9 73.2,577.4 73.8,577.0 74.4,577.1 75.0,577.3 75.6,577.5 76.3,577.1 76.9,577.0 77.5,577.7 78.1,577.2 78.7,577.7 79.3,577.6 79.9,577.1 80.5,577.2 81.1,577.1 81.7,577.2 82.3,577.0 82.9,576.8 83.6,576.7 84.2,576.8 84.8,576.1 85.4,575.7 86.0,575.6 86.6,574.8 87.2,574.6 87.8,575.3 88.4,575.1 89.0,575.5 89.6,575.4 90.2,576.0 90.9,576.3 91.5,576.0 92.1,576.6 92.7,576.7 93.3,576.2 93.9,576.7 94.5,576.6 95.1,576.8 95.7,576.5 96.3,576.8 96.9,576.8 97.5,576.1 98.2,576.1 98.8,576.6 99.4,576.8 100.0,576.1 100.6,576.2 101.2,576.2 101.8,575.9 102.4,575.8 103.0,575.6 103.6,575.5 104.2,575.5 104.8,575.1 105.5,575.2 106.1,575.5 106.7,574.9 107.3,575.5 107.9,575.7 108.5,575.4 109.1,575.3 109.7,575.8 110.3,575.3 110.9,575.2 111.5,575.4 112.1,575.6 112.8,574.9 113.4,575.0 114.0,574.9 114.6,575.3 115.2,574.7 115.8,574.9 116.4,574.1 117.0,573.9 117.6,573.8 118.2,573.5 118.8,572.4 119.4,571.3 120.1,569.9 120.7,568.8 121.3,567.4 121.9,567.9 122.5,568.8 123.1,569.4 123.7,570.4 124.3,571.5 124.9,571.8 125.5,572.1 126.1,571.7 126.7,571.5 127.4,571.4 128.0,571.6 128.6,570.8 129.2,570.4 129.8,569.9 130.4,569.1 131.0,568.2 131.6,567.4 132.2,565.2 132.8,563.2 133.4,561.8 134.1,559.4 134.7,557.3 135.3,555.5 135.9,556.0 136.5,557.0 137.1,557.8 137.7,559.6 138.3,560.7 138.9,561.0 139.5,560.9 140.1,560.3 140.7,559.6 141.3,558.3 142.0,556.5 142.6,554.9 143.2,551.9 143.8,548.9 144.4,543.9 145.0,539.4 145.6,532.9 146.2,526.0 146.8,518.9 147.4,511.9 148.0,504.8 148.6,498.0 149.3,494.1 149.9,492.0 150.5,494.3 151.1,500.1 151.7,507.7 152.3,516.0 152.9,524.6 153.5,531.7 154.1,537.8 154.7,543.0 155.3,548.0 155.9,551.3 156.6,554.6 157.2,556.7 157.8,558.6 158.4,560.6 159.0,562.3 159.6,562.8 160.2,564.2 160.8,564.9 161.4,565.1 162.0,565.2 162.6,564.6 163.2,565.7 163.9,566.8 164.5,567.0 165.1,568.1 165.7,568.7 166.3,569.4 166.9,569.7 167.5,570.0 168.1,570.5 168.7,569.8 169.3,569.8 169.9,569.7 170.5,569.4 171.2,569.0 171.8,569.8 172.4,570.1 173.0,569.9 173.6,570.8 174.2,571.0 174.8,571.3 175.4,571.5 176.0,571.9 176.6,571.8 177.2,571.6 177.8,571.4 178.5,571.3 179.1,570.9 179.7,570.8 180.3,570.3 180.9,569.0 181.5,567.3 182.1,565.2 182.7,563.0 183.3,561.8 183.9,562.9 184.5,564.9 185.2,567.6 185.8,569.1 186.4,570.1 187.0,570.8 187.6,571.4 188.2,572.0 188.8,572.0 189.4,572.4 190.0,572.4 190.6,572.3 191.2,572.6 191.8,572.8 192.4,572.3 193.1,572.7 193.7,572.7 194.3,573.1 194.9,573.2 195.5,572.7 196.1,573.2 196.7,573.1 197.3,572.6 197.9,572.7 198.5,572.4 199.1,573.0 199.7,572.9 200.4,573.0 201.0,572.9 201.6,572.8 202.2,572.8 202.8,572.6 203.4,572.2 204.0,572.6 204.6,572.0 205.2,572.1 205.8,572.6 206.4,571.9 207.0,571.9 207.7,571.8 208.3,572.4 208.9,571.8 209.5,571.5 210.1,572.2 210.7,571.5 211.3,572.1 211.9,571.8 212.5,571.9 213.1,571.9 213.7,571.5 214.3,571.6 215.0,570.8 215.6,571.3 216.2,571.0 216.8,571.1 217.4,570.4 218.0,570.9 218.6,570.9 219.2,570.0 219.8,570.1 220.4,570.2 221.0,570.3 221.6,569.7 222.3,569.5 222.9,569.4 223.5,569.6 224.1,569.5 224.7,569.0 225.3,568.8 225.9,568.6 226.5,568.4 227.1,568.1 227.7,567.5 228.3,567.5 229.0,567.4 229.6,566.2 230.2,565.7 230.8,564.1 231.4,563.2 232.0,561.4 232.6,558.9 233.2,555.5 233.8,551.5 234.4,547.5 235.0,544.4 235.6,542.8 236.2,544.9 236.9,549.4 237.5,553.9 238.1,557.3 238.7,560.2 239.3,562.7 239.9,563.9 240.5,565.3 241.1,566.3 241.7,567.4 242.3,567.8 242.9,568.3 243.6,569.1 244.2,569.7 244.8,569.3 245.4,569.9 246.0,569.9 246.6,570.4 247.2,570.3 247.8,570.2 248.4,570.2 249.0,570.1 249.6,570.6 250.2,570.6 250.8,570.5 251.5,570.7 252.1,570.7 252.7,571.1 253.3,570.6 253.9,571.3 254.5,570.9 255.1,571.0 255.7,570.9 256.3,571.2 256.9,571.1 257.5,570.9 258.1,570.7 258.8,570.9 259.4,571.0 260.0,570.5 260.6,570.7 261.2,570.7 261.8,570.1 262.4,569.8 263.0,569.5 263.6,569.7 264.2,569.4 264.8,569.3 265.4,568.8 266.1,567.7 266.7,567.2 267.3,566.8 267.9,566.4 268.5,566.7 269.1,566.8 269.7,567.1 270.3,566.9 270.9,567.9 271.5,567.8 272.1,568.4 272.8,569.1 273.4,568.8 274.0,569.1 274.6,570.0 275.2,569.7 275.8,570.0 276.4,570.3" fill="none" stroke="#e23a3a" stroke-width="1.7" stroke-linejoin="round" stroke-linecap="round"/>
<polyline points="20.9,673.4 21.5,673.5 22.1,673.5 22.7,673.6 23.3,673.4 23.9,673.6 24.5,672.8 25.2,673.2 25.8,673.6 26.4,673.4 27.0,673.6 27.6,672.9 28.2,673.2 28.8,673.0 29.4,673.2 30.0,673.3 30.6,672.8 31.2,672.9 31.8,673.0 32.5,673.6 33.1,673.4 33.7,672.9 34.3,673.4 34.9,672.8 35.5,673.3 36.1,672.8 36.7,672.7 37.3,673.5 37.9,672.9 38.5,672.9 39.2,673.5 39.8,673.4 40.4,672.9 41.0,673.5 41.6,673.1 42.2,673.2 42.8,672.8 43.4,673.4 44.0,673.2 44.6,673.4 45.2,673.3 45.8,672.7 46.4,672.8 47.1,672.5 47.7,672.5 48.3,672.4 48.9,672.5 49.5,672.7 50.1,672.1 50.7,672.7 51.3,672.3 51.9,672.1 52.5,672.5 53.1,672.0 53.7,671.7 54.4,671.6 55.0,671.5 55.6,670.5 56.2,670.9 56.8,669.4 57.4,669.3 58.0,668.6 58.6,666.8 59.2,666.6 59.8,665.6 60.4,665.7 61.0,665.6 61.7,666.4 62.3,667.5 62.9,669.1 63.5,669.1 64.1,670.2 64.7,670.8 65.3,671.1 65.9,670.8 66.5,670.8 67.1,671.0 67.7,671.0 68.3,670.1 69.0,670.4 69.6,670.5 70.2,670.8 70.8,670.6 71.4,671.8 72.0,671.4 72.6,671.8 73.2,672.3 73.8,672.7 74.4,672.2 75.0,672.8 75.6,672.5 76.3,672.4 76.9,672.4 77.5,672.3 78.1,672.2 78.7,672.2 79.3,672.7 79.9,673.0 80.5,672.2 81.1,672.0 81.7,672.8 82.3,672.3 82.9,672.1 83.6,671.8 84.2,671.9 84.8,671.9 85.4,671.2 86.0,670.6 86.6,669.6 87.2,669.6 87.8,668.2 88.4,668.4 89.0,669.0 89.6,669.1 90.2,670.4 90.9,671.2 91.5,671.3 92.1,671.8 92.7,671.4 93.3,671.9 93.9,671.8 94.5,672.5 95.1,672.1 95.7,672.2 96.3,672.8 96.9,672.6 97.5,672.7 98.2,672.3 98.8,672.3 99.4,672.4 100.0,672.2 100.6,671.9 101.2,671.9 101.8,671.5 102.4,671.6 103.0,672.0 103.6,671.7 104.2,671.2 104.8,671.0 105.5,670.8 106.1,670.6 106.7,671.0 107.3,671.6 107.9,671.8 108.5,671.5 109.1,671.9 109.7,672.0 110.3,671.9 110.9,671.9 111.5,672.0 112.1,671.6 112.8,671.8 113.4,671.4 114.0,671.5 114.6,671.6 115.2,671.4 115.8,670.9 116.4,671.3 117.0,670.8 117.6,670.4 118.2,669.4 118.8,669.3 119.4,668.1 120.1,667.3 120.7,665.6 121.3,664.2 121.9,662.9 122.5,663.2 123.1,664.0 123.7,665.7 124.3,667.0 124.9,667.8 125.5,667.9 126.1,668.6 126.7,668.7 127.4,668.5 128.0,668.6 128.6,668.3 129.2,667.5 129.8,667.0 130.4,666.0 131.0,665.8 131.6,664.8 132.2,663.1 132.8,661.5 133.4,659.4 134.1,656.9 134.7,653.7 135.3,652.0 135.9,650.7 136.5,651.0 137.1,652.2 137.7,654.2 138.3,655.8 138.9,656.8 139.5,657.5 140.1,657.0 140.7,656.7 141.3,656.2 142.0,655.2 142.6,653.2 143.2,651.4 143.8,648.5 144.4,644.4 145.0,640.3 145.6,634.5 146.2,627.8 146.8,620.7 147.4,613.6 148.0,606.4 148.6,599.4 149.3,593.0 149.9,589.2 150.5,588.1 151.1,591.1 151.7,597.2 152.3,605.0 152.9,614.2 153.5,621.7 154.1,629.5 154.7,635.8 155.3,641.2 155.9,645.4 156.6,649.8 157.2,652.5 157.8,654.7 158.4,657.4 159.0,658.7 159.6,660.7 160.2,661.8 160.8,663.1 161.4,664.4 162.0,665.2 162.6,665.5 163.2,666.5 163.9,666.9 164.5,667.2 165.1,667.4 165.7,668.2 166.3,668.6 166.9,669.2 167.5,669.5 168.1,669.4 168.7,669.4 169.3,670.1 169.9,669.5 170.5,669.8 171.2,670.3 171.8,670.5 172.4,670.2 173.0,670.8 173.6,671.1 174.2,670.7 174.8,670.8 175.4,670.7 176.0,670.8 176.6,671.4 177.2,670.8 177.8,671.3 178.5,671.2 179.1,670.8 179.7,670.3 180.3,670.6 180.9,669.7 181.5,668.9 182.1,667.8 182.7,666.7 183.3,664.1 183.9,661.7 184.5,661.2 185.2,662.5 185.8,665.3 186.4,667.2 187.0,668.5 187.6,669.9 188.2,670.6 188.8,670.4 189.4,671.2 190.0,671.2 190.6,672.0 191.2,672.0 191.8,671.6 192.4,671.7 193.1,671.7 193.7,672.5 194.3,672.0 194.9,672.3 195.5,672.2 196.1,672.4 196.7,672.4 197.3,672.5 197.9,672.0 198.5,672.6 199.1,672.2 199.7,672.4 200.4,672.2 201.0,672.2 201.6,672.4 202.2,672.4 202.8,672.3 203.4,672.6 204.0,672.5 204.6,671.9 205.2,672.1 205.8,672.3 206.4,672.7 207.0,672.7 207.7,672.3 208.3,671.8 208.9,672.5 209.5,672.2 210.1,672.3 210.7,672.4 211.3,672.3 211.9,672.1 212.5,672.4 213.1,671.9 213.7,671.9 214.3,672.3 215.0,671.6 215.6,671.7 216.2,672.1 216.8,671.4 217.4,672.0 218.0,671.8 218.6,671.5 219.2,671.3 219.8,671.7 220.4,671.8 221.0,671.0 221.6,671.3 222.3,671.3 222.9,671.2 223.5,670.9 224.1,670.7 224.7,671.0 225.3,671.1 225.9,670.3 226.5,670.4 227.1,670.8 227.7,670.6 228.3,670.3 229.0,669.5 229.6,669.8 230.2,669.6 230.8,669.2 231.4,668.3 232.0,666.9 232.6,666.5 233.2,664.5 233.8,663.0 234.4,660.8 235.0,657.7 235.6,654.2 236.2,652.5 236.9,653.1 237.5,654.5 238.1,657.9 238.7,660.7 239.3,663.0 239.9,665.4 240.5,666.4 241.1,667.6 241.7,668.7 242.3,669.1 242.9,669.6 243.6,670.5 244.2,671.0 244.8,671.4 245.4,671.0 246.0,671.4 246.6,671.5 247.2,671.9 247.8,671.9 248.4,672.4 249.0,672.0 249.6,671.8 250.2,672.5 250.8,672.0 251.5,672.5 252.1,672.5 252.7,672.9 253.3,672.6 253.9,672.7 254.5,672.4 255.1,672.7 255.7,672.4 256.3,672.9 256.9,672.7 257.5,672.3 258.1,672.4 258.8,672.5 259.4,672.8 260.0,672.3 260.6,672.8 261.2,672.7 261.8,672.1 262.4,672.5 263.0,671.9 263.6,671.8 264.2,672.1 264.8,671.6 265.4,671.9 266.1,671.3 266.7,670.8 267.3,670.9 267.9,670.0 268.5,670.5 269.1,669.9 269.7,670.2 270.3,671.2 270.9,671.3 271.5,671.2 272.1,671.4 272.8,672.4 273.4,672.3 274.0,672.7 274.6,672.2 275.2,672.7 275.8,672.6 276.4,672.6" fill="none" stroke="#4a4a4a" stroke-width="1.7" stroke-linejoin="round" stroke-linecap="round"/>
<rect x="20.9" y="479.6" width="255.49999999999997" height="205.29999999999995" fill="none" stroke="#1a1a1a" stroke-width="2.4"/>
<line x1="20.9" y1="685.9" x2="20.9" y2="689.5" stroke="#1a1a1a" stroke-width="1.9"/><text x="20.9" y="701.7" font-size="13.0" font-weight="normal" fill="#4d4d4d" text-anchor="middle" >100</text><line x1="46.4" y1="685.9" x2="46.4" y2="687.6" stroke="#1a1a1a" stroke-width="1.7"/><line x1="72.0" y1="685.9" x2="72.0" y2="689.5" stroke="#1a1a1a" stroke-width="1.9"/><text x="72.0" y="701.7" font-size="13.0" font-weight="normal" fill="#4d4d4d" text-anchor="middle" >200</text><line x1="97.5" y1="685.9" x2="97.5" y2="687.6" stroke="#1a1a1a" stroke-width="1.7"/><line x1="123.1" y1="685.9" x2="123.1" y2="689.5" stroke="#1a1a1a" stroke-width="1.9"/><text x="123.1" y="701.7" font-size="13.0" font-weight="normal" fill="#4d4d4d" text-anchor="middle" >300</text><line x1="148.6" y1="685.9" x2="148.6" y2="687.6" stroke="#1a1a1a" stroke-width="1.7"/><line x1="174.2" y1="685.9" x2="174.2" y2="689.5" stroke="#1a1a1a" stroke-width="1.9"/><text x="174.2" y="701.7" font-size="13.0" font-weight="normal" fill="#4d4d4d" text-anchor="middle" >400</text><line x1="199.8" y1="685.9" x2="199.8" y2="687.6" stroke="#1a1a1a" stroke-width="1.7"/><line x1="225.3" y1="685.9" x2="225.3" y2="689.5" stroke="#1a1a1a" stroke-width="1.9"/><text x="225.3" y="701.7" font-size="13.0" font-weight="normal" fill="#4d4d4d" text-anchor="middle" >500</text><line x1="250.8" y1="685.9" x2="250.8" y2="687.6" stroke="#1a1a1a" stroke-width="1.7"/><line x1="276.4" y1="685.9" x2="276.4" y2="689.5" stroke="#1a1a1a" stroke-width="1.9"/><text x="276.4" y="701.7" font-size="13.0" font-weight="normal" fill="#4d4d4d" text-anchor="middle" >600</text>
<text x="147.2" y="729.3" font-size="17.5" font-weight="normal" fill="#111" text-anchor="middle" >Raman shift (cm<tspan font-size="11" dy="-6.5">-1</tspan><tspan dy="6.5" font-size="17.5">)</tspan></text>
<text transform="translate(10.2,582) rotate(-90)" font-size="17.3" fill="#111" text-anchor="middle">Intensity (a.u.)</text>
<text x="-20.65" y="502.0" font-size="31" font-weight="bold" fill="#000" text-anchor="start" >(h)</text>
<text x="236.8" y="500.2" font-size="17.4" font-weight="bold" fill="#000" text-anchor="start" >WS<tspan font-size="11.5" dy="3.2">2</tspan></text>
<text x="24.3" y="563.2" font-size="17.4" font-weight="bold" fill="#e01b1b" text-anchor="start" >Space</text>
<text x="28.6" y="658" font-size="17.4" font-weight="bold" fill="#111" text-anchor="start" >Earth</text>
</g><g id="cj">
<rect x="318.3" y="478.7" width="254.2" height="204.40000000000003" fill="#fff" stroke="#1a1a1a" stroke-width="2.4"/>
<polyline points="318.3,576.9 318.8,577.5 319.3,576.8 319.8,577.2 320.3,576.7 320.8,576.8 321.4,577.4 321.9,576.7 322.4,577.1 322.9,576.9 323.4,576.8 323.9,576.8 324.4,576.6 324.9,577.0 325.4,576.4 325.9,576.5 326.4,576.3 326.9,576.4 327.5,576.5 328.0,576.8 328.5,576.4 329.0,576.1 329.5,576.2 330.0,576.7 330.5,575.9 331.0,576.3 331.5,576.0 332.0,576.2 332.5,575.9 333.0,576.1 333.6,576.0 334.1,576.0 334.6,576.2 335.1,575.9 335.6,575.6 336.1,575.5 336.6,576.2 337.1,575.8 337.6,575.6 338.1,576.3 338.6,576.0 339.1,576.1 339.7,576.3 340.2,575.9 340.7,576.0 341.2,576.4 341.7,575.9 342.2,576.4 342.7,576.0 343.2,576.5 343.7,576.5 344.2,576.8 344.7,576.7 345.2,576.5 345.8,576.3 346.3,576.3 346.8,576.6 347.3,576.6 347.8,576.3 348.3,577.0 348.8,576.7 349.3,576.9 349.8,576.5 350.3,576.6 350.8,576.4 351.3,576.7 351.9,576.6 352.4,576.8 352.9,576.7 353.4,577.1 353.9,577.2 354.4,576.6 354.9,576.8 355.4,576.6 355.9,577.0 356.4,577.2 356.9,576.6 357.4,577.1 358.0,576.7 358.5,576.5 359.0,577.1 359.5,576.7 360.0,576.6 360.5,576.8 361.0,576.6 361.5,576.7 362.0,576.7 362.5,576.7 363.0,576.8 363.5,576.5 364.1,576.4 364.6,576.3 365.1,576.3 365.6,576.6 366.1,576.5 366.6,576.8 367.1,576.5 367.6,576.6 368.1,576.8 368.6,576.0 369.1,575.9 369.6,576.0 370.2,576.1 370.7,576.2 371.2,576.3 371.7,575.9 372.2,576.4 372.7,575.5 373.2,576.1 373.7,575.5 374.2,576.0 374.7,575.3 375.2,575.9 375.7,575.7 376.3,575.8 376.8,575.4 377.3,575.0 377.8,575.6 378.3,575.1 378.8,574.7 379.3,575.1 379.8,574.9 380.3,574.8 380.8,574.5 381.3,574.4 381.9,574.7 382.4,574.5 382.9,574.1 383.4,574.2 383.9,574.3 384.4,574.2 384.9,573.8 385.4,573.4 385.9,573.1 386.4,572.6 386.9,572.2 387.4,571.8 388.0,570.8 388.5,570.4 389.0,569.2 389.5,567.6 390.0,565.1 390.5,562.5 391.0,558.5 391.5,552.1 392.0,543.5 392.5,529.1 393.0,509.0 393.5,490.7 394.1,490.2 394.6,508.4 395.1,528.3 395.6,542.5 396.1,551.4 396.6,556.6 397.1,560.7 397.6,563.1 398.1,564.1 398.6,564.6 399.1,564.7 399.6,564.5 400.2,565.9 400.7,567.9 401.2,570.0 401.7,570.9 402.2,572.5 402.7,573.3 403.2,573.6 403.7,574.2 404.2,574.9 404.7,575.1 405.2,575.0 405.7,575.6 406.3,575.3 406.8,575.6 407.3,576.2 407.8,576.3 408.3,576.0 408.8,576.0 409.3,576.4 409.8,576.6 410.3,576.6 410.8,576.9 411.3,576.8 411.8,576.9 412.4,576.8 412.9,576.6 413.4,576.7 413.9,576.8 414.4,576.9 414.9,577.1 415.4,576.7 415.9,576.6 416.4,577.1 416.9,576.8 417.4,576.9 417.9,576.7 418.5,577.3 419.0,576.9 419.5,576.9 420.0,577.3 420.5,577.1 421.0,577.0 421.5,577.5 422.0,577.1 422.5,577.1 423.0,577.6 423.5,577.4 424.0,577.4 424.6,577.0 425.1,577.5 425.6,577.3 426.1,577.5 426.6,577.2 427.1,577.5 427.6,577.5 428.1,577.2 428.6,577.4 429.1,577.5 429.6,577.7 430.1,577.6 430.7,577.5 431.2,577.0 431.7,577.4 432.2,577.5 432.7,577.0 433.2,577.3 433.7,577.6 434.2,577.7 434.7,577.7 435.2,577.0 435.7,577.4 436.2,577.6 436.8,577.5 437.3,577.2 437.8,577.0 438.3,577.7 438.8,577.7 439.3,577.5 439.8,577.3 440.3,577.6 440.8,577.6 441.3,577.6 441.8,577.5 442.3,577.2 442.9,577.2 443.4,577.3 443.9,577.2 444.4,577.4 444.9,577.1 445.4,577.5 445.9,577.2 446.4,577.1 446.9,577.2 447.4,577.3 447.9,577.3 448.5,577.6 449.0,577.0 449.5,577.1 450.0,577.1 450.5,577.0 451.0,577.5 451.5,576.9 452.0,576.8 452.5,577.2 453.0,577.3 453.5,577.3 454.0,577.1 454.6,576.8 455.1,577.1 455.6,576.9 456.1,576.5 456.6,576.4 457.1,576.6 457.6,576.5 458.1,576.4 458.6,575.7 459.1,576.0 459.6,576.2 460.1,576.2 460.7,576.8 461.2,576.3 461.7,577.0 462.2,576.8 462.7,576.8 463.2,576.6 463.7,577.0 464.2,576.6 464.7,576.7 465.2,576.6 465.7,576.2 466.2,576.3 466.8,575.6 467.3,575.3 467.8,575.6 468.3,575.3 468.8,575.1 469.3,575.6 469.8,575.7 470.3,575.6 470.8,576.4 471.3,576.4 471.8,576.9 472.3,576.7 472.9,577.1 473.4,576.7 473.9,576.7 474.4,577.1 474.9,577.3 475.4,577.4 475.9,577.3 476.4,576.9 476.9,577.2 477.4,576.9 477.9,577.2 478.4,577.7 479.0,577.2 479.5,577.5 480.0,577.5 480.5,577.1 481.0,577.5 481.5,577.0 482.0,577.1 482.5,577.5 483.0,577.1 483.5,577.8 484.0,577.4 484.5,577.5 485.1,577.8 485.6,577.1 486.1,577.8 486.6,577.1 487.1,577.5 487.6,577.6 488.1,577.8 488.6,577.3 489.1,577.8 489.6,577.6 490.1,577.4 490.6,577.2 491.2,577.2 491.7,577.4 492.2,577.3 492.7,577.4 493.2,577.7 493.7,577.4 494.2,577.6 494.7,577.1 495.2,577.2 495.7,577.6 496.2,577.8 496.7,577.3 497.3,577.1 497.8,577.2 498.3,577.3 498.8,577.3 499.3,577.5 499.8,577.3 500.3,577.6 500.8,577.7 501.3,577.7 501.8,577.6 502.3,577.5 502.8,577.2 503.4,577.7 503.9,577.3 504.4,577.7 504.9,577.4 505.4,577.5 505.9,577.4 506.4,577.5 506.9,577.3 507.4,577.5 507.9,577.6 508.4,577.3 509.0,577.5 509.5,577.3 510.0,577.4 510.5,577.3 511.0,577.4 511.5,577.5 512.0,577.1 512.5,577.0 513.0,577.6 513.5,577.0 514.0,577.5 514.5,577.5 515.1,577.0 515.6,577.3 516.1,577.0 516.6,577.5 517.1,576.9 517.6,576.8 518.1,576.7 518.6,577.3 519.1,576.8 519.6,576.9 520.1,577.3 520.6,577.1 521.2,577.0 521.7,576.8 522.2,576.8 522.7,576.2 523.2,576.7 523.7,576.2 524.2,576.5 524.7,576.0 525.2,576.1 525.7,575.1 526.2,575.6 526.7,574.5 527.3,574.3 527.8,573.6 528.3,573.1 528.8,571.8 529.3,570.6 529.8,568.7 530.3,566.1 530.8,563.5 531.3,561.6 531.8,561.2 532.3,562.2 532.8,563.9 533.4,566.0 533.9,568.4 534.4,570.3 534.9,571.4 535.4,572.9 535.9,573.4 536.4,573.9 536.9,574.4 537.4,575.2 537.9,575.7 538.4,575.6 538.9,575.9 539.5,576.4 540.0,576.2 540.5,576.5 541.0,576.7 541.5,576.6 542.0,576.5 542.5,577.0 543.0,577.1 543.5,576.7 544.0,577.3 544.5,577.2 545.0,577.4 545.6,577.4 546.1,577.2 546.6,577.4 547.1,577.1 547.6,577.4 548.1,576.9 548.6,577.2 549.1,577.3 549.6,577.6 550.1,577.5 550.6,577.7 551.1,577.6 551.7,577.7 552.2,577.5 552.7,577.5 553.2,577.4 553.7,577.2 554.2,577.6 554.7,577.5 555.2,577.2 555.7,577.2 556.2,577.2 556.7,577.6 557.2,577.5 557.8,577.2 558.3,577.6 558.8,577.5 559.3,577.3 559.8,577.4 560.3,577.9 560.8,577.2 561.3,577.3 561.8,577.6 562.3,577.8 562.8,577.8 563.3,577.4 563.9,577.7 564.4,577.2 564.9,577.4 565.4,577.8 565.9,577.6 566.4,577.5 566.9,577.6 567.4,577.5 567.9,577.6 568.4,577.8 568.9,577.9 569.4,577.3 570.0,577.7 570.5,577.9 571.0,577.6 571.5,577.5 572.0,577.4 572.5,577.5" fill="none" stroke="#e23a3a" stroke-width="1.6" stroke-linejoin="round" stroke-linecap="round"/>
<polyline points="318.3,672.9 318.8,672.8 319.3,672.6 319.8,673.2 320.3,672.5 320.8,672.8 321.4,673.1 321.9,672.4 322.4,672.8 322.9,672.8 323.4,672.3 323.9,672.5 324.4,672.7 324.9,672.5 325.4,672.6 325.9,672.1 326.4,672.1 326.9,672.0 327.5,672.2 328.0,672.5 328.5,672.1 329.0,672.2 329.5,671.8 330.0,672.0 330.5,671.5 331.0,671.5 331.5,671.8 332.0,671.7 332.5,671.4 333.0,671.1 333.6,671.2 334.1,671.1 334.6,671.1 335.1,671.5 335.6,671.0 336.1,671.5 336.6,671.5 337.1,670.9 337.6,671.2 338.1,671.3 338.6,671.0 339.1,671.3 339.7,671.8 340.2,671.2 340.7,671.6 341.2,671.3 341.7,671.8 342.2,672.1 342.7,671.6 343.2,671.5 343.7,671.6 344.2,672.1 344.7,671.7 345.2,671.8 345.8,672.2 346.3,672.6 346.8,672.2 347.3,672.2 347.8,672.5 348.3,672.1 348.8,672.5 349.3,672.2 349.8,672.6 350.3,672.9 350.8,672.2 351.3,672.6 351.9,672.7 352.4,672.3 352.9,672.4 353.4,673.0 353.9,673.1 354.4,672.4 354.9,672.8 355.4,673.0 355.9,672.5 356.4,672.8 356.9,672.3 357.4,672.6 358.0,672.8 358.5,672.8 359.0,672.9 359.5,672.3 360.0,672.5 360.5,672.9 361.0,672.7 361.5,672.6 362.0,672.5 362.5,673.0 363.0,672.6 363.5,672.2 364.1,672.8 364.6,672.4 365.1,672.4 365.6,672.2 366.1,672.4 366.6,672.2 367.1,672.0 367.6,672.4 368.1,671.9 368.6,672.4 369.1,671.8 369.6,672.3 370.2,672.3 370.7,672.0 371.2,672.1 371.7,671.6 372.2,671.9 372.7,671.6 373.2,671.4 373.7,671.9 374.2,671.4 374.7,671.3 375.2,671.6 375.7,671.1 376.3,671.2 376.8,670.8 377.3,671.2 377.8,670.7 378.3,670.5 378.8,671.1 379.3,670.4 379.8,671.0 380.3,671.0 380.8,670.6 381.3,670.1 381.9,670.0 382.4,670.1 382.9,670.2 383.4,670.3 383.9,670.4 384.4,669.8 384.9,669.5 385.4,669.6 385.9,669.1 386.4,668.8 386.9,668.8 387.4,668.5 388.0,667.5 388.5,667.1 389.0,666.5 389.5,665.5 390.0,663.8 390.5,662.4 391.0,659.3 391.5,656.2 392.0,651.3 392.5,643.9 393.0,632.3 393.5,615.8 394.1,597.0 394.6,587.8 395.1,596.8 395.6,615.6 396.1,631.0 396.6,642.5 397.1,649.1 397.6,653.4 398.1,656.2 398.6,657.9 399.1,658.4 399.6,658.4 400.2,658.7 400.7,660.5 401.2,662.9 401.7,664.6 402.2,666.6 402.7,667.1 403.2,668.8 403.7,669.5 404.2,669.8 404.7,670.2 405.2,670.6 405.7,671.2 406.3,670.8 406.8,671.4 407.3,671.5 407.8,671.5 408.3,672.0 408.8,672.1 409.3,671.7 409.8,672.3 410.3,672.2 410.8,672.3 411.3,672.5 411.8,672.1 412.4,672.6 412.9,672.5 413.4,672.9 413.9,672.5 414.4,673.0 414.9,672.9 415.4,672.9 415.9,673.1 416.4,672.5 416.9,673.0 417.4,673.0 417.9,673.1 418.5,672.9 419.0,672.6 419.5,672.8 420.0,673.1 420.5,672.8 421.0,672.7 421.5,673.0 422.0,673.1 422.5,673.1 423.0,672.8 423.5,673.4 424.0,673.0 424.6,673.4 425.1,672.8 425.6,673.6 426.1,673.3 426.6,673.6 427.1,673.6 427.6,673.5 428.1,672.9 428.6,673.1 429.1,673.0 429.6,673.5 430.1,673.0 430.7,673.1 431.2,673.0 431.7,673.0 432.2,673.6 432.7,673.7 433.2,673.2 433.7,673.5 434.2,673.3 434.7,673.3 435.2,673.2 435.7,673.4 436.2,673.1 436.8,673.1 437.3,673.4 437.8,673.1 438.3,673.3 438.8,673.7 439.3,673.0 439.8,673.0 440.3,673.6 440.8,673.0 441.3,673.2 441.8,673.6 442.3,673.4 442.9,673.1 443.4,673.0 443.9,673.2 444.4,673.2 444.9,673.6 445.4,673.7 445.9,673.6 446.4,673.7 446.9,673.7 447.4,673.6 447.9,673.7 448.5,673.7 449.0,673.0 449.5,673.2 450.0,673.1 450.5,673.4 451.0,673.2 451.5,673.1 452.0,673.5 452.5,673.1 453.0,672.9 453.5,672.9 454.0,673.0 454.6,673.0 455.1,672.9 455.6,672.7 456.1,672.3 456.6,672.3 457.1,672.1 457.6,671.8 458.1,672.1 458.6,671.8 459.1,672.4 459.6,672.5 460.1,672.2 460.7,672.7 461.2,672.6 461.7,672.7 462.2,672.9 462.7,673.0 463.2,673.1 463.7,673.0 464.2,672.5 464.7,672.7 465.2,672.5 465.7,672.1 466.2,672.4 466.8,672.2 467.3,672.3 467.8,671.7 468.3,671.9 468.8,671.5 469.3,671.1 469.8,671.7 470.3,671.5 470.8,671.9 471.3,671.7 471.8,671.9 472.3,672.8 472.9,672.3 473.4,672.5 473.9,672.6 474.4,672.6 474.9,673.3 475.4,673.5 475.9,673.2 476.4,673.1 476.9,673.5 477.4,673.2 477.9,673.0 478.4,673.4 479.0,673.2 479.5,673.1 480.0,673.2 480.5,673.3 481.0,673.1 481.5,673.5 482.0,673.7 482.5,673.4 483.0,673.0 483.5,673.6 484.0,673.0 484.5,673.4 485.1,673.7 485.6,673.6 486.1,673.8 486.6,673.6 487.1,673.3 487.6,673.2 488.1,673.4 488.6,673.6 489.1,673.2 489.6,673.3 490.1,673.7 490.6,673.3 491.2,673.5 491.7,673.5 492.2,673.8 492.7,673.1 493.2,673.2 493.7,673.7 494.2,673.6 494.7,673.1 495.2,673.2 495.7,673.2 496.2,673.5 496.7,673.8 497.3,673.2 497.8,673.2 498.3,673.6 498.8,673.4 499.3,673.7 499.8,673.9 500.3,673.8 500.8,673.6 501.3,673.4 501.8,673.1 502.3,673.7 502.8,673.4 503.4,673.4 503.9,673.5 504.4,673.8 504.9,673.5 505.4,673.8 505.9,673.8 506.4,673.1 506.9,673.3 507.4,673.7 507.9,673.6 508.4,673.8 509.0,673.1 509.5,673.4 510.0,673.7 510.5,673.4 511.0,673.5 511.5,673.7 512.0,673.1 512.5,673.0 513.0,673.6 513.5,673.4 514.0,673.1 514.5,673.6 515.1,673.1 515.6,673.0 516.1,673.1 516.6,672.9 517.1,673.1 517.6,673.4 518.1,673.1 518.6,673.5 519.1,672.7 519.6,672.8 520.1,672.7 520.6,673.0 521.2,672.7 521.7,673.0 522.2,672.8 522.7,672.8 523.2,672.9 523.7,672.8 524.2,672.8 524.7,672.0 525.2,672.0 525.7,672.3 526.2,671.6 526.7,671.2 527.3,670.9 527.8,670.2 528.3,670.1 528.8,669.1 529.3,667.7 529.8,667.0 530.3,664.9 530.8,662.6 531.3,660.7 531.8,659.2 532.3,657.9 532.8,658.4 533.4,660.4 533.9,662.5 534.4,664.9 534.9,666.5 535.4,668.3 535.9,668.8 536.4,669.5 536.9,670.4 537.4,670.7 537.9,671.2 538.4,671.4 538.9,671.7 539.5,672.2 540.0,672.6 540.5,672.3 541.0,672.7 541.5,672.5 542.0,673.1 542.5,672.9 543.0,672.5 543.5,673.1 544.0,672.8 544.5,672.7 545.0,672.7 545.6,673.4 546.1,673.3 546.6,673.1 547.1,673.3 547.6,673.4 548.1,672.9 548.6,673.4 549.1,673.5 549.6,673.7 550.1,673.0 550.6,673.4 551.1,673.4 551.7,673.6 552.2,673.3 552.7,673.5 553.2,673.7 553.7,673.3 554.2,673.4 554.7,673.7 555.2,673.0 555.7,673.8 556.2,673.3 556.7,673.4 557.2,673.3 557.8,673.7 558.3,673.5 558.8,673.7 559.3,673.1 559.8,673.8 560.3,673.7 560.8,673.6 561.3,673.3 561.8,673.3 562.3,673.5 562.8,673.1 563.3,673.9 563.9,673.4 564.4,673.9 564.9,673.2 565.4,673.6 565.9,673.7 566.4,673.6 566.9,673.5 567.4,673.1 567.9,673.5 568.4,673.4 568.9,673.9 569.4,673.9 570.0,673.9 570.5,673.9 571.0,673.3 571.5,673.2 572.0,673.4 572.5,673.1" fill="none" stroke="#4a4a4a" stroke-width="1.6" stroke-linejoin="round" stroke-linecap="round"/>
<rect x="318.3" y="478.7" width="254.2" height="204.40000000000003" fill="none" stroke="#1a1a1a" stroke-width="2.4"/>
<line x1="318.3" y1="684.1" x2="318.3" y2="687.7" stroke="#1a1a1a" stroke-width="1.9"/><text x="318.3" y="699.9" font-size="13.0" font-weight="normal" fill="#4d4d4d" text-anchor="middle" >100</text><line x1="343.7" y1="684.1" x2="343.7" y2="685.8" stroke="#1a1a1a" stroke-width="1.7"/><line x1="369.1" y1="684.1" x2="369.1" y2="687.7" stroke="#1a1a1a" stroke-width="1.9"/><text x="369.1" y="699.9" font-size="13.0" font-weight="normal" fill="#4d4d4d" text-anchor="middle" >200</text><line x1="394.6" y1="684.1" x2="394.6" y2="685.8" stroke="#1a1a1a" stroke-width="1.7"/><line x1="420.0" y1="684.1" x2="420.0" y2="687.7" stroke="#1a1a1a" stroke-width="1.9"/><text x="420.0" y="699.9" font-size="13.0" font-weight="normal" fill="#4d4d4d" text-anchor="middle" >300</text><line x1="445.4" y1="684.1" x2="445.4" y2="685.8" stroke="#1a1a1a" stroke-width="1.7"/><line x1="470.8" y1="684.1" x2="470.8" y2="687.7" stroke="#1a1a1a" stroke-width="1.9"/><text x="470.8" y="699.9" font-size="13.0" font-weight="normal" fill="#4d4d4d" text-anchor="middle" >400</text><line x1="496.2" y1="684.1" x2="496.2" y2="685.8" stroke="#1a1a1a" stroke-width="1.7"/><line x1="521.7" y1="684.1" x2="521.7" y2="687.7" stroke="#1a1a1a" stroke-width="1.9"/><text x="521.7" y="699.9" font-size="13.0" font-weight="normal" fill="#4d4d4d" text-anchor="middle" >500</text><line x1="547.1" y1="684.1" x2="547.1" y2="685.8" stroke="#1a1a1a" stroke-width="1.7"/><line x1="572.5" y1="684.1" x2="572.5" y2="687.7" stroke="#1a1a1a" stroke-width="1.9"/><text x="572.5" y="699.9" font-size="13.0" font-weight="normal" fill="#4d4d4d" text-anchor="middle" >600</text>
<text x="444.2" y="728.2" font-size="17.5" font-weight="normal" fill="#111" text-anchor="middle" >Raman shift (cm<tspan font-size="11" dy="-6.5">-1</tspan><tspan dy="6.5" font-size="17.5">)</tspan></text>
<text transform="translate(308.8,581) rotate(-90)" font-size="17.3" fill="#111" text-anchor="middle">Intensity (a.u.)</text>
<text x="282.75" y="501.7" font-size="31" font-weight="bold" fill="#000" text-anchor="start" >(j)</text>
<text x="525.7" y="500.2" font-size="17.4" font-weight="bold" fill="#000" text-anchor="start" >WSe<tspan font-size="11.5" dy="3.2">2</tspan></text>
<text x="322" y="566.1" font-size="17.4" font-weight="bold" fill="#e01b1b" text-anchor="start" >Space</text>
<text x="323.7" y="664.5" font-size="17.4" font-weight="bold" fill="#111" text-anchor="start" >Earth</text>
</g><g id="cl">
<rect x="611.7" y="479.8" width="255.5999999999999" height="205.09999999999997" fill="#fff" stroke="#1a1a1a" stroke-width="2.4"/>
<polyline points="611.7,568.2 612.6,568.3 613.4,567.9 614.3,568.0 615.1,568.5 616.0,568.6 616.8,568.7 617.7,568.6 618.5,569.0 619.4,569.1 620.2,569.3 621.1,569.3 621.9,569.6 622.8,569.8 623.6,570.2 624.5,570.5 625.3,570.7 626.2,570.7 627.0,570.9 627.9,571.0 628.7,571.1 629.6,571.2 630.4,571.7 631.3,571.8 632.1,572.0 633.0,572.4 633.9,572.4 634.7,572.5 635.6,572.5 636.4,572.6 637.3,572.8 638.1,572.9 639.0,573.2 639.8,573.5 640.7,573.4 641.5,573.3 642.4,573.7 643.2,573.7 644.1,573.7 644.9,573.9 645.8,573.8 646.6,573.9 647.5,573.7 648.3,574.0 649.2,574.0 650.0,573.6 650.9,573.9 651.7,573.9 652.6,573.8 653.4,573.8 654.3,573.8 655.2,574.0 656.0,573.7 656.9,573.9 657.7,573.6 658.6,573.8 659.4,573.8 660.3,573.5 661.1,573.5 662.0,573.7 662.8,573.5 663.7,573.3 664.5,573.1 665.4,573.1 666.2,573.2 667.1,572.9 667.9,573.2 668.8,572.8 669.6,573.0 670.5,572.6 671.3,572.8 672.2,572.6 673.0,572.4 673.9,572.3 674.7,572.2 675.6,572.0 676.5,571.7 677.3,571.5 678.2,571.5 679.0,571.5 679.9,571.2 680.7,570.7 681.6,570.8 682.4,570.5 683.3,570.3 684.1,569.6 685.0,569.5 685.8,568.8 686.7,568.7 687.5,568.0 688.4,567.5 689.2,567.2 690.1,566.2 690.9,565.7 691.8,565.1 692.6,564.0 693.5,563.0 694.3,562.4 695.2,561.0 696.0,559.9 696.9,558.3 697.8,557.0 698.6,555.3 699.5,553.9 700.3,551.8 701.2,550.2 702.0,547.7 702.9,545.8 703.7,543.0 704.6,540.6 705.4,538.3 706.3,535.2 707.1,532.3 708.0,529.6 708.8,526.4 709.7,523.0 710.5,520.3 711.4,516.7 712.2,513.4 713.1,510.4 713.9,507.5 714.8,504.6 715.6,501.5 716.5,499.1 717.3,496.8 718.2,495.1 719.1,493.8 719.9,492.7 720.8,492.2 721.6,492.0 722.5,492.4 723.3,493.0 724.2,494.0 725.0,495.4 725.9,497.4 726.7,499.3 727.6,501.5 728.4,504.1 729.3,507.0 730.1,509.3 731.0,512.4 731.8,515.1 732.7,518.0 733.5,520.5 734.4,523.7 735.2,526.0 736.1,528.8 736.9,531.2 737.8,533.4 738.6,536.0 739.5,538.0 740.4,540.0 741.2,542.0 742.1,544.0 742.9,545.7 743.8,547.7 744.6,549.2 745.5,551.0 746.3,552.4 747.2,553.7 748.0,554.6 748.9,555.9 749.7,556.9 750.6,558.1 751.4,559.1 752.3,560.1 753.1,560.9 754.0,561.5 754.8,562.4 755.7,563.1 756.5,563.5 757.4,564.2 758.2,564.9 759.1,565.3 759.9,566.2 760.8,566.4 761.7,566.8 762.5,567.3 763.4,567.7 764.2,568.1 765.1,568.6 765.9,568.9 766.8,569.2 767.6,569.7 768.5,569.8 769.3,570.4 770.2,570.7 771.0,570.8 771.9,570.9 772.7,571.2 773.6,571.5 774.4,571.4 775.3,571.8 776.1,572.1 777.0,572.1 777.8,572.3 778.7,572.8 779.5,572.7 780.4,573.0 781.2,573.3 782.1,573.3 783.0,573.3 783.8,573.8 784.7,573.7 785.5,573.6 786.4,574.1 787.2,573.9 788.1,574.1 788.9,574.5 789.8,574.6 790.6,574.3 791.5,574.7 792.3,574.8 793.2,574.9 794.0,574.9 794.9,575.1 795.7,575.0 796.6,575.2 797.4,575.3 798.3,575.7 799.1,575.3 800.0,575.8 800.8,575.6 801.7,575.8 802.5,575.8 803.4,575.9 804.3,576.1 805.1,576.0 806.0,576.0 806.8,576.0 807.7,576.1 808.5,576.5 809.4,576.5 810.2,576.7 811.1,576.7 811.9,576.4 812.8,576.8 813.6,576.9 814.5,576.9 815.3,576.9 816.2,576.8 817.0,576.9 817.9,577.2 818.7,577.0 819.6,577.1 820.4,577.2 821.3,577.4 822.1,577.4 823.0,577.5 823.8,577.5 824.7,577.3 825.6,577.3 826.4,577.5 827.3,577.4 828.1,577.6 829.0,577.7 829.8,577.9 830.7,577.8 831.5,577.9 832.4,577.6 833.2,577.8 834.1,578.1 834.9,577.7 835.8,577.9 836.6,577.8 837.5,577.8 838.3,578.3 839.2,578.4 840.0,578.2 840.9,578.0 841.7,578.1 842.6,578.1 843.4,578.4 844.3,578.4 845.1,578.3 846.0,578.4 846.9,578.2 847.7,578.5 848.6,578.7 849.4,578.7 850.3,578.4 851.1,578.6 852.0,578.7 852.8,578.5 853.7,578.9 854.5,578.7 855.4,578.8 856.2,578.7 857.1,579.0 857.9,579.0 858.8,578.9 859.6,578.7 860.5,578.9 861.3,578.7 862.2,579.0 863.0,579.2 863.9,578.9 864.7,579.1 865.6,579.1 866.4,579.1 867.3,579.2" fill="none" stroke="#e23a3a" stroke-width="1.8" stroke-linejoin="round" stroke-linecap="round"/>
<polyline points="611.7,674.7 612.6,674.6 613.4,674.7 614.3,674.6 615.1,674.5 616.0,674.7 616.8,674.9 617.7,674.9 618.5,674.8 619.4,674.5 620.2,674.7 621.1,674.5 621.9,674.5 622.8,674.4 623.6,674.5 624.5,674.8 625.3,674.7 626.2,674.7 627.0,674.7 627.9,674.4 628.7,674.4 629.6,674.5 630.4,674.6 631.3,674.6 632.1,674.6 633.0,674.2 633.9,674.4 634.7,674.4 635.6,674.3 636.4,674.1 637.3,674.3 638.1,674.1 639.0,674.5 639.8,674.4 640.7,674.2 641.5,674.1 642.4,674.3 643.2,674.1 644.1,674.3 644.9,674.2 645.8,674.0 646.6,673.9 647.5,674.0 648.3,673.9 649.2,673.7 650.0,673.7 650.9,673.9 651.7,673.5 652.6,673.5 653.4,673.7 654.3,673.5 655.2,673.6 656.0,673.5 656.9,673.4 657.7,673.7 658.6,673.2 659.4,673.3 660.3,673.1 661.1,673.3 662.0,673.0 662.8,673.0 663.7,673.1 664.5,672.9 665.4,672.9 666.2,673.0 667.1,672.5 667.9,672.4 668.8,672.4 669.6,672.6 670.5,672.4 671.3,672.2 672.2,672.1 673.0,671.9 673.9,672.0 674.7,671.6 675.6,671.8 676.5,671.8 677.3,671.7 678.2,671.5 679.0,671.4 679.9,670.8 680.7,670.8 681.6,670.9 682.4,670.6 683.3,670.3 684.1,670.3 685.0,669.9 685.8,669.7 686.7,669.2 687.5,668.9 688.4,668.7 689.2,668.1 690.1,667.9 690.9,667.7 691.8,667.0 692.6,666.3 693.5,665.7 694.3,665.2 695.2,664.8 696.0,663.8 696.9,662.9 697.8,661.9 698.6,661.3 699.5,660.0 700.3,658.6 701.2,657.2 702.0,655.8 702.9,654.3 703.7,652.9 704.6,650.8 705.4,648.8 706.3,646.9 707.1,644.5 708.0,642.5 708.8,639.6 709.7,637.1 710.5,634.4 711.4,631.3 712.2,628.6 713.1,625.2 713.9,621.8 714.8,618.6 715.6,615.1 716.5,611.9 717.3,608.5 718.2,605.6 719.1,602.4 719.9,599.2 720.8,596.2 721.6,593.8 722.5,591.6 723.3,589.8 724.2,588.4 725.0,587.8 725.9,587.0 726.7,587.0 727.6,587.9 728.4,588.6 729.3,590.1 730.1,591.4 731.0,593.6 731.8,595.7 732.7,598.2 733.5,600.8 734.4,603.4 735.2,606.0 736.1,609.0 736.9,612.2 737.8,615.1 738.6,618.0 739.5,620.5 740.4,623.3 741.2,626.1 742.1,628.5 742.9,631.0 743.8,633.2 744.6,635.5 745.5,637.6 746.3,639.4 747.2,641.7 748.0,643.5 748.9,644.8 749.7,646.8 750.6,648.3 751.4,649.6 752.3,650.6 753.1,652.3 754.0,653.1 754.8,654.6 755.7,655.5 756.5,656.2 757.4,657.2 758.2,658.2 759.1,659.0 759.9,659.8 760.8,660.6 761.7,660.9 762.5,661.5 763.4,662.5 764.2,662.6 765.1,663.5 765.9,663.6 766.8,664.4 767.6,664.8 768.5,665.3 769.3,665.5 770.2,666.0 771.0,666.0 771.9,666.6 772.7,666.7 773.6,667.3 774.4,667.5 775.3,667.6 776.1,667.9 777.0,667.9 777.8,668.1 778.7,668.6 779.5,668.7 780.4,669.1 781.2,669.2 782.1,669.1 783.0,669.4 783.8,669.8 784.7,669.8 785.5,669.7 786.4,670.3 787.2,670.4 788.1,670.2 788.9,670.5 789.8,670.6 790.6,670.9 791.5,670.8 792.3,670.9 793.2,671.1 794.0,671.4 794.9,671.1 795.7,671.2 796.6,671.6 797.4,671.8 798.3,671.7 799.1,671.7 800.0,672.0 800.8,672.1 801.7,671.8 802.5,672.3 803.4,672.0 804.3,672.1 805.1,672.5 806.0,672.3 806.8,672.6 807.7,672.3 808.5,672.8 809.4,672.5 810.2,672.5 811.1,672.7 811.9,672.7 812.8,672.9 813.6,673.1 814.5,673.1 815.3,672.8 816.2,673.0 817.0,673.1 817.9,673.1 818.7,673.3 819.6,673.2 820.4,673.1 821.3,673.2 822.1,673.5 823.0,673.3 823.8,673.6 824.7,673.7 825.6,673.6 826.4,673.6 827.3,673.6 828.1,673.5 829.0,673.8 829.8,673.6 830.7,673.9 831.5,673.6 832.4,673.9 833.2,673.9 834.1,673.9 834.9,673.8 835.8,673.7 836.6,674.0 837.5,673.8 838.3,674.0 839.2,673.8 840.0,673.8 840.9,673.8 841.7,674.2 842.6,673.9 843.4,674.3 844.3,674.0 845.1,674.2 846.0,674.1 846.9,674.2 847.7,674.0 848.6,674.1 849.4,674.4 850.3,674.1 851.1,674.3 852.0,674.2 852.8,674.2 853.7,674.1 854.5,674.1 855.4,674.6 856.2,674.5 857.1,674.5 857.9,674.5 858.8,674.6 859.6,674.2 860.5,674.5 861.3,674.4 862.2,674.5 863.0,674.7 863.9,674.6 864.7,674.7 865.6,674.3 866.4,674.6 867.3,674.6" fill="none" stroke="#4a4a4a" stroke-width="2.0" stroke-linejoin="round" stroke-linecap="round"/>
<rect x="611.7" y="479.8" width="255.5999999999999" height="205.09999999999997" fill="none" stroke="#1a1a1a" stroke-width="2.4"/>
<line x1="611.7" y1="685.9" x2="611.7" y2="689.5" stroke="#1a1a1a" stroke-width="1.9"/><text x="611.7" y="701.6" font-size="13.0" font-weight="normal" fill="#4d4d4d" text-anchor="middle" >650</text><line x1="637.3" y1="685.9" x2="637.3" y2="687.6" stroke="#1a1a1a" stroke-width="1.7"/><line x1="662.8" y1="685.9" x2="662.8" y2="689.5" stroke="#1a1a1a" stroke-width="1.9"/><text x="662.8" y="701.6" font-size="13.0" font-weight="normal" fill="#4d4d4d" text-anchor="middle" >700</text><line x1="688.4" y1="685.9" x2="688.4" y2="687.6" stroke="#1a1a1a" stroke-width="1.7"/><line x1="713.9" y1="685.9" x2="713.9" y2="689.5" stroke="#1a1a1a" stroke-width="1.9"/><text x="713.9" y="701.6" font-size="13.0" font-weight="normal" fill="#4d4d4d" text-anchor="middle" >750</text><line x1="739.5" y1="685.9" x2="739.5" y2="687.6" stroke="#1a1a1a" stroke-width="1.7"/><line x1="765.1" y1="685.9" x2="765.1" y2="689.5" stroke="#1a1a1a" stroke-width="1.9"/><text x="765.1" y="701.6" font-size="13.0" font-weight="normal" fill="#4d4d4d" text-anchor="middle" >800</text><line x1="790.6" y1="685.9" x2="790.6" y2="687.6" stroke="#1a1a1a" stroke-width="1.7"/><line x1="816.2" y1="685.9" x2="816.2" y2="689.5" stroke="#1a1a1a" stroke-width="1.9"/><text x="816.2" y="701.6" font-size="13.0" font-weight="normal" fill="#4d4d4d" text-anchor="middle" >850</text><line x1="841.7" y1="685.9" x2="841.7" y2="687.6" stroke="#1a1a1a" stroke-width="1.7"/><line x1="867.3" y1="685.9" x2="867.3" y2="689.5" stroke="#1a1a1a" stroke-width="1.9"/><text x="867.3" y="701.6" font-size="13.0" font-weight="normal" fill="#4d4d4d" text-anchor="middle" >900</text>
<text x="739" y="728.4" font-size="17.5" font-weight="normal" fill="#111" text-anchor="middle" >Wavelength (nm)</text>
<text transform="translate(600.8,581.6) rotate(-90)" font-size="17.3" fill="#111" text-anchor="middle">PL intensity (a.u.)</text>
<text x="579.35" y="501.7" font-size="31" font-weight="bold" fill="#000" text-anchor="start" >(l)</text>
<text x="790.5" y="499.4" font-size="17.4" font-weight="bold" fill="#000" text-anchor="start" >Nb-WSe<tspan font-size="11.5" dy="3.2">2</tspan></text>
<text x="618.2" y="563.2" font-size="17.4" font-weight="bold" fill="#e01b1b" text-anchor="start" >Space</text>
<text x="618.8" y="667.8" font-size="17.4" font-weight="bold" fill="#111" text-anchor="start" >Earth</text>
</g><g id="cn">
<rect x="934.2" y="479.2" width="265.79999999999995" height="201.7" fill="#fff" stroke="#1a1a1a" stroke-width="2.4"/>
<polyline points="934.4,493.1 936.4,493.6 939.1,494.2 942.3,495.0 945.7,495.8 949.2,496.6 952.4,497.4 955.4,498.2 958.4,498.9 961.4,499.7 964.4,500.5 967.4,501.3 970.4,502.1 973.5,502.9 976.6,503.8 979.8,504.7 982.8,505.6 985.7,506.4 988.4,507.2 990.7,507.8 992.7,508.3 994.5,508.8 996.3,509.2 998.1,509.8 1000.1,510.5 1002.1,511.4 1004.3,512.4 1006.4,513.5 1008.6,514.7 1010.8,515.8 1013.0,517.0 1015.2,518.1 1017.4,519.3 1019.6,520.4 1021.8,521.6 1024.0,522.8 1026.1,524.1 1028.3,525.4 1030.5,526.7 1032.7,528.1 1034.9,529.5 1037.1,531.1 1039.3,532.7 1041.5,534.5 1043.8,536.5 1046.1,538.6 1048.3,540.6 1050.4,542.7 1052.2,544.5 1053.8,546.1 1055.2,547.6 1056.5,549.0 1057.7,550.4 1058.9,551.9 1060.2,553.6 1061.5,555.5 1062.8,557.5 1064.1,559.7 1065.4,561.9 1066.8,564.2 1068.1,566.7 1069.4,569.3 1070.7,572.0 1071.9,574.8 1073.2,577.7 1074.5,580.7 1075.8,583.7 1077.1,586.9 1078.4,590.2 1079.8,593.6 1081.1,597.0 1082.4,600.2 1083.7,603.3 1085.0,606.2 1086.3,609.0 1087.6,611.6 1088.9,614.2 1090.2,616.7 1091.5,619.0 1092.7,621.2 1094.0,623.2 1095.2,625.1 1096.5,627.0 1097.9,628.9 1099.4,630.8 1101.0,632.8 1102.7,634.7 1104.4,636.6 1106.2,638.6 1108.0,640.5 1109.8,642.5 1111.6,644.4 1113.4,646.4 1115.2,648.3 1116.9,650.3 1118.6,652.3 1120.2,654.3 1121.8,656.6 1123.4,659.1 1124.8,661.6 1126.2,664.0 1127.3,666.0 1128.2,667.4 1132.6,675.0 1137.3,666.0 1142.5,658.2 1143.5,657.8 1144.9,657.3 1146.5,656.6 1148.2,655.9 1150.0,655.3 1151.7,654.8 1153.3,654.4 1154.8,654.1 1156.3,653.8 1157.9,653.5 1159.9,653.3 1162.2,653.0 1164.9,652.7 1168.0,652.5 1171.3,652.3 1174.8,652.1 1178.4,651.9 1181.9,651.7 1185.8,651.6 1190.0,651.5 1194.3,651.4 1198.4,651.3 1201.8,651.2 1204.2,651.2" fill="none" stroke="#4a4a4a" stroke-width="1.6" stroke-linejoin="round" stroke-linecap="round"/>
<polyline points="934.4,547.9 936.4,549.0 939.1,550.6 942.3,552.5 945.7,554.5 949.2,556.6 952.4,558.5 955.4,560.3 958.4,562.1 961.4,563.9 964.4,565.8 967.4,567.6 970.4,569.5 973.5,571.4 976.6,573.4 979.8,575.4 982.8,577.3 985.7,579.2 988.4,581.0 990.7,582.6 992.7,584.1 994.5,585.5 996.3,586.9 998.1,588.5 1000.1,590.2 1002.1,592.1 1004.3,594.2 1006.4,596.4 1008.6,598.7 1010.8,601.0 1013.0,603.3 1015.2,605.6 1017.5,608.0 1019.7,610.3 1022.0,612.8 1024.1,615.2 1026.1,617.7 1028.1,620.2 1029.9,622.8 1031.7,625.4 1033.4,628.0 1035.0,630.7 1036.6,633.4 1038.1,636.4 1039.7,639.6 1041.2,642.9 1042.5,645.9 1043.7,648.5 1044.5,650.4 1051.5,674.2 1060.2,669.5 1061.3,668.9 1062.9,668.0 1064.9,666.9 1066.9,665.8 1068.9,664.9 1070.6,664.2 1071.9,663.8 1073.0,663.6 1074.0,663.6 1075.2,663.5 1076.6,663.4 1078.5,663.2 1080.9,662.8 1083.8,662.2 1086.9,661.6 1090.2,661.0 1093.5,660.5 1096.8,660.0 1100.2,659.6 1103.7,659.3 1107.3,659.1 1110.9,658.8 1114.4,658.7 1117.7,658.5 1121.0,658.4 1124.4,658.3 1127.6,658.2 1130.7,658.1 1133.5,658.1 1135.9,658.2 1137.9,658.3 1139.6,658.6 1141.0,658.8 1142.1,659.1 1143.1,659.3 1143.8,659.5 1150.8,663.9 1156.9,660.0 1157.8,659.6 1158.9,658.9 1160.3,658.2 1161.8,657.4 1163.3,656.8 1164.7,656.4 1166.0,656.2 1167.2,656.3 1168.5,656.4 1169.8,656.6 1171.2,656.8 1172.6,656.9 1173.9,657.0 1175.1,657.2 1176.4,657.3 1177.8,657.5 1179.6,657.6 1181.9,657.7 1185.2,657.8 1189.2,657.8 1193.7,657.8 1198.0,657.8 1201.7,657.8 1204.2,657.8" fill="none" stroke="#e23a3a" stroke-width="1.6" stroke-linejoin="round" stroke-linecap="round"/>
<rect x="934.2" y="479.2" width="265.79999999999995" height="201.7" fill="none" stroke="#1a1a1a" stroke-width="2.4"/>
<line x1="934.4" y1="681.9" x2="934.4" y2="685.5" stroke="#1a1a1a" stroke-width="1.9"/>
<text x="933.4" y="698.0" font-size="13.4" font-weight="normal" fill="#4d4d4d" text-anchor="middle" >-100</text>
<line x1="952.4" y1="681.9" x2="952.4" y2="683.6" stroke="#1a1a1a" stroke-width="1.7"/>
<line x1="970.4" y1="681.9" x2="970.4" y2="685.5" stroke="#1a1a1a" stroke-width="1.9"/>
<text x="969.4" y="698.0" font-size="13.4" font-weight="normal" fill="#4d4d4d" text-anchor="middle" >-80</text>
<line x1="988.4" y1="681.9" x2="988.4" y2="683.6" stroke="#1a1a1a" stroke-width="1.7"/>
<line x1="1006.4" y1="681.9" x2="1006.4" y2="685.5" stroke="#1a1a1a" stroke-width="1.9"/>
<text x="1005.4" y="698.0" font-size="13.4" font-weight="normal" fill="#4d4d4d" text-anchor="middle" >-60</text>
<line x1="1024.3" y1="681.9" x2="1024.3" y2="683.6" stroke="#1a1a1a" stroke-width="1.7"/>
<line x1="1042.3" y1="681.9" x2="1042.3" y2="685.5" stroke="#1a1a1a" stroke-width="1.9"/>
<text x="1041.3" y="698.0" font-size="13.4" font-weight="normal" fill="#4d4d4d" text-anchor="middle" >-40</text>
<line x1="1060.3" y1="681.9" x2="1060.3" y2="683.6" stroke="#1a1a1a" stroke-width="1.7"/>
<line x1="1078.3" y1="681.9" x2="1078.3" y2="685.5" stroke="#1a1a1a" stroke-width="1.9"/>
<text x="1077.3" y="698.0" font-size="13.4" font-weight="normal" fill="#4d4d4d" text-anchor="middle" >-20</text>
<line x1="1096.3" y1="681.9" x2="1096.3" y2="683.6" stroke="#1a1a1a" stroke-width="1.7"/>
<line x1="1114.3" y1="681.9" x2="1114.3" y2="685.5" stroke="#1a1a1a" stroke-width="1.9"/>
<text x="1113.3" y="698.0" font-size="13.4" font-weight="normal" fill="#4d4d4d" text-anchor="middle" >0</text>
<line x1="1132.3" y1="681.9" x2="1132.3" y2="683.6" stroke="#1a1a1a" stroke-width="1.7"/>
<line x1="1150.3" y1="681.9" x2="1150.3" y2="685.5" stroke="#1a1a1a" stroke-width="1.9"/>
<text x="1149.3" y="698.0" font-size="13.4" font-weight="normal" fill="#4d4d4d" text-anchor="middle" >20</text>
<line x1="1168.3" y1="681.9" x2="1168.3" y2="683.6" stroke="#1a1a1a" stroke-width="1.7"/>
<line x1="1186.3" y1="681.9" x2="1186.3" y2="685.5" stroke="#1a1a1a" stroke-width="1.9"/>
<text x="1185.3" y="698.0" font-size="13.4" font-weight="normal" fill="#4d4d4d" text-anchor="middle" >40</text>
<line x1="1204.2" y1="681.9" x2="1204.2" y2="683.6" stroke="#1a1a1a" stroke-width="1.7"/>
<line x1="1222.2" y1="681.9" x2="1222.2" y2="685.5" stroke="#1a1a1a" stroke-width="1.9"/>
<text x="1221.2" y="698.0" font-size="13.4" font-weight="normal" fill="#4d4d4d" text-anchor="middle" >60</text>
<line x1="933.2" y1="680.9" x2="929.8" y2="680.9" stroke="#1a1a1a" stroke-width="1.9"/>
<text x="927.6" y="685.9" font-size="12.6" fill="#4d4d4d" text-anchor="end">10<tspan font-size="8.6" dy="-5.2">-13</tspan></text>
<line x1="933.2" y1="674.1" x2="931.6" y2="674.1" stroke="#1a1a1a" stroke-width="1.0"/>
<line x1="933.2" y1="670.1" x2="931.6" y2="670.1" stroke="#1a1a1a" stroke-width="1.0"/>
<line x1="933.2" y1="667.3" x2="931.6" y2="667.3" stroke="#1a1a1a" stroke-width="1.0"/>
<line x1="933.2" y1="665.1" x2="931.6" y2="665.1" stroke="#1a1a1a" stroke-width="1.0"/>
<line x1="933.2" y1="663.3" x2="931.6" y2="663.3" stroke="#1a1a1a" stroke-width="1.0"/>
<line x1="933.2" y1="661.8" x2="931.6" y2="661.8" stroke="#1a1a1a" stroke-width="1.0"/>
<line x1="933.2" y1="660.5" x2="931.6" y2="660.5" stroke="#1a1a1a" stroke-width="1.0"/>
<line x1="933.2" y1="659.3" x2="931.6" y2="659.3" stroke="#1a1a1a" stroke-width="1.0"/>
<line x1="933.2" y1="658.3" x2="929.8" y2="658.3" stroke="#1a1a1a" stroke-width="1.9"/>
<line x1="933.2" y1="651.5" x2="931.6" y2="651.5" stroke="#1a1a1a" stroke-width="1.0"/>
<line x1="933.2" y1="647.5" x2="931.6" y2="647.5" stroke="#1a1a1a" stroke-width="1.0"/>
<line x1="933.2" y1="644.7" x2="931.6" y2="644.7" stroke="#1a1a1a" stroke-width="1.0"/>
<line x1="933.2" y1="642.5" x2="931.6" y2="642.5" stroke="#1a1a1a" stroke-width="1.0"/>
<line x1="933.2" y1="640.7" x2="931.6" y2="640.7" stroke="#1a1a1a" stroke-width="1.0"/>
<line x1="933.2" y1="639.2" x2="931.6" y2="639.2" stroke="#1a1a1a" stroke-width="1.0"/>
<line x1="933.2" y1="637.9" x2="931.6" y2="637.9" stroke="#1a1a1a" stroke-width="1.0"/>
<line x1="933.2" y1="636.7" x2="931.6" y2="636.7" stroke="#1a1a1a" stroke-width="1.0"/>
<line x1="933.2" y1="635.7" x2="929.8" y2="635.7" stroke="#1a1a1a" stroke-width="1.9"/>
<text x="927.6" y="640.7" font-size="12.6" fill="#4d4d4d" text-anchor="end">10<tspan font-size="8.6" dy="-5.2">-11</tspan></text>
<line x1="933.2" y1="628.9" x2="931.6" y2="628.9" stroke="#1a1a1a" stroke-width="1.0"/>
<line x1="933.2" y1="624.9" x2="931.6" y2="624.9" stroke="#1a1a1a" stroke-width="1.0"/>
<line x1="933.2" y1="622.1" x2="931.6" y2="622.1" stroke="#1a1a1a" stroke-width="1.0"/>
<line x1="933.2" y1="619.9" x2="931.6" y2="619.9" stroke="#1a1a1a" stroke-width="1.0"/>
<line x1="933.2" y1="618.1" x2="931.6" y2="618.1" stroke="#1a1a1a" stroke-width="1.0"/>
<line x1="933.2" y1="616.6" x2="931.6" y2="616.6" stroke="#1a1a1a" stroke-width="1.0"/>
<line x1="933.2" y1="615.3" x2="931.6" y2="615.3" stroke="#1a1a1a" stroke-width="1.0"/>
<line x1="933.2" y1="614.1" x2="931.6" y2="614.1" stroke="#1a1a1a" stroke-width="1.0"/>
<line x1="933.2" y1="613.1" x2="929.8" y2="613.1" stroke="#1a1a1a" stroke-width="1.9"/>
<line x1="933.2" y1="606.3" x2="931.6" y2="606.3" stroke="#1a1a1a" stroke-width="1.0"/>
<line x1="933.2" y1="602.3" x2="931.6" y2="602.3" stroke="#1a1a1a" stroke-width="1.0"/>
<line x1="933.2" y1="599.5" x2="931.6" y2="599.5" stroke="#1a1a1a" stroke-width="1.0"/>
<line x1="933.2" y1="597.3" x2="931.6" y2="597.3" stroke="#1a1a1a" stroke-width="1.0"/>
<line x1="933.2" y1="595.5" x2="931.6" y2="595.5" stroke="#1a1a1a" stroke-width="1.0"/>
<line x1="933.2" y1="594.0" x2="931.6" y2="594.0" stroke="#1a1a1a" stroke-width="1.0"/>
<line x1="933.2" y1="592.7" x2="931.6" y2="592.7" stroke="#1a1a1a" stroke-width="1.0"/>
<line x1="933.2" y1="591.5" x2="931.6" y2="591.5" stroke="#1a1a1a" stroke-width="1.0"/>
<line x1="933.2" y1="590.5" x2="929.8" y2="590.5" stroke="#1a1a1a" stroke-width="1.9"/>
<text x="927.6" y="595.5" font-size="12.6" fill="#4d4d4d" text-anchor="end">10<tspan font-size="8.6" dy="-5.2">-9</tspan></text>
<line x1="933.2" y1="583.7" x2="931.6" y2="583.7" stroke="#1a1a1a" stroke-width="1.0"/>
<line x1="933.2" y1="579.7" x2="931.6" y2="579.7" stroke="#1a1a1a" stroke-width="1.0"/>
<line x1="933.2" y1="576.8" x2="931.6" y2="576.8" stroke="#1a1a1a" stroke-width="1.0"/>
<line x1="933.2" y1="574.7" x2="931.6" y2="574.7" stroke="#1a1a1a" stroke-width="1.0"/>
<line x1="933.2" y1="572.9" x2="931.6" y2="572.9" stroke="#1a1a1a" stroke-width="1.0"/>
<line x1="933.2" y1="571.4" x2="931.6" y2="571.4" stroke="#1a1a1a" stroke-width="1.0"/>
<line x1="933.2" y1="570.0" x2="931.6" y2="570.0" stroke="#1a1a1a" stroke-width="1.0"/>
<line x1="933.2" y1="568.9" x2="931.6" y2="568.9" stroke="#1a1a1a" stroke-width="1.0"/>
<line x1="933.2" y1="567.9" x2="929.8" y2="567.9" stroke="#1a1a1a" stroke-width="1.9"/>
<line x1="933.2" y1="561.0" x2="931.6" y2="561.0" stroke="#1a1a1a" stroke-width="1.0"/>
<line x1="933.2" y1="557.1" x2="931.6" y2="557.1" stroke="#1a1a1a" stroke-width="1.0"/>
<line x1="933.2" y1="554.2" x2="931.6" y2="554.2" stroke="#1a1a1a" stroke-width="1.0"/>
<line x1="933.2" y1="552.0" x2="931.6" y2="552.0" stroke="#1a1a1a" stroke-width="1.0"/>
<line x1="933.2" y1="550.3" x2="931.6" y2="550.3" stroke="#1a1a1a" stroke-width="1.0"/>
<line x1="933.2" y1="548.7" x2="931.6" y2="548.7" stroke="#1a1a1a" stroke-width="1.0"/>
<line x1="933.2" y1="547.4" x2="931.6" y2="547.4" stroke="#1a1a1a" stroke-width="1.0"/>
<line x1="933.2" y1="546.3" x2="931.6" y2="546.3" stroke="#1a1a1a" stroke-width="1.0"/>
<line x1="933.2" y1="545.2" x2="929.8" y2="545.2" stroke="#1a1a1a" stroke-width="1.9"/>
<text x="927.6" y="550.2" font-size="12.6" fill="#4d4d4d" text-anchor="end">10<tspan font-size="8.6" dy="-5.2">-7</tspan></text>
<line x1="933.2" y1="538.4" x2="931.6" y2="538.4" stroke="#1a1a1a" stroke-width="1.0"/>
<line x1="933.2" y1="534.5" x2="931.6" y2="534.5" stroke="#1a1a1a" stroke-width="1.0"/>
<line x1="933.2" y1="531.6" x2="931.6" y2="531.6" stroke="#1a1a1a" stroke-width="1.0"/>
<line x1="933.2" y1="529.4" x2="931.6" y2="529.4" stroke="#1a1a1a" stroke-width="1.0"/>
<line x1="933.2" y1="527.6" x2="931.6" y2="527.6" stroke="#1a1a1a" stroke-width="1.0"/>
<line x1="933.2" y1="526.1" x2="931.6" y2="526.1" stroke="#1a1a1a" stroke-width="1.0"/>
<line x1="933.2" y1="524.8" x2="931.6" y2="524.8" stroke="#1a1a1a" stroke-width="1.0"/>
<line x1="933.2" y1="523.7" x2="931.6" y2="523.7" stroke="#1a1a1a" stroke-width="1.0"/>
<line x1="933.2" y1="522.6" x2="929.8" y2="522.6" stroke="#1a1a1a" stroke-width="1.9"/>
<line x1="933.2" y1="515.8" x2="931.6" y2="515.8" stroke="#1a1a1a" stroke-width="1.0"/>
<line x1="933.2" y1="511.8" x2="931.6" y2="511.8" stroke="#1a1a1a" stroke-width="1.0"/>
<line x1="933.2" y1="509.0" x2="931.6" y2="509.0" stroke="#1a1a1a" stroke-width="1.0"/>
<line x1="933.2" y1="506.8" x2="931.6" y2="506.8" stroke="#1a1a1a" stroke-width="1.0"/>
<line x1="933.2" y1="505.0" x2="931.6" y2="505.0" stroke="#1a1a1a" stroke-width="1.0"/>
<line x1="933.2" y1="503.5" x2="931.6" y2="503.5" stroke="#1a1a1a" stroke-width="1.0"/>
<line x1="933.2" y1="502.2" x2="931.6" y2="502.2" stroke="#1a1a1a" stroke-width="1.0"/>
<line x1="933.2" y1="501.1" x2="931.6" y2="501.1" stroke="#1a1a1a" stroke-width="1.0"/>
<line x1="933.2" y1="500.0" x2="929.8" y2="500.0" stroke="#1a1a1a" stroke-width="1.9"/>
<text x="927.6" y="505.0" font-size="12.6" fill="#4d4d4d" text-anchor="end">10<tspan font-size="8.6" dy="-5.2">-5</tspan></text>
<line x1="933.2" y1="493.2" x2="931.6" y2="493.2" stroke="#1a1a1a" stroke-width="1.0"/>
<line x1="933.2" y1="489.2" x2="931.6" y2="489.2" stroke="#1a1a1a" stroke-width="1.0"/>
<line x1="933.2" y1="486.4" x2="931.6" y2="486.4" stroke="#1a1a1a" stroke-width="1.0"/>
<line x1="933.2" y1="484.2" x2="931.6" y2="484.2" stroke="#1a1a1a" stroke-width="1.0"/>
<line x1="933.2" y1="482.4" x2="931.6" y2="482.4" stroke="#1a1a1a" stroke-width="1.0"/>
<line x1="933.2" y1="480.9" x2="931.6" y2="480.9" stroke="#1a1a1a" stroke-width="1.0"/>
<text transform="translate(890.6,581) rotate(-90)" font-size="17.3" fill="#111" text-anchor="middle"><tspan font-style="italic">I</tspan><tspan font-size="11.5" dy="3.5">ds</tspan><tspan dy="-3.5"> (A)</tspan></text>
<text x="1038.4" y="724.5" font-size="17.5" fill="#111"><tspan font-style="italic">V</tspan><tspan font-size="11.5" dy="3.5">g</tspan><tspan dy="-3.5"> (V)</tspan></text>
<text x="868.4" y="501.1" font-size="28.5" font-weight="bold" fill="#000" text-anchor="start" >(n)</text>
<text x="1022.2" y="502.2" font-size="17.4" font-weight="bold" fill="#000" text-anchor="start" >WSe<tspan font-size="11.5" dy="3.2">2</tspan></text>
<text x="1072.8" y="552.6" font-size="17.4" font-weight="bold" fill="#111"><tspan font-style="italic">V</tspan><tspan font-size="11.5" dy="3.5">ds</tspan><tspan dy="-3.5"> = 1 V</tspan></text>
<line x1="1101" y1="491" x2="1133.5" y2="491" stroke="#4a4a4a" stroke-width="1.6"/>
<text x="1140.4" y="495.7" font-size="15.6" font-weight="normal" fill="#111" text-anchor="start" >Earth</text>
<line x1="1101" y1="510" x2="1133.5" y2="510" stroke="#e23a3a" stroke-width="1.6"/>
<text x="1136.8" y="514.5" font-size="15.6" font-weight="normal" fill="#111" text-anchor="start" >Space</text>
</g>
</svg>
</body></html>
